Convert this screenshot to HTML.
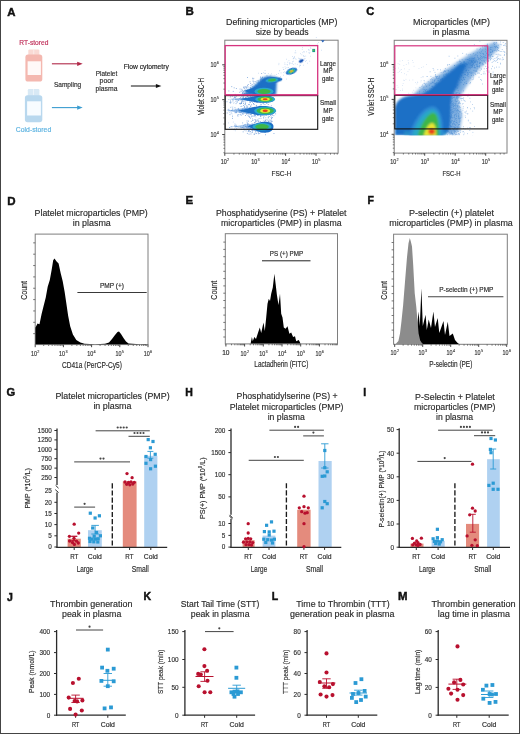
<!DOCTYPE html>
<html><head><meta charset="utf-8"><style>
html,body{margin:0;padding:0;background:#fff;}
body{width:520px;height:734px;overflow:hidden;}
svg{display:block;font-family:"Liberation Sans", sans-serif;will-change:transform;filter:blur(0.3px);}
</style></head><body>
<svg width="520" height="734" viewBox="0 0 520 734">
<rect x="0" y="0" width="520" height="734" fill="#fff"/>
<text x="7.3" y="15.6" font-size="11.4" text-anchor="start" font-weight="bold" fill="#111" stroke="#111" stroke-width="0.45">A</text>
<text x="185.6" y="15.0" font-size="11.5" text-anchor="start" font-weight="bold" fill="#111" stroke="#111" stroke-width="0.45">B</text>
<text x="366.2" y="15.4" font-size="11.2" text-anchor="start" font-weight="bold" fill="#111" stroke="#111" stroke-width="0.45">C</text>
<text x="7.2" y="204.6" font-size="11.5" text-anchor="start" font-weight="bold" fill="#111" stroke="#111" stroke-width="0.45">D</text>
<text x="185.5" y="204.4" font-size="11.5" text-anchor="start" font-weight="bold" fill="#111" stroke="#111" stroke-width="0.45">E</text>
<text x="367.5" y="204.3" font-size="10.5" text-anchor="start" font-weight="bold" fill="#111" stroke="#111" stroke-width="0.45">F</text>
<text x="6.5" y="396.2" font-size="11.2" text-anchor="start" font-weight="bold" fill="#111" stroke="#111" stroke-width="0.45">G</text>
<text x="185.2" y="396.4" font-size="10.5" text-anchor="start" font-weight="bold" fill="#111" stroke="#111" stroke-width="0.45">H</text>
<text x="363.2" y="395.8" font-size="10.5" text-anchor="start" font-weight="bold" fill="#111" stroke="#111" stroke-width="0.45">I</text>
<text x="7.0" y="600.5" font-size="10.5" text-anchor="start" font-weight="bold" fill="#111" stroke="#111" stroke-width="0.45">J</text>
<text x="143.5" y="600.0" font-size="10.5" text-anchor="start" font-weight="bold" fill="#111" stroke="#111" stroke-width="0.45">K</text>
<text x="271.8" y="600.0" font-size="10.5" text-anchor="start" font-weight="bold" fill="#111" stroke="#111" stroke-width="0.45">L</text>
<text x="397.9" y="600.3" font-size="11.4" text-anchor="start" font-weight="bold" fill="#111" stroke="#111" stroke-width="0.45">M</text>
<text x="19.3" y="45.0" font-size="6.7" text-anchor="start" fill="#c0305a" stroke="#c0305a" stroke-width="0.16" textLength="29.1" lengthAdjust="spacingAndGlyphs">RT-stored</text>
<text x="15.8" y="131.9" font-size="7.4" text-anchor="start" fill="#5ab2e0" stroke="#5ab2e0" stroke-width="0.16" textLength="35.4" lengthAdjust="spacingAndGlyphs">Cold-stored</text>
<rect x="28.3" y="49.6" width="11.1" height="6.5" rx="1.2" fill="#f9dad4"/>
<rect x="33.4" y="49.6" width="0.8" height="5.0" fill="#ffffff" opacity="0.6"/>
<rect x="25.4" y="54.6" width="16.9" height="26.9" rx="2.6" fill="#f4b8b0"/>
<rect x="27.60" y="61.30" width="13.30" height="13.70" fill="#fff9f8" stroke="none" stroke-width="1"/>
<rect x="27.8" y="89.0" width="11.6" height="7.8" rx="1.2" fill="#d8e9f5"/>
<rect x="33.2" y="89.0" width="0.8" height="6.3" fill="#ffffff" opacity="0.6"/>
<rect x="24.9" y="95.3" width="17.4" height="26.9" rx="2.6" fill="#b9d8ee"/>
<rect x="27.10" y="101.30" width="13.80" height="14.20" fill="#f8fcff" stroke="none" stroke-width="1"/>
<line x1="51.90" y1="63.80" x2="78.70" y2="63.80" stroke="#b02848" stroke-width="1.1"/>
<path d="M77.2,61.7 L82.7,63.8 L77.2,65.9 Z" fill="#b02848"/>
<line x1="51.90" y1="107.60" x2="78.70" y2="107.60" stroke="#3a9cd0" stroke-width="1.1"/>
<path d="M77.2,105.5 L82.7,107.6 L77.2,109.7 Z" fill="#3a9cd0"/>
<text x="53.9" y="86.5" font-size="7.5" text-anchor="start" fill="#2b2b2b" stroke="#2b2b2b" stroke-width="0.16" textLength="27.3" lengthAdjust="spacingAndGlyphs">Sampling</text>
<text x="106.5" y="75.5" font-size="7.5" text-anchor="middle" fill="#2b2b2b" stroke="#2b2b2b" stroke-width="0.16" textLength="21.5" lengthAdjust="spacingAndGlyphs">Platelet</text>
<text x="106.5" y="83.2" font-size="7.5" text-anchor="middle" fill="#2b2b2b" stroke="#2b2b2b" stroke-width="0.16" textLength="14.0" lengthAdjust="spacingAndGlyphs">poor</text>
<text x="106.5" y="90.8" font-size="7.5" text-anchor="middle" fill="#2b2b2b" stroke="#2b2b2b" stroke-width="0.16" textLength="22.0" lengthAdjust="spacingAndGlyphs">plasma</text>
<text x="123.7" y="68.8" font-size="6.8" text-anchor="start" fill="#222" stroke="#222" stroke-width="0.16" textLength="45.1" lengthAdjust="spacingAndGlyphs">Flow cytometry</text>
<line x1="130.90" y1="86.00" x2="157.40" y2="86.00" stroke="#111" stroke-width="1.0"/>
<path d="M155.9,83.9 L161.4,86.0 L155.9,88.1 Z" fill="#111"/>
<defs>
<filter id="bl" x="-50%" y="-50%" width="200%" height="200%"><feGaussianBlur stdDeviation="0.9"/></filter>
<filter id="bl2" x="-50%" y="-50%" width="200%" height="200%"><feGaussianBlur stdDeviation="1.6"/></filter>
<filter id="bl3" x="-50%" y="-50%" width="200%" height="200%"><feGaussianBlur stdDeviation="0.5"/></filter>
</defs>
<text x="226.0" y="24.7" font-size="9" text-anchor="start" fill="#2b2b2b" stroke="#2b2b2b" stroke-width="0.16" textLength="111.5" lengthAdjust="spacingAndGlyphs">Defining microparticles (MP)</text>
<text x="255.7" y="34.9" font-size="9" text-anchor="start" fill="#2b2b2b" stroke="#2b2b2b" stroke-width="0.16" textLength="53.0" lengthAdjust="spacingAndGlyphs">size by beads</text>
<rect x="224.80" y="40.20" width="113.30" height="113.00" fill="#fff" stroke="#7e7e7e" stroke-width="1.0"/>
<g fill="#5a8fd6" opacity="0.5"><rect x="275.9" y="81.7" width="0.7" height="0.7"/><rect x="252.3" y="86.0" width="0.7" height="0.7"/><rect x="254.4" y="87.5" width="0.7" height="0.7"/><rect x="280.7" y="72.6" width="0.7" height="0.7"/><rect x="279.4" y="70.1" width="0.7" height="0.7"/><rect x="258.2" y="72.8" width="0.7" height="0.7"/><rect x="278.0" y="73.2" width="0.7" height="0.7"/><rect x="257.2" y="85.2" width="0.7" height="0.7"/><rect x="263.8" y="86.5" width="0.7" height="0.7"/><rect x="305.1" y="61.1" width="0.7" height="0.7"/><rect x="287.7" y="67.2" width="0.7" height="0.7"/><rect x="258.7" y="88.5" width="0.7" height="0.7"/><rect x="290.7" y="63.1" width="0.7" height="0.7"/><rect x="284.7" y="66.5" width="0.7" height="0.7"/><rect x="300.2" y="53.4" width="0.7" height="0.7"/><rect x="278.5" y="64.4" width="0.7" height="0.7"/><rect x="294.3" y="71.6" width="0.7" height="0.7"/><rect x="252.7" y="88.8" width="0.7" height="0.7"/><rect x="260.2" y="83.7" width="0.7" height="0.7"/><rect x="294.0" y="56.1" width="0.7" height="0.7"/><rect x="303.6" y="59.6" width="0.7" height="0.7"/><rect x="284.5" y="62.6" width="0.7" height="0.7"/><rect x="308.9" y="53.0" width="0.7" height="0.7"/><rect x="299.7" y="64.7" width="0.7" height="0.7"/><rect x="300.5" y="62.5" width="0.7" height="0.7"/><rect x="264.6" y="82.4" width="0.7" height="0.7"/><rect x="250.7" y="89.7" width="0.7" height="0.7"/><rect x="266.4" y="87.9" width="0.7" height="0.7"/><rect x="260.1" y="89.0" width="0.7" height="0.7"/><rect x="310.3" y="55.8" width="0.7" height="0.7"/><rect x="292.3" y="61.4" width="0.7" height="0.7"/><rect x="304.7" y="58.3" width="0.7" height="0.7"/><rect x="282.7" y="67.4" width="0.7" height="0.7"/><rect x="262.8" y="86.6" width="0.7" height="0.7"/><rect x="260.5" y="80.8" width="0.7" height="0.7"/><rect x="273.0" y="79.1" width="0.7" height="0.7"/><rect x="264.7" y="70.0" width="0.7" height="0.7"/><rect x="288.6" y="60.4" width="0.7" height="0.7"/><rect x="303.0" y="64.8" width="0.7" height="0.7"/><rect x="306.0" y="51.5" width="0.7" height="0.7"/><rect x="274.6" y="74.8" width="0.7" height="0.7"/><rect x="292.9" y="64.0" width="0.7" height="0.7"/><rect x="267.1" y="84.7" width="0.7" height="0.7"/><rect x="257.8" y="87.8" width="0.7" height="0.7"/><rect x="257.6" y="86.5" width="0.7" height="0.7"/><rect x="304.3" y="51.6" width="0.7" height="0.7"/><rect x="265.2" y="82.9" width="0.7" height="0.7"/><rect x="267.9" y="73.3" width="0.7" height="0.7"/><rect x="279.0" y="70.6" width="0.7" height="0.7"/><rect x="256.4" y="88.7" width="0.7" height="0.7"/><rect x="303.9" y="56.0" width="0.7" height="0.7"/><rect x="308.5" y="49.6" width="0.7" height="0.7"/><rect x="291.1" y="68.1" width="0.7" height="0.7"/><rect x="317.2" y="43.6" width="0.7" height="0.7"/><rect x="266.4" y="81.1" width="0.7" height="0.7"/><rect x="292.2" y="56.0" width="0.7" height="0.7"/><rect x="273.8" y="84.3" width="0.7" height="0.7"/><rect x="318.0" y="42.1" width="0.7" height="0.7"/><rect x="302.5" y="52.4" width="0.7" height="0.7"/><rect x="283.4" y="69.1" width="0.7" height="0.7"/><rect x="253.1" y="92.3" width="0.7" height="0.7"/><rect x="299.7" y="59.6" width="0.7" height="0.7"/><rect x="321.3" y="49.8" width="0.7" height="0.7"/><rect x="275.2" y="77.9" width="0.7" height="0.7"/><rect x="266.0" y="87.8" width="0.7" height="0.7"/><rect x="310.6" y="47.9" width="0.7" height="0.7"/><rect x="293.1" y="60.8" width="0.7" height="0.7"/><rect x="299.6" y="58.0" width="0.7" height="0.7"/><rect x="295.7" y="58.9" width="0.7" height="0.7"/><rect x="296.9" y="63.9" width="0.7" height="0.7"/><rect x="308.6" y="52.0" width="0.7" height="0.7"/><rect x="310.3" y="47.5" width="0.7" height="0.7"/><rect x="265.6" y="92.6" width="0.7" height="0.7"/><rect x="307.1" y="62.8" width="0.7" height="0.7"/><rect x="310.5" y="45.3" width="0.7" height="0.7"/><rect x="286.5" y="67.5" width="0.7" height="0.7"/><rect x="309.0" y="44.8" width="0.7" height="0.7"/><rect x="301.5" y="54.5" width="0.7" height="0.7"/><rect x="304.1" y="58.6" width="0.7" height="0.7"/><rect x="270.5" y="83.7" width="0.7" height="0.7"/><rect x="266.0" y="80.3" width="0.7" height="0.7"/><rect x="305.4" y="55.7" width="0.7" height="0.7"/><rect x="292.0" y="62.8" width="0.7" height="0.7"/><rect x="303.4" y="51.4" width="0.7" height="0.7"/><rect x="289.3" y="68.6" width="0.7" height="0.7"/><rect x="271.4" y="82.5" width="0.7" height="0.7"/><rect x="255.6" y="84.0" width="0.7" height="0.7"/><rect x="284.0" y="71.5" width="0.7" height="0.7"/><rect x="286.9" y="64.6" width="0.7" height="0.7"/><rect x="286.8" y="70.1" width="0.7" height="0.7"/><rect x="294.1" y="57.3" width="0.7" height="0.7"/><rect x="303.3" y="55.5" width="0.7" height="0.7"/><rect x="284.6" y="64.1" width="0.7" height="0.7"/><rect x="289.6" y="62.5" width="0.7" height="0.7"/><rect x="288.1" y="67.4" width="0.7" height="0.7"/><rect x="309.6" y="51.9" width="0.7" height="0.7"/><rect x="294.8" y="63.5" width="0.7" height="0.7"/><rect x="264.0" y="87.6" width="0.7" height="0.7"/><rect x="256.6" y="88.7" width="0.7" height="0.7"/><rect x="295.5" y="52.5" width="0.7" height="0.7"/><rect x="260.2" y="77.1" width="0.7" height="0.7"/><rect x="269.6" y="76.1" width="0.7" height="0.7"/><rect x="269.9" y="79.4" width="0.7" height="0.7"/><rect x="290.7" y="69.0" width="0.7" height="0.7"/><rect x="257.1" y="85.5" width="0.7" height="0.7"/><rect x="274.3" y="79.5" width="0.7" height="0.7"/><rect x="302.4" y="60.4" width="0.7" height="0.7"/><rect x="283.3" y="72.0" width="0.7" height="0.7"/><rect x="289.0" y="63.7" width="0.7" height="0.7"/><rect x="315.9" y="37.0" width="0.7" height="0.7"/><rect x="258.4" y="86.9" width="0.7" height="0.7"/><rect x="300.0" y="59.6" width="0.7" height="0.7"/><rect x="285.2" y="67.9" width="0.7" height="0.7"/><rect x="274.0" y="87.3" width="0.7" height="0.7"/><rect x="286.8" y="64.2" width="0.7" height="0.7"/><rect x="253.8" y="83.2" width="0.7" height="0.7"/><rect x="262.4" y="84.5" width="0.7" height="0.7"/><rect x="309.4" y="60.8" width="0.7" height="0.7"/><rect x="259.4" y="83.4" width="0.7" height="0.7"/><rect x="263.3" y="72.4" width="0.7" height="0.7"/><rect x="272.4" y="82.7" width="0.7" height="0.7"/><rect x="268.8" y="81.7" width="0.7" height="0.7"/><rect x="256.3" y="91.6" width="0.7" height="0.7"/><rect x="271.1" y="73.5" width="0.7" height="0.7"/><rect x="284.8" y="72.7" width="0.7" height="0.7"/><rect x="253.1" y="90.0" width="0.7" height="0.7"/><rect x="294.7" y="58.3" width="0.7" height="0.7"/><rect x="283.4" y="69.2" width="0.7" height="0.7"/><rect x="298.0" y="57.8" width="0.7" height="0.7"/><rect x="299.6" y="58.3" width="0.7" height="0.7"/><rect x="298.7" y="60.7" width="0.7" height="0.7"/><rect x="301.9" y="48.9" width="0.7" height="0.7"/><rect x="276.2" y="74.2" width="0.7" height="0.7"/><rect x="266.7" y="87.7" width="0.7" height="0.7"/><rect x="268.8" y="80.9" width="0.7" height="0.7"/><rect x="308.8" y="49.8" width="0.7" height="0.7"/><rect x="269.7" y="81.9" width="0.7" height="0.7"/><rect x="283.2" y="74.8" width="0.7" height="0.7"/><rect x="280.0" y="76.1" width="0.7" height="0.7"/><rect x="286.3" y="78.7" width="0.7" height="0.7"/><rect x="271.1" y="77.2" width="0.7" height="0.7"/><rect x="270.4" y="74.8" width="0.7" height="0.7"/><rect x="264.0" y="81.5" width="0.7" height="0.7"/><rect x="272.2" y="81.3" width="0.7" height="0.7"/><rect x="258.4" y="88.8" width="0.7" height="0.7"/><rect x="261.7" y="77.4" width="0.7" height="0.7"/><rect x="294.6" y="52.5" width="0.7" height="0.7"/><rect x="303.4" y="55.6" width="0.7" height="0.7"/><rect x="317.3" y="54.5" width="0.7" height="0.7"/><rect x="300.1" y="65.3" width="0.7" height="0.7"/><rect x="302.2" y="47.3" width="0.7" height="0.7"/><rect x="305.9" y="60.1" width="0.7" height="0.7"/><rect x="287.4" y="61.8" width="0.7" height="0.7"/><rect x="295.0" y="50.5" width="0.7" height="0.7"/><rect x="293.2" y="58.3" width="0.7" height="0.7"/><rect x="256.8" y="91.9" width="0.7" height="0.7"/><rect x="261.5" y="80.7" width="0.7" height="0.7"/><rect x="286.2" y="58.8" width="0.7" height="0.7"/><rect x="290.4" y="69.6" width="0.7" height="0.7"/><rect x="292.8" y="58.5" width="0.7" height="0.7"/><rect x="299.6" y="65.3" width="0.7" height="0.7"/><rect x="270.8" y="81.0" width="0.7" height="0.7"/><rect x="299.3" y="66.5" width="0.7" height="0.7"/><rect x="308.1" y="49.2" width="0.7" height="0.7"/><rect x="278.6" y="62.9" width="0.7" height="0.7"/><rect x="289.1" y="62.7" width="0.7" height="0.7"/><rect x="261.0" y="91.2" width="0.7" height="0.7"/><rect x="270.2" y="76.9" width="0.7" height="0.7"/><rect x="255.0" y="94.1" width="0.7" height="0.7"/><rect x="293.2" y="57.6" width="0.7" height="0.7"/></g>
<g fill="#3a7fd0" opacity="0.5"><rect x="243.8" y="109.3" width="0.7" height="0.7"/><rect x="238.6" y="110.5" width="0.7" height="0.7"/><rect x="259.8" y="101.4" width="0.7" height="0.7"/><rect x="261.8" y="126.4" width="0.7" height="0.7"/><rect x="235.1" y="127.5" width="0.7" height="0.7"/><rect x="232.8" y="98.7" width="0.7" height="0.7"/><rect x="260.4" y="112.8" width="0.7" height="0.7"/><rect x="258.2" y="113.0" width="0.7" height="0.7"/><rect x="235.9" y="112.1" width="0.7" height="0.7"/><rect x="233.4" y="97.8" width="0.7" height="0.7"/><rect x="251.2" y="123.5" width="0.7" height="0.7"/><rect x="239.7" y="128.0" width="0.7" height="0.7"/><rect x="232.1" y="109.4" width="0.7" height="0.7"/><rect x="256.5" y="111.8" width="0.7" height="0.7"/><rect x="260.0" y="99.3" width="0.7" height="0.7"/><rect x="236.6" y="110.6" width="0.7" height="0.7"/><rect x="241.4" y="101.9" width="0.7" height="0.7"/><rect x="259.5" y="110.3" width="0.7" height="0.7"/><rect x="257.0" y="110.2" width="0.7" height="0.7"/><rect x="249.6" y="110.9" width="0.7" height="0.7"/><rect x="236.5" y="110.1" width="0.7" height="0.7"/><rect x="254.3" y="112.7" width="0.7" height="0.7"/><rect x="258.1" y="127.3" width="0.7" height="0.7"/><rect x="252.5" y="107.7" width="0.7" height="0.7"/><rect x="259.7" y="96.9" width="0.7" height="0.7"/><rect x="249.9" y="111.8" width="0.7" height="0.7"/><rect x="244.5" y="112.5" width="0.7" height="0.7"/><rect x="244.1" y="109.0" width="0.7" height="0.7"/><rect x="237.6" y="110.2" width="0.7" height="0.7"/><rect x="241.8" y="113.6" width="0.7" height="0.7"/><rect x="238.2" y="108.4" width="0.7" height="0.7"/><rect x="249.9" y="109.6" width="0.7" height="0.7"/><rect x="235.1" y="101.1" width="0.7" height="0.7"/><rect x="243.4" y="109.0" width="0.7" height="0.7"/><rect x="261.9" y="109.3" width="0.7" height="0.7"/><rect x="236.3" y="110.6" width="0.7" height="0.7"/><rect x="239.6" y="111.5" width="0.7" height="0.7"/><rect x="255.5" y="111.1" width="0.7" height="0.7"/><rect x="258.2" y="110.3" width="0.7" height="0.7"/><rect x="253.4" y="124.1" width="0.7" height="0.7"/><rect x="240.8" y="109.9" width="0.7" height="0.7"/><rect x="247.5" y="110.9" width="0.7" height="0.7"/><rect x="232.3" y="107.5" width="0.7" height="0.7"/><rect x="231.1" y="110.2" width="0.7" height="0.7"/><rect x="241.1" y="109.0" width="0.7" height="0.7"/><rect x="256.9" y="108.6" width="0.7" height="0.7"/><rect x="232.3" y="96.2" width="0.7" height="0.7"/><rect x="260.9" y="127.7" width="0.7" height="0.7"/><rect x="228.0" y="122.6" width="0.7" height="0.7"/><rect x="261.1" y="129.1" width="0.7" height="0.7"/><rect x="254.6" y="110.5" width="0.7" height="0.7"/><rect x="260.0" y="100.3" width="0.7" height="0.7"/><rect x="230.9" y="126.2" width="0.7" height="0.7"/><rect x="235.9" y="110.2" width="0.7" height="0.7"/><rect x="249.9" y="98.9" width="0.7" height="0.7"/><rect x="246.0" y="111.3" width="0.7" height="0.7"/><rect x="251.8" y="126.8" width="0.7" height="0.7"/><rect x="241.2" y="110.8" width="0.7" height="0.7"/><rect x="254.9" y="112.8" width="0.7" height="0.7"/><rect x="237.5" y="126.2" width="0.7" height="0.7"/><rect x="249.9" y="112.0" width="0.7" height="0.7"/><rect x="246.6" y="108.8" width="0.7" height="0.7"/><rect x="260.7" y="98.7" width="0.7" height="0.7"/><rect x="234.6" y="97.6" width="0.7" height="0.7"/><rect x="230.8" y="126.5" width="0.7" height="0.7"/><rect x="235.7" y="112.4" width="0.7" height="0.7"/><rect x="251.7" y="98.8" width="0.7" height="0.7"/><rect x="234.7" y="124.3" width="0.7" height="0.7"/><rect x="253.1" y="108.9" width="0.7" height="0.7"/><rect x="238.6" y="110.3" width="0.7" height="0.7"/><rect x="235.8" y="110.9" width="0.7" height="0.7"/><rect x="231.7" y="113.6" width="0.7" height="0.7"/><rect x="248.7" y="128.0" width="0.7" height="0.7"/><rect x="260.3" y="97.8" width="0.7" height="0.7"/><rect x="259.3" y="110.7" width="0.7" height="0.7"/><rect x="242.1" y="110.4" width="0.7" height="0.7"/><rect x="234.3" y="96.2" width="0.7" height="0.7"/><rect x="252.9" y="111.3" width="0.7" height="0.7"/><rect x="259.7" y="98.6" width="0.7" height="0.7"/><rect x="229.1" y="127.3" width="0.7" height="0.7"/><rect x="256.5" y="128.4" width="0.7" height="0.7"/><rect x="228.1" y="99.0" width="0.7" height="0.7"/><rect x="230.7" y="106.7" width="0.7" height="0.7"/><rect x="240.9" y="112.3" width="0.7" height="0.7"/><rect x="255.9" y="109.7" width="0.7" height="0.7"/><rect x="234.7" y="126.5" width="0.7" height="0.7"/><rect x="234.6" y="123.4" width="0.7" height="0.7"/><rect x="249.5" y="102.4" width="0.7" height="0.7"/><rect x="255.6" y="110.4" width="0.7" height="0.7"/><rect x="243.8" y="98.6" width="0.7" height="0.7"/><rect x="236.7" y="99.1" width="0.7" height="0.7"/><rect x="240.3" y="106.0" width="0.7" height="0.7"/><rect x="260.6" y="109.1" width="0.7" height="0.7"/><rect x="259.4" y="109.3" width="0.7" height="0.7"/><rect x="228.1" y="110.5" width="0.7" height="0.7"/><rect x="228.8" y="94.7" width="0.7" height="0.7"/><rect x="231.6" y="109.8" width="0.7" height="0.7"/><rect x="254.9" y="124.0" width="0.7" height="0.7"/><rect x="255.7" y="127.8" width="0.7" height="0.7"/><rect x="255.3" y="100.9" width="0.7" height="0.7"/><rect x="256.0" y="110.7" width="0.7" height="0.7"/><rect x="257.3" y="107.6" width="0.7" height="0.7"/><rect x="240.3" y="126.4" width="0.7" height="0.7"/><rect x="241.3" y="109.5" width="0.7" height="0.7"/><rect x="236.4" y="110.8" width="0.7" height="0.7"/><rect x="233.5" y="110.5" width="0.7" height="0.7"/><rect x="258.0" y="127.8" width="0.7" height="0.7"/><rect x="235.1" y="99.1" width="0.7" height="0.7"/><rect x="244.9" y="125.7" width="0.7" height="0.7"/><rect x="232.5" y="108.2" width="0.7" height="0.7"/><rect x="249.1" y="124.7" width="0.7" height="0.7"/><rect x="254.5" y="96.2" width="0.7" height="0.7"/><rect x="238.0" y="108.5" width="0.7" height="0.7"/><rect x="234.8" y="109.5" width="0.7" height="0.7"/><rect x="234.3" y="110.4" width="0.7" height="0.7"/><rect x="239.1" y="111.9" width="0.7" height="0.7"/><rect x="236.6" y="126.3" width="0.7" height="0.7"/><rect x="250.2" y="101.6" width="0.7" height="0.7"/><rect x="231.5" y="95.5" width="0.7" height="0.7"/><rect x="259.1" y="126.8" width="0.7" height="0.7"/><rect x="257.8" y="99.3" width="0.7" height="0.7"/><rect x="259.6" y="110.9" width="0.7" height="0.7"/><rect x="245.4" y="111.5" width="0.7" height="0.7"/><rect x="231.6" y="101.6" width="0.7" height="0.7"/><rect x="235.4" y="109.6" width="0.7" height="0.7"/><rect x="262.0" y="111.1" width="0.7" height="0.7"/><rect x="248.4" y="98.4" width="0.7" height="0.7"/><rect x="255.8" y="98.1" width="0.7" height="0.7"/><rect x="251.1" y="126.9" width="0.7" height="0.7"/><rect x="229.1" y="111.9" width="0.7" height="0.7"/><rect x="246.6" y="127.1" width="0.7" height="0.7"/><rect x="250.6" y="126.6" width="0.7" height="0.7"/><rect x="249.7" y="111.3" width="0.7" height="0.7"/><rect x="241.9" y="110.9" width="0.7" height="0.7"/><rect x="250.7" y="109.7" width="0.7" height="0.7"/><rect x="242.1" y="110.6" width="0.7" height="0.7"/><rect x="257.4" y="101.1" width="0.7" height="0.7"/><rect x="241.3" y="110.3" width="0.7" height="0.7"/><rect x="234.9" y="130.5" width="0.7" height="0.7"/><rect x="231.9" y="126.4" width="0.7" height="0.7"/><rect x="241.8" y="100.8" width="0.7" height="0.7"/><rect x="232.4" y="108.8" width="0.7" height="0.7"/><rect x="246.8" y="96.4" width="0.7" height="0.7"/><rect x="247.5" y="95.8" width="0.7" height="0.7"/><rect x="253.1" y="111.2" width="0.7" height="0.7"/><rect x="245.7" y="111.9" width="0.7" height="0.7"/><rect x="231.7" y="95.6" width="0.7" height="0.7"/><rect x="238.3" y="110.5" width="0.7" height="0.7"/><rect x="261.2" y="98.5" width="0.7" height="0.7"/><rect x="230.9" y="126.3" width="0.7" height="0.7"/><rect x="249.8" y="112.0" width="0.7" height="0.7"/><rect x="256.2" y="108.1" width="0.7" height="0.7"/><rect x="247.2" y="114.9" width="0.7" height="0.7"/><rect x="241.0" y="111.5" width="0.7" height="0.7"/><rect x="233.1" y="102.8" width="0.7" height="0.7"/><rect x="229.4" y="109.6" width="0.7" height="0.7"/><rect x="250.7" y="98.3" width="0.7" height="0.7"/><rect x="246.7" y="128.0" width="0.7" height="0.7"/><rect x="250.1" y="109.8" width="0.7" height="0.7"/><rect x="250.4" y="127.6" width="0.7" height="0.7"/><rect x="245.1" y="126.3" width="0.7" height="0.7"/><rect x="243.8" y="126.4" width="0.7" height="0.7"/><rect x="254.0" y="126.6" width="0.7" height="0.7"/><rect x="255.6" y="108.1" width="0.7" height="0.7"/><rect x="231.6" y="127.7" width="0.7" height="0.7"/><rect x="255.3" y="100.7" width="0.7" height="0.7"/><rect x="229.4" y="102.3" width="0.7" height="0.7"/><rect x="254.4" y="113.6" width="0.7" height="0.7"/><rect x="229.8" y="97.3" width="0.7" height="0.7"/><rect x="228.9" y="110.3" width="0.7" height="0.7"/><rect x="261.9" y="98.8" width="0.7" height="0.7"/><rect x="232.5" y="106.6" width="0.7" height="0.7"/><rect x="237.8" y="127.5" width="0.7" height="0.7"/><rect x="230.2" y="107.0" width="0.7" height="0.7"/><rect x="248.8" y="110.3" width="0.7" height="0.7"/><rect x="258.8" y="112.1" width="0.7" height="0.7"/><rect x="232.9" y="121.7" width="0.7" height="0.7"/><rect x="248.1" y="110.2" width="0.7" height="0.7"/><rect x="238.8" y="111.5" width="0.7" height="0.7"/><rect x="249.6" y="110.6" width="0.7" height="0.7"/><rect x="251.1" y="111.3" width="0.7" height="0.7"/><rect x="231.9" y="109.6" width="0.7" height="0.7"/><rect x="249.6" y="96.6" width="0.7" height="0.7"/><rect x="236.6" y="102.3" width="0.7" height="0.7"/><rect x="253.1" y="124.9" width="0.7" height="0.7"/><rect x="247.6" y="111.7" width="0.7" height="0.7"/><rect x="239.2" y="111.6" width="0.7" height="0.7"/><rect x="238.1" y="99.9" width="0.7" height="0.7"/><rect x="238.5" y="114.3" width="0.7" height="0.7"/><rect x="252.9" y="109.4" width="0.7" height="0.7"/><rect x="235.5" y="98.5" width="0.7" height="0.7"/><rect x="245.4" y="128.9" width="0.7" height="0.7"/><rect x="232.5" y="99.6" width="0.7" height="0.7"/><rect x="229.8" y="102.1" width="0.7" height="0.7"/><rect x="238.3" y="107.9" width="0.7" height="0.7"/><rect x="247.8" y="125.8" width="0.7" height="0.7"/><rect x="234.9" y="108.7" width="0.7" height="0.7"/><rect x="228.5" y="108.7" width="0.7" height="0.7"/><rect x="252.1" y="109.6" width="0.7" height="0.7"/><rect x="257.6" y="110.5" width="0.7" height="0.7"/><rect x="241.7" y="110.3" width="0.7" height="0.7"/><rect x="248.2" y="110.6" width="0.7" height="0.7"/><rect x="248.5" y="123.9" width="0.7" height="0.7"/><rect x="258.7" y="110.0" width="0.7" height="0.7"/><rect x="230.1" y="100.5" width="0.7" height="0.7"/><rect x="230.0" y="110.5" width="0.7" height="0.7"/><rect x="228.4" y="94.7" width="0.7" height="0.7"/><rect x="242.0" y="108.8" width="0.7" height="0.7"/><rect x="255.7" y="127.0" width="0.7" height="0.7"/><rect x="249.3" y="111.8" width="0.7" height="0.7"/><rect x="252.3" y="130.1" width="0.7" height="0.7"/><rect x="230.7" y="126.4" width="0.7" height="0.7"/><rect x="234.0" y="127.8" width="0.7" height="0.7"/><rect x="232.2" y="99.2" width="0.7" height="0.7"/><rect x="252.2" y="110.0" width="0.7" height="0.7"/><rect x="251.3" y="128.7" width="0.7" height="0.7"/><rect x="238.1" y="114.1" width="0.7" height="0.7"/><rect x="257.9" y="97.4" width="0.7" height="0.7"/><rect x="233.8" y="102.4" width="0.7" height="0.7"/><rect x="260.1" y="108.1" width="0.7" height="0.7"/></g>
<g fill="#2f6fc6" opacity="0.6"><rect x="251.2" y="100.9" width="0.9" height="0.9"/><rect x="255.9" y="104.9" width="0.9" height="0.9"/><rect x="241.2" y="95.5" width="0.9" height="0.9"/><rect x="235.1" y="95.3" width="0.9" height="0.9"/><rect x="257.0" y="98.2" width="0.9" height="0.9"/><rect x="248.0" y="104.2" width="0.9" height="0.9"/><rect x="267.5" y="99.7" width="0.9" height="0.9"/><rect x="257.5" y="98.4" width="0.9" height="0.9"/><rect x="261.8" y="99.3" width="0.9" height="0.9"/><rect x="242.6" y="97.8" width="0.9" height="0.9"/><rect x="236.5" y="100.6" width="0.9" height="0.9"/><rect x="236.8" y="101.5" width="0.9" height="0.9"/><rect x="226.5" y="101.3" width="0.9" height="0.9"/><rect x="261.7" y="100.6" width="0.9" height="0.9"/><rect x="262.5" y="99.6" width="0.9" height="0.9"/><rect x="251.4" y="96.0" width="0.9" height="0.9"/><rect x="245.5" y="97.6" width="0.9" height="0.9"/><rect x="261.4" y="99.3" width="0.9" height="0.9"/><rect x="252.0" y="101.7" width="0.9" height="0.9"/><rect x="266.1" y="98.4" width="0.9" height="0.9"/><rect x="265.7" y="100.9" width="0.9" height="0.9"/><rect x="266.9" y="101.3" width="0.9" height="0.9"/><rect x="242.0" y="99.7" width="0.9" height="0.9"/><rect x="242.9" y="96.9" width="0.9" height="0.9"/><rect x="262.8" y="98.8" width="0.9" height="0.9"/><rect x="260.0" y="99.9" width="0.9" height="0.9"/><rect x="250.1" y="99.2" width="0.9" height="0.9"/><rect x="230.4" y="102.2" width="0.9" height="0.9"/><rect x="240.8" y="99.4" width="0.9" height="0.9"/><rect x="252.4" y="96.4" width="0.9" height="0.9"/><rect x="270.9" y="105.4" width="0.9" height="0.9"/><rect x="252.8" y="98.2" width="0.9" height="0.9"/><rect x="241.0" y="101.6" width="0.9" height="0.9"/><rect x="262.5" y="97.7" width="0.9" height="0.9"/><rect x="242.6" y="97.4" width="0.9" height="0.9"/><rect x="249.3" y="100.1" width="0.9" height="0.9"/><rect x="258.0" y="98.8" width="0.9" height="0.9"/><rect x="254.5" y="101.7" width="0.9" height="0.9"/><rect x="239.1" y="102.9" width="0.9" height="0.9"/><rect x="249.5" y="94.9" width="0.9" height="0.9"/><rect x="259.4" y="95.5" width="0.9" height="0.9"/><rect x="249.7" y="102.0" width="0.9" height="0.9"/><rect x="262.8" y="95.6" width="0.9" height="0.9"/><rect x="254.4" y="99.7" width="0.9" height="0.9"/><rect x="243.5" y="101.3" width="0.9" height="0.9"/><rect x="260.0" y="100.0" width="0.9" height="0.9"/><rect x="260.8" y="94.4" width="0.9" height="0.9"/><rect x="258.5" y="99.2" width="0.9" height="0.9"/><rect x="261.2" y="99.0" width="0.9" height="0.9"/><rect x="253.0" y="103.3" width="0.9" height="0.9"/><rect x="235.6" y="103.2" width="0.9" height="0.9"/><rect x="260.5" y="103.8" width="0.9" height="0.9"/><rect x="259.4" y="96.4" width="0.9" height="0.9"/><rect x="249.2" y="100.6" width="0.9" height="0.9"/><rect x="262.6" y="99.6" width="0.9" height="0.9"/><rect x="239.4" y="98.1" width="0.9" height="0.9"/><rect x="245.3" y="97.1" width="0.9" height="0.9"/><rect x="255.3" y="95.7" width="0.9" height="0.9"/><rect x="257.8" y="97.7" width="0.9" height="0.9"/><rect x="242.6" y="97.6" width="0.9" height="0.9"/><rect x="260.1" y="93.9" width="0.9" height="0.9"/><rect x="245.2" y="101.6" width="0.9" height="0.9"/><rect x="245.2" y="97.0" width="0.9" height="0.9"/><rect x="242.6" y="101.4" width="0.9" height="0.9"/><rect x="262.4" y="95.2" width="0.9" height="0.9"/><rect x="251.7" y="96.7" width="0.9" height="0.9"/><rect x="256.7" y="97.4" width="0.9" height="0.9"/><rect x="230.0" y="100.7" width="0.9" height="0.9"/><rect x="269.2" y="96.7" width="0.9" height="0.9"/><rect x="241.0" y="102.4" width="0.9" height="0.9"/><rect x="253.0" y="103.0" width="0.9" height="0.9"/><rect x="264.6" y="101.9" width="0.9" height="0.9"/><rect x="249.0" y="98.1" width="0.9" height="0.9"/><rect x="250.7" y="100.7" width="0.9" height="0.9"/><rect x="229.9" y="102.6" width="0.9" height="0.9"/><rect x="247.0" y="95.8" width="0.9" height="0.9"/><rect x="244.5" y="104.4" width="0.9" height="0.9"/><rect x="257.3" y="98.8" width="0.9" height="0.9"/><rect x="256.5" y="99.4" width="0.9" height="0.9"/><rect x="243.6" y="98.0" width="0.9" height="0.9"/><rect x="263.2" y="103.4" width="0.9" height="0.9"/><rect x="264.6" y="100.1" width="0.9" height="0.9"/><rect x="267.9" y="100.3" width="0.9" height="0.9"/><rect x="255.3" y="100.5" width="0.9" height="0.9"/><rect x="237.6" y="99.8" width="0.9" height="0.9"/><rect x="234.1" y="97.0" width="0.9" height="0.9"/><rect x="260.7" y="94.9" width="0.9" height="0.9"/><rect x="254.3" y="97.9" width="0.9" height="0.9"/><rect x="255.3" y="97.1" width="0.9" height="0.9"/><rect x="257.6" y="97.8" width="0.9" height="0.9"/><rect x="258.9" y="99.9" width="0.9" height="0.9"/><rect x="272.9" y="98.8" width="0.9" height="0.9"/><rect x="262.8" y="102.0" width="0.9" height="0.9"/><rect x="245.6" y="97.9" width="0.9" height="0.9"/><rect x="235.2" y="97.0" width="0.9" height="0.9"/><rect x="266.4" y="103.0" width="0.9" height="0.9"/><rect x="240.8" y="103.0" width="0.9" height="0.9"/><rect x="259.6" y="105.6" width="0.9" height="0.9"/><rect x="258.2" y="97.6" width="0.9" height="0.9"/><rect x="261.2" y="99.7" width="0.9" height="0.9"/><rect x="270.1" y="100.4" width="0.9" height="0.9"/><rect x="260.2" y="101.9" width="0.9" height="0.9"/><rect x="258.6" y="96.3" width="0.9" height="0.9"/><rect x="232.6" y="100.4" width="0.9" height="0.9"/><rect x="243.0" y="103.0" width="0.9" height="0.9"/><rect x="246.9" y="94.2" width="0.9" height="0.9"/><rect x="258.6" y="98.5" width="0.9" height="0.9"/><rect x="255.8" y="98.3" width="0.9" height="0.9"/><rect x="255.5" y="99.5" width="0.9" height="0.9"/><rect x="253.0" y="94.2" width="0.9" height="0.9"/><rect x="235.6" y="99.4" width="0.9" height="0.9"/><rect x="250.1" y="96.7" width="0.9" height="0.9"/><rect x="241.6" y="101.1" width="0.9" height="0.9"/><rect x="263.5" y="96.8" width="0.9" height="0.9"/><rect x="238.3" y="99.8" width="0.9" height="0.9"/><rect x="230.0" y="95.6" width="0.9" height="0.9"/><rect x="265.5" y="99.0" width="0.9" height="0.9"/><rect x="261.6" y="98.5" width="0.9" height="0.9"/><rect x="239.8" y="103.6" width="0.9" height="0.9"/><rect x="246.6" y="94.8" width="0.9" height="0.9"/><rect x="256.9" y="101.9" width="0.9" height="0.9"/><rect x="247.0" y="100.2" width="0.9" height="0.9"/><rect x="251.1" y="96.9" width="0.9" height="0.9"/><rect x="256.2" y="92.1" width="0.9" height="0.9"/><rect x="249.2" y="95.4" width="0.9" height="0.9"/><rect x="249.9" y="98.1" width="0.9" height="0.9"/><rect x="256.9" y="95.8" width="0.9" height="0.9"/><rect x="268.1" y="101.7" width="0.9" height="0.9"/><rect x="246.6" y="99.9" width="0.9" height="0.9"/><rect x="266.2" y="102.3" width="0.9" height="0.9"/><rect x="245.9" y="95.4" width="0.9" height="0.9"/><rect x="261.3" y="96.5" width="0.9" height="0.9"/><rect x="250.1" y="95.9" width="0.9" height="0.9"/><rect x="252.4" y="97.8" width="0.9" height="0.9"/><rect x="254.8" y="98.0" width="0.9" height="0.9"/><rect x="259.8" y="100.1" width="0.9" height="0.9"/><rect x="240.2" y="97.1" width="0.9" height="0.9"/><rect x="248.5" y="97.3" width="0.9" height="0.9"/><rect x="255.9" y="101.8" width="0.9" height="0.9"/><rect x="247.3" y="95.4" width="0.9" height="0.9"/></g>
<g fill="#2f6fc6" opacity="0.6"><rect x="234.7" y="112.3" width="0.9" height="0.9"/><rect x="263.9" y="112.4" width="0.9" height="0.9"/><rect x="242.1" y="109.0" width="0.9" height="0.9"/><rect x="267.8" y="104.1" width="0.9" height="0.9"/><rect x="239.5" y="110.3" width="0.9" height="0.9"/><rect x="256.3" y="109.4" width="0.9" height="0.9"/><rect x="257.0" y="111.3" width="0.9" height="0.9"/><rect x="272.1" y="117.2" width="0.9" height="0.9"/><rect x="254.0" y="114.4" width="0.9" height="0.9"/><rect x="261.3" y="110.3" width="0.9" height="0.9"/><rect x="256.1" y="108.6" width="0.9" height="0.9"/><rect x="267.1" y="109.3" width="0.9" height="0.9"/><rect x="248.0" y="109.4" width="0.9" height="0.9"/><rect x="240.8" y="103.1" width="0.9" height="0.9"/><rect x="265.2" y="119.6" width="0.9" height="0.9"/><rect x="260.0" y="115.7" width="0.9" height="0.9"/><rect x="260.9" y="109.5" width="0.9" height="0.9"/><rect x="239.8" y="114.2" width="0.9" height="0.9"/><rect x="269.8" y="110.9" width="0.9" height="0.9"/><rect x="244.2" y="106.1" width="0.9" height="0.9"/><rect x="252.8" y="115.6" width="0.9" height="0.9"/><rect x="242.3" y="108.4" width="0.9" height="0.9"/><rect x="240.8" y="114.7" width="0.9" height="0.9"/><rect x="266.4" y="108.2" width="0.9" height="0.9"/><rect x="229.5" y="114.2" width="0.9" height="0.9"/><rect x="236.7" y="108.5" width="0.9" height="0.9"/><rect x="247.9" y="109.9" width="0.9" height="0.9"/><rect x="251.0" y="104.4" width="0.9" height="0.9"/><rect x="255.3" y="114.4" width="0.9" height="0.9"/><rect x="234.8" y="111.8" width="0.9" height="0.9"/><rect x="247.3" y="110.8" width="0.9" height="0.9"/><rect x="246.3" y="113.7" width="0.9" height="0.9"/><rect x="226.7" y="112.5" width="0.9" height="0.9"/><rect x="245.0" y="108.4" width="0.9" height="0.9"/><rect x="246.6" y="105.8" width="0.9" height="0.9"/><rect x="231.5" y="110.0" width="0.9" height="0.9"/><rect x="244.2" y="108.8" width="0.9" height="0.9"/><rect x="246.5" y="113.1" width="0.9" height="0.9"/><rect x="245.7" y="107.6" width="0.9" height="0.9"/><rect x="255.6" y="110.6" width="0.9" height="0.9"/><rect x="270.2" y="107.2" width="0.9" height="0.9"/><rect x="261.4" y="111.1" width="0.9" height="0.9"/><rect x="234.5" y="107.3" width="0.9" height="0.9"/><rect x="258.7" y="106.3" width="0.9" height="0.9"/><rect x="260.4" y="112.9" width="0.9" height="0.9"/><rect x="249.7" y="107.9" width="0.9" height="0.9"/><rect x="257.0" y="113.2" width="0.9" height="0.9"/><rect x="260.3" y="114.1" width="0.9" height="0.9"/><rect x="248.5" y="113.8" width="0.9" height="0.9"/><rect x="256.1" y="108.2" width="0.9" height="0.9"/><rect x="255.9" y="110.7" width="0.9" height="0.9"/><rect x="275.2" y="113.4" width="0.9" height="0.9"/><rect x="247.5" y="109.7" width="0.9" height="0.9"/><rect x="250.9" y="116.3" width="0.9" height="0.9"/><rect x="245.1" y="102.9" width="0.9" height="0.9"/><rect x="258.6" y="111.5" width="0.9" height="0.9"/><rect x="262.9" y="111.4" width="0.9" height="0.9"/><rect x="240.2" y="102.8" width="0.9" height="0.9"/><rect x="262.7" y="110.1" width="0.9" height="0.9"/><rect x="249.3" y="117.1" width="0.9" height="0.9"/><rect x="273.4" y="115.2" width="0.9" height="0.9"/><rect x="227.7" y="109.2" width="0.9" height="0.9"/><rect x="249.2" y="111.4" width="0.9" height="0.9"/><rect x="275.2" y="111.0" width="0.9" height="0.9"/><rect x="263.5" y="114.0" width="0.9" height="0.9"/><rect x="259.5" y="111.3" width="0.9" height="0.9"/><rect x="255.9" y="105.6" width="0.9" height="0.9"/><rect x="262.5" y="102.8" width="0.9" height="0.9"/><rect x="250.3" y="106.0" width="0.9" height="0.9"/><rect x="247.2" y="112.7" width="0.9" height="0.9"/><rect x="255.7" y="108.7" width="0.9" height="0.9"/><rect x="262.0" y="112.7" width="0.9" height="0.9"/><rect x="259.8" y="110.3" width="0.9" height="0.9"/><rect x="230.7" y="112.5" width="0.9" height="0.9"/><rect x="237.5" y="115.6" width="0.9" height="0.9"/><rect x="242.8" y="113.6" width="0.9" height="0.9"/><rect x="259.4" y="113.4" width="0.9" height="0.9"/><rect x="243.3" y="111.7" width="0.9" height="0.9"/><rect x="253.3" y="109.5" width="0.9" height="0.9"/><rect x="258.5" y="111.9" width="0.9" height="0.9"/><rect x="245.1" y="115.0" width="0.9" height="0.9"/><rect x="271.9" y="114.3" width="0.9" height="0.9"/><rect x="257.2" y="112.4" width="0.9" height="0.9"/><rect x="249.8" y="114.2" width="0.9" height="0.9"/><rect x="232.1" y="117.9" width="0.9" height="0.9"/><rect x="250.9" y="113.3" width="0.9" height="0.9"/><rect x="252.4" y="108.0" width="0.9" height="0.9"/><rect x="262.4" y="113.1" width="0.9" height="0.9"/><rect x="253.7" y="112.4" width="0.9" height="0.9"/><rect x="261.4" y="110.4" width="0.9" height="0.9"/><rect x="254.1" y="110.7" width="0.9" height="0.9"/><rect x="254.0" y="110.9" width="0.9" height="0.9"/><rect x="255.1" y="107.2" width="0.9" height="0.9"/><rect x="253.1" y="112.8" width="0.9" height="0.9"/><rect x="253.5" y="110.0" width="0.9" height="0.9"/><rect x="248.5" y="110.3" width="0.9" height="0.9"/><rect x="253.0" y="111.5" width="0.9" height="0.9"/><rect x="246.8" y="110.5" width="0.9" height="0.9"/><rect x="252.4" y="107.3" width="0.9" height="0.9"/><rect x="250.8" y="111.2" width="0.9" height="0.9"/><rect x="263.1" y="107.3" width="0.9" height="0.9"/><rect x="257.6" y="111.9" width="0.9" height="0.9"/><rect x="243.0" y="105.1" width="0.9" height="0.9"/><rect x="260.7" y="114.1" width="0.9" height="0.9"/><rect x="251.2" y="108.9" width="0.9" height="0.9"/><rect x="246.3" y="109.4" width="0.9" height="0.9"/><rect x="254.0" y="114.1" width="0.9" height="0.9"/><rect x="270.1" y="106.9" width="0.9" height="0.9"/><rect x="251.0" y="114.5" width="0.9" height="0.9"/><rect x="245.7" y="108.5" width="0.9" height="0.9"/><rect x="257.2" y="114.6" width="0.9" height="0.9"/><rect x="266.0" y="114.6" width="0.9" height="0.9"/><rect x="245.0" y="110.5" width="0.9" height="0.9"/><rect x="260.0" y="113.2" width="0.9" height="0.9"/><rect x="258.7" y="112.2" width="0.9" height="0.9"/><rect x="239.8" y="112.3" width="0.9" height="0.9"/><rect x="260.1" y="108.7" width="0.9" height="0.9"/><rect x="269.6" y="107.1" width="0.9" height="0.9"/><rect x="256.4" y="109.3" width="0.9" height="0.9"/><rect x="255.7" y="112.5" width="0.9" height="0.9"/><rect x="248.9" y="111.0" width="0.9" height="0.9"/><rect x="255.3" y="109.3" width="0.9" height="0.9"/><rect x="244.1" y="107.1" width="0.9" height="0.9"/><rect x="255.0" y="110.8" width="0.9" height="0.9"/><rect x="244.8" y="103.7" width="0.9" height="0.9"/><rect x="248.3" y="113.0" width="0.9" height="0.9"/><rect x="232.1" y="115.7" width="0.9" height="0.9"/><rect x="252.3" y="111.0" width="0.9" height="0.9"/><rect x="237.2" y="114.6" width="0.9" height="0.9"/><rect x="242.2" y="113.4" width="0.9" height="0.9"/><rect x="235.9" y="112.2" width="0.9" height="0.9"/><rect x="270.4" y="110.8" width="0.9" height="0.9"/><rect x="261.7" y="108.4" width="0.9" height="0.9"/><rect x="258.5" y="107.1" width="0.9" height="0.9"/><rect x="258.9" y="111.0" width="0.9" height="0.9"/><rect x="270.0" y="115.2" width="0.9" height="0.9"/><rect x="249.1" y="104.2" width="0.9" height="0.9"/><rect x="261.3" y="109.1" width="0.9" height="0.9"/><rect x="253.6" y="108.4" width="0.9" height="0.9"/><rect x="239.5" y="108.9" width="0.9" height="0.9"/><rect x="245.6" y="110.3" width="0.9" height="0.9"/><rect x="264.5" y="109.1" width="0.9" height="0.9"/><rect x="259.8" y="113.9" width="0.9" height="0.9"/><rect x="266.2" y="110.4" width="0.9" height="0.9"/><rect x="263.1" y="110.4" width="0.9" height="0.9"/><rect x="260.2" y="109.9" width="0.9" height="0.9"/><rect x="266.7" y="113.3" width="0.9" height="0.9"/><rect x="261.6" y="113.3" width="0.9" height="0.9"/><rect x="238.1" y="108.7" width="0.9" height="0.9"/><rect x="247.3" y="106.6" width="0.9" height="0.9"/><rect x="253.9" y="108.3" width="0.9" height="0.9"/><rect x="251.8" y="111.5" width="0.9" height="0.9"/><rect x="258.4" y="113.8" width="0.9" height="0.9"/><rect x="267.7" y="112.4" width="0.9" height="0.9"/><rect x="245.0" y="109.4" width="0.9" height="0.9"/><rect x="271.1" y="111.9" width="0.9" height="0.9"/><rect x="257.9" y="113.9" width="0.9" height="0.9"/><rect x="246.4" y="112.8" width="0.9" height="0.9"/><rect x="260.4" y="116.2" width="0.9" height="0.9"/><rect x="253.0" y="113.3" width="0.9" height="0.9"/><rect x="241.3" y="105.9" width="0.9" height="0.9"/><rect x="246.6" y="107.1" width="0.9" height="0.9"/><rect x="241.4" y="111.0" width="0.9" height="0.9"/><rect x="250.0" y="105.6" width="0.9" height="0.9"/><rect x="261.9" y="111.0" width="0.9" height="0.9"/><rect x="260.0" y="106.3" width="0.9" height="0.9"/><rect x="243.6" y="107.6" width="0.9" height="0.9"/><rect x="253.7" y="104.0" width="0.9" height="0.9"/><rect x="249.3" y="107.2" width="0.9" height="0.9"/><rect x="262.6" y="108.0" width="0.9" height="0.9"/><rect x="245.4" y="108.6" width="0.9" height="0.9"/><rect x="260.7" y="104.4" width="0.9" height="0.9"/><rect x="254.4" y="112.0" width="0.9" height="0.9"/><rect x="257.8" y="114.3" width="0.9" height="0.9"/><rect x="256.9" y="113.4" width="0.9" height="0.9"/><rect x="246.3" y="105.4" width="0.9" height="0.9"/><rect x="264.5" y="104.1" width="0.9" height="0.9"/><rect x="265.1" y="110.9" width="0.9" height="0.9"/><rect x="248.9" y="115.9" width="0.9" height="0.9"/><rect x="252.0" y="109.5" width="0.9" height="0.9"/></g>
<g fill="#2f6fc6" opacity="0.6"><rect x="248.0" y="130.6" width="0.9" height="0.9"/><rect x="234.3" y="125.2" width="0.9" height="0.9"/><rect x="247.3" y="128.9" width="0.9" height="0.9"/><rect x="248.0" y="120.7" width="0.9" height="0.9"/><rect x="245.4" y="126.1" width="0.9" height="0.9"/><rect x="248.3" y="130.1" width="0.9" height="0.9"/><rect x="245.6" y="125.8" width="0.9" height="0.9"/><rect x="258.0" y="133.3" width="0.9" height="0.9"/><rect x="255.9" y="126.9" width="0.9" height="0.9"/><rect x="262.0" y="131.4" width="0.9" height="0.9"/><rect x="235.6" y="124.7" width="0.9" height="0.9"/><rect x="259.0" y="123.0" width="0.9" height="0.9"/><rect x="259.2" y="129.0" width="0.9" height="0.9"/><rect x="246.6" y="120.5" width="0.9" height="0.9"/><rect x="243.2" y="125.2" width="0.9" height="0.9"/><rect x="264.4" y="127.1" width="0.9" height="0.9"/><rect x="257.1" y="125.9" width="0.9" height="0.9"/><rect x="246.5" y="127.1" width="0.9" height="0.9"/><rect x="248.1" y="115.6" width="0.9" height="0.9"/><rect x="249.0" y="125.4" width="0.9" height="0.9"/><rect x="261.3" y="127.1" width="0.9" height="0.9"/><rect x="254.2" y="128.2" width="0.9" height="0.9"/><rect x="246.7" y="122.3" width="0.9" height="0.9"/><rect x="252.4" y="127.2" width="0.9" height="0.9"/><rect x="254.9" y="126.3" width="0.9" height="0.9"/><rect x="252.2" y="129.3" width="0.9" height="0.9"/><rect x="262.9" y="124.3" width="0.9" height="0.9"/><rect x="250.3" y="128.0" width="0.9" height="0.9"/><rect x="269.5" y="119.5" width="0.9" height="0.9"/><rect x="241.6" y="128.8" width="0.9" height="0.9"/><rect x="259.3" y="133.1" width="0.9" height="0.9"/><rect x="248.6" y="133.7" width="0.9" height="0.9"/><rect x="257.4" y="120.1" width="0.9" height="0.9"/><rect x="229.3" y="127.2" width="0.9" height="0.9"/><rect x="253.4" y="126.5" width="0.9" height="0.9"/><rect x="250.5" y="133.5" width="0.9" height="0.9"/><rect x="248.1" y="127.1" width="0.9" height="0.9"/><rect x="262.7" y="128.7" width="0.9" height="0.9"/><rect x="266.4" y="125.4" width="0.9" height="0.9"/><rect x="252.0" y="126.3" width="0.9" height="0.9"/><rect x="258.0" y="131.5" width="0.9" height="0.9"/><rect x="267.1" y="129.1" width="0.9" height="0.9"/><rect x="257.2" y="127.1" width="0.9" height="0.9"/><rect x="259.6" y="124.3" width="0.9" height="0.9"/><rect x="256.4" y="129.3" width="0.9" height="0.9"/><rect x="262.7" y="125.5" width="0.9" height="0.9"/><rect x="243.5" y="127.7" width="0.9" height="0.9"/><rect x="249.4" y="131.3" width="0.9" height="0.9"/><rect x="233.5" y="129.2" width="0.9" height="0.9"/><rect x="272.1" y="126.9" width="0.9" height="0.9"/><rect x="257.1" y="126.3" width="0.9" height="0.9"/><rect x="247.1" y="124.3" width="0.9" height="0.9"/><rect x="253.5" y="125.2" width="0.9" height="0.9"/><rect x="255.8" y="125.7" width="0.9" height="0.9"/><rect x="252.4" y="126.3" width="0.9" height="0.9"/><rect x="264.1" y="130.3" width="0.9" height="0.9"/><rect x="253.3" y="125.9" width="0.9" height="0.9"/><rect x="256.1" y="132.9" width="0.9" height="0.9"/><rect x="245.6" y="130.4" width="0.9" height="0.9"/><rect x="260.9" y="130.1" width="0.9" height="0.9"/><rect x="258.1" y="126.1" width="0.9" height="0.9"/><rect x="256.6" y="130.8" width="0.9" height="0.9"/><rect x="251.6" y="131.9" width="0.9" height="0.9"/><rect x="242.2" y="122.5" width="0.9" height="0.9"/><rect x="260.5" y="132.0" width="0.9" height="0.9"/><rect x="259.6" y="124.3" width="0.9" height="0.9"/><rect x="246.3" y="126.2" width="0.9" height="0.9"/><rect x="252.2" y="124.4" width="0.9" height="0.9"/><rect x="254.8" y="132.6" width="0.9" height="0.9"/><rect x="270.8" y="121.7" width="0.9" height="0.9"/><rect x="263.3" y="128.2" width="0.9" height="0.9"/><rect x="263.1" y="130.1" width="0.9" height="0.9"/><rect x="266.0" y="125.6" width="0.9" height="0.9"/><rect x="252.4" y="123.3" width="0.9" height="0.9"/><rect x="254.1" y="122.3" width="0.9" height="0.9"/><rect x="266.0" y="127.1" width="0.9" height="0.9"/><rect x="254.7" y="126.8" width="0.9" height="0.9"/><rect x="256.5" y="123.3" width="0.9" height="0.9"/><rect x="265.0" y="131.6" width="0.9" height="0.9"/><rect x="265.0" y="134.3" width="0.9" height="0.9"/><rect x="258.2" y="125.8" width="0.9" height="0.9"/><rect x="255.2" y="120.6" width="0.9" height="0.9"/><rect x="257.6" y="130.4" width="0.9" height="0.9"/><rect x="247.1" y="124.8" width="0.9" height="0.9"/><rect x="244.2" y="124.4" width="0.9" height="0.9"/><rect x="243.3" y="128.8" width="0.9" height="0.9"/><rect x="249.8" y="128.6" width="0.9" height="0.9"/><rect x="260.2" y="126.0" width="0.9" height="0.9"/><rect x="242.7" y="126.7" width="0.9" height="0.9"/><rect x="258.2" y="126.1" width="0.9" height="0.9"/><rect x="255.0" y="130.0" width="0.9" height="0.9"/><rect x="259.3" y="128.2" width="0.9" height="0.9"/><rect x="256.1" y="125.6" width="0.9" height="0.9"/><rect x="251.4" y="129.5" width="0.9" height="0.9"/><rect x="253.5" y="129.9" width="0.9" height="0.9"/><rect x="253.7" y="133.7" width="0.9" height="0.9"/><rect x="258.6" y="123.9" width="0.9" height="0.9"/><rect x="258.6" y="125.3" width="0.9" height="0.9"/><rect x="255.4" y="123.9" width="0.9" height="0.9"/><rect x="255.8" y="120.6" width="0.9" height="0.9"/><rect x="261.5" y="125.5" width="0.9" height="0.9"/><rect x="258.9" y="128.0" width="0.9" height="0.9"/><rect x="252.3" y="125.4" width="0.9" height="0.9"/><rect x="258.5" y="130.4" width="0.9" height="0.9"/><rect x="255.1" y="127.5" width="0.9" height="0.9"/><rect x="247.5" y="126.7" width="0.9" height="0.9"/><rect x="264.4" y="131.3" width="0.9" height="0.9"/><rect x="252.8" y="129.5" width="0.9" height="0.9"/><rect x="255.5" y="126.6" width="0.9" height="0.9"/><rect x="250.4" y="124.6" width="0.9" height="0.9"/><rect x="235.5" y="125.5" width="0.9" height="0.9"/><rect x="257.5" y="128.9" width="0.9" height="0.9"/><rect x="271.2" y="128.5" width="0.9" height="0.9"/><rect x="252.0" y="131.5" width="0.9" height="0.9"/><rect x="254.1" y="129.9" width="0.9" height="0.9"/><rect x="265.5" y="122.1" width="0.9" height="0.9"/><rect x="254.8" y="128.4" width="0.9" height="0.9"/><rect x="248.8" y="130.2" width="0.9" height="0.9"/><rect x="240.6" y="127.1" width="0.9" height="0.9"/><rect x="252.5" y="125.0" width="0.9" height="0.9"/><rect x="253.9" y="133.8" width="0.9" height="0.9"/><rect x="242.0" y="127.1" width="0.9" height="0.9"/><rect x="258.9" y="125.8" width="0.9" height="0.9"/><rect x="258.6" y="125.1" width="0.9" height="0.9"/><rect x="236.3" y="127.8" width="0.9" height="0.9"/><rect x="257.6" y="127.8" width="0.9" height="0.9"/><rect x="261.2" y="130.6" width="0.9" height="0.9"/><rect x="248.2" y="123.5" width="0.9" height="0.9"/><rect x="246.9" y="123.5" width="0.9" height="0.9"/><rect x="256.2" y="130.1" width="0.9" height="0.9"/><rect x="240.9" y="128.7" width="0.9" height="0.9"/><rect x="256.9" y="130.5" width="0.9" height="0.9"/><rect x="252.8" y="127.5" width="0.9" height="0.9"/><rect x="260.3" y="130.4" width="0.9" height="0.9"/><rect x="273.5" y="133.1" width="0.9" height="0.9"/><rect x="235.7" y="125.9" width="0.9" height="0.9"/><rect x="260.0" y="124.9" width="0.9" height="0.9"/><rect x="250.0" y="131.2" width="0.9" height="0.9"/><rect x="266.7" y="125.3" width="0.9" height="0.9"/><rect x="246.9" y="132.9" width="0.9" height="0.9"/><rect x="265.4" y="125.4" width="0.9" height="0.9"/><rect x="243.8" y="129.5" width="0.9" height="0.9"/><rect x="247.0" y="123.4" width="0.9" height="0.9"/><rect x="258.0" y="125.6" width="0.9" height="0.9"/><rect x="261.6" y="130.3" width="0.9" height="0.9"/><rect x="242.7" y="131.4" width="0.9" height="0.9"/><rect x="257.9" y="124.5" width="0.9" height="0.9"/><rect x="249.6" y="127.3" width="0.9" height="0.9"/><rect x="251.7" y="130.1" width="0.9" height="0.9"/><rect x="264.3" y="126.3" width="0.9" height="0.9"/><rect x="257.8" y="120.7" width="0.9" height="0.9"/><rect x="253.6" y="125.3" width="0.9" height="0.9"/><rect x="257.7" y="132.4" width="0.9" height="0.9"/><rect x="247.8" y="130.8" width="0.9" height="0.9"/><rect x="255.2" y="131.2" width="0.9" height="0.9"/><rect x="259.0" y="125.2" width="0.9" height="0.9"/><rect x="259.3" y="127.3" width="0.9" height="0.9"/><rect x="256.7" y="127.4" width="0.9" height="0.9"/><rect x="256.0" y="126.1" width="0.9" height="0.9"/><rect x="245.3" y="123.9" width="0.9" height="0.9"/></g>
<g fill="#2f6fc6" opacity="0.6"><rect x="258.7" y="96.2" width="0.9" height="0.9"/><rect x="246.1" y="95.0" width="0.9" height="0.9"/><rect x="243.0" y="87.2" width="0.9" height="0.9"/><rect x="242.0" y="92.4" width="0.9" height="0.9"/><rect x="242.1" y="89.8" width="0.9" height="0.9"/><rect x="253.8" y="89.0" width="0.9" height="0.9"/><rect x="242.7" y="96.0" width="0.9" height="0.9"/><rect x="266.3" y="87.6" width="0.9" height="0.9"/><rect x="254.5" y="92.4" width="0.9" height="0.9"/><rect x="249.2" y="90.5" width="0.9" height="0.9"/><rect x="260.8" y="91.8" width="0.9" height="0.9"/><rect x="263.9" y="95.2" width="0.9" height="0.9"/><rect x="252.9" y="93.1" width="0.9" height="0.9"/><rect x="247.8" y="84.1" width="0.9" height="0.9"/><rect x="258.8" y="88.9" width="0.9" height="0.9"/><rect x="249.2" y="89.9" width="0.9" height="0.9"/><rect x="257.1" y="92.7" width="0.9" height="0.9"/><rect x="267.2" y="86.8" width="0.9" height="0.9"/><rect x="253.4" y="92.0" width="0.9" height="0.9"/><rect x="246.5" y="86.6" width="0.9" height="0.9"/><rect x="261.1" y="91.6" width="0.9" height="0.9"/><rect x="271.0" y="89.4" width="0.9" height="0.9"/><rect x="256.2" y="85.5" width="0.9" height="0.9"/><rect x="255.6" y="92.1" width="0.9" height="0.9"/><rect x="266.9" y="89.6" width="0.9" height="0.9"/><rect x="242.2" y="92.6" width="0.9" height="0.9"/><rect x="260.8" y="88.7" width="0.9" height="0.9"/><rect x="252.1" y="94.1" width="0.9" height="0.9"/><rect x="249.6" y="81.4" width="0.9" height="0.9"/><rect x="253.3" y="90.0" width="0.9" height="0.9"/><rect x="243.0" y="94.2" width="0.9" height="0.9"/><rect x="243.6" y="86.3" width="0.9" height="0.9"/><rect x="250.6" y="92.0" width="0.9" height="0.9"/><rect x="235.9" y="88.0" width="0.9" height="0.9"/><rect x="244.4" y="89.7" width="0.9" height="0.9"/><rect x="246.0" y="87.6" width="0.9" height="0.9"/><rect x="249.3" y="92.9" width="0.9" height="0.9"/><rect x="252.4" y="99.4" width="0.9" height="0.9"/><rect x="250.7" y="90.1" width="0.9" height="0.9"/><rect x="261.2" y="91.5" width="0.9" height="0.9"/><rect x="271.6" y="86.4" width="0.9" height="0.9"/><rect x="255.6" y="88.8" width="0.9" height="0.9"/><rect x="257.3" y="89.0" width="0.9" height="0.9"/><rect x="262.6" y="85.6" width="0.9" height="0.9"/><rect x="261.8" y="94.1" width="0.9" height="0.9"/><rect x="250.3" y="91.1" width="0.9" height="0.9"/><rect x="231.3" y="86.2" width="0.9" height="0.9"/><rect x="256.6" y="93.1" width="0.9" height="0.9"/><rect x="262.5" y="92.3" width="0.9" height="0.9"/><rect x="254.6" y="90.8" width="0.9" height="0.9"/><rect x="256.8" y="89.3" width="0.9" height="0.9"/><rect x="250.0" y="91.4" width="0.9" height="0.9"/><rect x="239.6" y="88.6" width="0.9" height="0.9"/><rect x="252.7" y="81.1" width="0.9" height="0.9"/><rect x="254.3" y="92.6" width="0.9" height="0.9"/><rect x="242.9" y="91.6" width="0.9" height="0.9"/><rect x="254.4" y="93.5" width="0.9" height="0.9"/><rect x="247.3" y="88.9" width="0.9" height="0.9"/><rect x="243.8" y="87.9" width="0.9" height="0.9"/><rect x="249.9" y="87.1" width="0.9" height="0.9"/><rect x="262.6" y="94.7" width="0.9" height="0.9"/><rect x="257.2" y="93.5" width="0.9" height="0.9"/><rect x="250.9" y="89.4" width="0.9" height="0.9"/><rect x="251.4" y="88.0" width="0.9" height="0.9"/><rect x="260.2" y="85.8" width="0.9" height="0.9"/><rect x="249.4" y="91.4" width="0.9" height="0.9"/><rect x="257.4" y="90.2" width="0.9" height="0.9"/><rect x="252.5" y="86.6" width="0.9" height="0.9"/><rect x="247.0" y="85.2" width="0.9" height="0.9"/><rect x="250.2" y="88.1" width="0.9" height="0.9"/><rect x="253.1" y="88.6" width="0.9" height="0.9"/><rect x="245.6" y="87.0" width="0.9" height="0.9"/><rect x="244.4" y="87.3" width="0.9" height="0.9"/><rect x="245.5" y="88.8" width="0.9" height="0.9"/><rect x="258.0" y="85.0" width="0.9" height="0.9"/><rect x="258.7" y="86.7" width="0.9" height="0.9"/><rect x="262.7" y="90.1" width="0.9" height="0.9"/><rect x="251.8" y="90.3" width="0.9" height="0.9"/><rect x="263.1" y="87.9" width="0.9" height="0.9"/><rect x="251.2" y="88.8" width="0.9" height="0.9"/><rect x="257.6" y="89.4" width="0.9" height="0.9"/><rect x="241.5" y="90.7" width="0.9" height="0.9"/><rect x="254.5" y="94.1" width="0.9" height="0.9"/><rect x="253.5" y="87.6" width="0.9" height="0.9"/><rect x="254.1" y="86.6" width="0.9" height="0.9"/><rect x="263.9" y="93.6" width="0.9" height="0.9"/><rect x="263.8" y="84.3" width="0.9" height="0.9"/><rect x="258.9" y="91.7" width="0.9" height="0.9"/><rect x="237.5" y="94.6" width="0.9" height="0.9"/><rect x="253.9" y="92.6" width="0.9" height="0.9"/><rect x="251.0" y="90.3" width="0.9" height="0.9"/><rect x="262.2" y="85.0" width="0.9" height="0.9"/><rect x="232.8" y="90.9" width="0.9" height="0.9"/><rect x="260.3" y="95.8" width="0.9" height="0.9"/><rect x="258.3" y="90.1" width="0.9" height="0.9"/><rect x="243.9" y="93.1" width="0.9" height="0.9"/><rect x="242.2" y="92.8" width="0.9" height="0.9"/><rect x="261.6" y="87.8" width="0.9" height="0.9"/><rect x="239.3" y="91.8" width="0.9" height="0.9"/><rect x="265.4" y="94.7" width="0.9" height="0.9"/><rect x="258.0" y="97.5" width="0.9" height="0.9"/><rect x="240.5" y="90.7" width="0.9" height="0.9"/><rect x="262.0" y="97.7" width="0.9" height="0.9"/><rect x="253.2" y="94.6" width="0.9" height="0.9"/><rect x="259.4" y="89.4" width="0.9" height="0.9"/><rect x="248.1" y="96.6" width="0.9" height="0.9"/><rect x="242.8" y="90.9" width="0.9" height="0.9"/><rect x="256.7" y="96.2" width="0.9" height="0.9"/><rect x="255.7" y="87.5" width="0.9" height="0.9"/><rect x="255.3" y="90.7" width="0.9" height="0.9"/><rect x="266.1" y="92.8" width="0.9" height="0.9"/><rect x="258.1" y="92.3" width="0.9" height="0.9"/><rect x="261.7" y="94.6" width="0.9" height="0.9"/><rect x="254.6" y="87.5" width="0.9" height="0.9"/><rect x="259.7" y="88.4" width="0.9" height="0.9"/><rect x="246.7" y="94.2" width="0.9" height="0.9"/><rect x="249.9" y="92.2" width="0.9" height="0.9"/><rect x="255.5" y="94.0" width="0.9" height="0.9"/><rect x="253.8" y="92.4" width="0.9" height="0.9"/><rect x="256.7" y="88.1" width="0.9" height="0.9"/><rect x="241.3" y="88.8" width="0.9" height="0.9"/><rect x="234.8" y="93.9" width="0.9" height="0.9"/><rect x="245.8" y="91.8" width="0.9" height="0.9"/><rect x="233.7" y="87.4" width="0.9" height="0.9"/><rect x="259.7" y="91.0" width="0.9" height="0.9"/><rect x="258.7" y="83.8" width="0.9" height="0.9"/><rect x="247.7" y="94.8" width="0.9" height="0.9"/><rect x="251.2" y="90.6" width="0.9" height="0.9"/><rect x="255.5" y="84.9" width="0.9" height="0.9"/><rect x="258.8" y="88.9" width="0.9" height="0.9"/><rect x="247.6" y="86.5" width="0.9" height="0.9"/><rect x="235.8" y="95.8" width="0.9" height="0.9"/><rect x="253.7" y="86.7" width="0.9" height="0.9"/><rect x="228.4" y="90.5" width="0.9" height="0.9"/><rect x="267.6" y="86.6" width="0.9" height="0.9"/><rect x="250.5" y="85.2" width="0.9" height="0.9"/><rect x="254.1" y="87.2" width="0.9" height="0.9"/><rect x="246.5" y="90.8" width="0.9" height="0.9"/><rect x="266.3" y="97.6" width="0.9" height="0.9"/><rect x="245.4" y="86.1" width="0.9" height="0.9"/></g>
<g fill="#2f6fc6" opacity="0.6"><rect x="266.5" y="82.6" width="0.9" height="0.9"/><rect x="273.5" y="77.4" width="0.9" height="0.9"/><rect x="265.6" y="79.0" width="0.9" height="0.9"/><rect x="267.5" y="76.8" width="0.9" height="0.9"/><rect x="266.5" y="75.4" width="0.9" height="0.9"/><rect x="268.5" y="76.8" width="0.9" height="0.9"/><rect x="268.5" y="83.2" width="0.9" height="0.9"/><rect x="270.4" y="77.6" width="0.9" height="0.9"/><rect x="264.6" y="72.9" width="0.9" height="0.9"/><rect x="254.6" y="81.1" width="0.9" height="0.9"/><rect x="262.4" y="78.4" width="0.9" height="0.9"/><rect x="262.5" y="79.1" width="0.9" height="0.9"/><rect x="272.1" y="81.4" width="0.9" height="0.9"/><rect x="265.8" y="82.8" width="0.9" height="0.9"/><rect x="268.9" y="78.6" width="0.9" height="0.9"/><rect x="263.0" y="81.7" width="0.9" height="0.9"/><rect x="260.2" y="76.5" width="0.9" height="0.9"/><rect x="266.2" y="82.1" width="0.9" height="0.9"/><rect x="257.8" y="81.6" width="0.9" height="0.9"/><rect x="260.4" y="80.4" width="0.9" height="0.9"/><rect x="257.5" y="83.4" width="0.9" height="0.9"/><rect x="267.0" y="78.0" width="0.9" height="0.9"/><rect x="271.7" y="80.1" width="0.9" height="0.9"/><rect x="274.7" y="82.0" width="0.9" height="0.9"/><rect x="264.4" y="77.5" width="0.9" height="0.9"/><rect x="261.2" y="78.1" width="0.9" height="0.9"/><rect x="267.6" y="78.4" width="0.9" height="0.9"/><rect x="252.1" y="77.8" width="0.9" height="0.9"/><rect x="263.6" y="80.6" width="0.9" height="0.9"/><rect x="256.7" y="80.3" width="0.9" height="0.9"/><rect x="267.0" y="77.6" width="0.9" height="0.9"/><rect x="262.6" y="82.6" width="0.9" height="0.9"/><rect x="264.8" y="83.6" width="0.9" height="0.9"/><rect x="269.4" y="81.1" width="0.9" height="0.9"/><rect x="253.3" y="82.5" width="0.9" height="0.9"/><rect x="261.6" y="85.3" width="0.9" height="0.9"/><rect x="267.0" y="83.0" width="0.9" height="0.9"/><rect x="262.7" y="84.1" width="0.9" height="0.9"/><rect x="272.2" y="83.1" width="0.9" height="0.9"/><rect x="269.7" y="77.9" width="0.9" height="0.9"/><rect x="264.3" y="81.8" width="0.9" height="0.9"/><rect x="271.1" y="82.4" width="0.9" height="0.9"/><rect x="263.4" y="81.9" width="0.9" height="0.9"/><rect x="260.5" y="77.6" width="0.9" height="0.9"/><rect x="266.5" y="79.6" width="0.9" height="0.9"/><rect x="267.0" y="84.3" width="0.9" height="0.9"/><rect x="260.4" y="81.8" width="0.9" height="0.9"/><rect x="260.1" y="78.6" width="0.9" height="0.9"/><rect x="264.5" y="86.3" width="0.9" height="0.9"/><rect x="259.1" y="82.3" width="0.9" height="0.9"/><rect x="250.2" y="83.0" width="0.9" height="0.9"/><rect x="251.7" y="84.0" width="0.9" height="0.9"/><rect x="269.8" y="80.3" width="0.9" height="0.9"/><rect x="268.6" y="79.4" width="0.9" height="0.9"/><rect x="261.0" y="79.2" width="0.9" height="0.9"/><rect x="266.1" y="78.9" width="0.9" height="0.9"/><rect x="257.9" y="83.0" width="0.9" height="0.9"/><rect x="268.2" y="82.8" width="0.9" height="0.9"/><rect x="264.2" y="81.8" width="0.9" height="0.9"/><rect x="262.1" y="77.2" width="0.9" height="0.9"/><rect x="272.8" y="87.5" width="0.9" height="0.9"/><rect x="264.3" y="85.3" width="0.9" height="0.9"/><rect x="264.4" y="82.5" width="0.9" height="0.9"/><rect x="263.8" y="78.7" width="0.9" height="0.9"/><rect x="262.8" y="80.4" width="0.9" height="0.9"/><rect x="271.4" y="81.9" width="0.9" height="0.9"/><rect x="261.2" y="73.0" width="0.9" height="0.9"/><rect x="265.9" y="77.9" width="0.9" height="0.9"/><rect x="274.0" y="84.7" width="0.9" height="0.9"/><rect x="272.0" y="80.6" width="0.9" height="0.9"/><rect x="259.8" y="79.7" width="0.9" height="0.9"/><rect x="267.9" y="89.9" width="0.9" height="0.9"/><rect x="252.6" y="79.6" width="0.9" height="0.9"/><rect x="262.8" y="81.0" width="0.9" height="0.9"/><rect x="258.2" y="80.4" width="0.9" height="0.9"/><rect x="253.3" y="77.9" width="0.9" height="0.9"/><rect x="261.1" y="81.9" width="0.9" height="0.9"/><rect x="257.7" y="82.2" width="0.9" height="0.9"/><rect x="262.9" y="80.6" width="0.9" height="0.9"/><rect x="247.0" y="77.0" width="0.9" height="0.9"/><rect x="260.4" y="81.1" width="0.9" height="0.9"/><rect x="265.8" y="79.7" width="0.9" height="0.9"/><rect x="260.2" y="79.3" width="0.9" height="0.9"/><rect x="259.1" y="84.5" width="0.9" height="0.9"/><rect x="265.0" y="83.5" width="0.9" height="0.9"/><rect x="270.3" y="79.2" width="0.9" height="0.9"/><rect x="272.2" y="79.5" width="0.9" height="0.9"/><rect x="267.7" y="78.2" width="0.9" height="0.9"/><rect x="268.4" y="82.1" width="0.9" height="0.9"/><rect x="260.6" y="81.1" width="0.9" height="0.9"/><rect x="270.8" y="82.9" width="0.9" height="0.9"/><rect x="271.6" y="80.9" width="0.9" height="0.9"/><rect x="266.4" y="81.5" width="0.9" height="0.9"/><rect x="271.0" y="87.1" width="0.9" height="0.9"/><rect x="253.2" y="88.2" width="0.9" height="0.9"/><rect x="262.5" y="81.4" width="0.9" height="0.9"/><rect x="255.7" y="81.6" width="0.9" height="0.9"/><rect x="274.1" y="78.5" width="0.9" height="0.9"/><rect x="266.0" y="80.2" width="0.9" height="0.9"/><rect x="262.1" y="76.7" width="0.9" height="0.9"/></g>
<path d="M228.0,99.2 C238.2,98.5 243.7,97.6 249.7,97.6 C260.0,97.6 262.0,98.4 262.0,99.2 C262.0,100.0 260.0,100.8 249.7,100.8 C243.7,100.8 238.2,99.9 228.0,99.2 Z" fill="#4a8ad6" opacity="0.55" filter="url(#bl3)"/>
<path d="M226.0,110.8 C236.8,109.5 242.8,107.8 248.8,107.8 C260.0,107.8 262.0,109.3 262.0,110.8 C262.0,112.3 260.0,113.8 248.8,113.8 C242.8,113.8 236.8,112.1 226.0,110.8 Z" fill="#4a8ad6" opacity="0.5" filter="url(#bl3)"/>
<path d="M232.0,126.5 C241.0,125.4 245.5,124.0 251.5,124.0 C260.0,124.0 262.0,125.2 262.0,126.5 C262.0,127.8 260.0,129.0 251.5,129.0 C245.5,129.0 241.0,127.6 232.0,126.5 Z" fill="#4a8ad6" opacity="0.45" filter="url(#bl3)"/>
<g fill="#2f6fc6" opacity="0.6"><rect x="265.6" y="113.6" width="0.8" height="0.8"/><rect x="255.4" y="119.0" width="0.8" height="0.8"/><rect x="271.6" y="113.4" width="0.8" height="0.8"/><rect x="263.6" y="119.9" width="0.8" height="0.8"/><rect x="267.9" y="116.4" width="0.8" height="0.8"/><rect x="267.8" y="117.6" width="0.8" height="0.8"/><rect x="270.3" y="113.1" width="0.8" height="0.8"/><rect x="270.7" y="117.1" width="0.8" height="0.8"/><rect x="259.0" y="113.9" width="0.8" height="0.8"/><rect x="255.4" y="120.3" width="0.8" height="0.8"/><rect x="264.9" y="114.5" width="0.8" height="0.8"/><rect x="257.6" y="114.4" width="0.8" height="0.8"/><rect x="254.4" y="115.2" width="0.8" height="0.8"/><rect x="257.3" y="122.8" width="0.8" height="0.8"/><rect x="271.9" y="120.9" width="0.8" height="0.8"/><rect x="260.6" y="118.0" width="0.8" height="0.8"/><rect x="267.1" y="122.1" width="0.8" height="0.8"/><rect x="266.5" y="119.4" width="0.8" height="0.8"/><rect x="254.4" y="119.3" width="0.8" height="0.8"/><rect x="268.6" y="120.9" width="0.8" height="0.8"/><rect x="252.0" y="120.2" width="0.8" height="0.8"/><rect x="257.7" y="114.6" width="0.8" height="0.8"/><rect x="271.2" y="119.7" width="0.8" height="0.8"/><rect x="266.4" y="114.3" width="0.8" height="0.8"/><rect x="268.2" y="122.4" width="0.8" height="0.8"/><rect x="269.9" y="120.4" width="0.8" height="0.8"/><rect x="268.3" y="121.0" width="0.8" height="0.8"/><rect x="263.0" y="117.4" width="0.8" height="0.8"/><rect x="268.2" y="120.8" width="0.8" height="0.8"/><rect x="269.2" y="116.0" width="0.8" height="0.8"/><rect x="271.1" y="118.3" width="0.8" height="0.8"/><rect x="270.8" y="114.2" width="0.8" height="0.8"/><rect x="271.3" y="120.9" width="0.8" height="0.8"/><rect x="255.5" y="121.4" width="0.8" height="0.8"/><rect x="255.1" y="115.0" width="0.8" height="0.8"/><rect x="260.1" y="115.4" width="0.8" height="0.8"/><rect x="260.8" y="122.1" width="0.8" height="0.8"/><rect x="265.1" y="120.1" width="0.8" height="0.8"/><rect x="258.6" y="120.8" width="0.8" height="0.8"/><rect x="267.5" y="119.8" width="0.8" height="0.8"/><rect x="270.7" y="121.3" width="0.8" height="0.8"/><rect x="258.9" y="113.9" width="0.8" height="0.8"/><rect x="264.4" y="121.4" width="0.8" height="0.8"/><rect x="257.5" y="118.9" width="0.8" height="0.8"/><rect x="268.4" y="120.9" width="0.8" height="0.8"/><rect x="250.1" y="117.9" width="0.8" height="0.8"/><rect x="250.4" y="114.1" width="0.8" height="0.8"/><rect x="267.9" y="117.2" width="0.8" height="0.8"/><rect x="263.3" y="117.6" width="0.8" height="0.8"/><rect x="257.4" y="115.1" width="0.8" height="0.8"/><rect x="257.8" y="121.4" width="0.8" height="0.8"/><rect x="263.6" y="115.9" width="0.8" height="0.8"/><rect x="251.9" y="115.7" width="0.8" height="0.8"/><rect x="265.4" y="117.4" width="0.8" height="0.8"/><rect x="264.5" y="121.1" width="0.8" height="0.8"/><rect x="252.7" y="119.8" width="0.8" height="0.8"/><rect x="250.9" y="121.2" width="0.8" height="0.8"/><rect x="254.1" y="115.7" width="0.8" height="0.8"/><rect x="271.1" y="116.6" width="0.8" height="0.8"/><rect x="254.9" y="121.9" width="0.8" height="0.8"/><rect x="263.4" y="121.9" width="0.8" height="0.8"/><rect x="258.7" y="118.0" width="0.8" height="0.8"/><rect x="271.0" y="118.1" width="0.8" height="0.8"/><rect x="271.7" y="114.9" width="0.8" height="0.8"/><rect x="268.3" y="114.6" width="0.8" height="0.8"/><rect x="261.6" y="113.0" width="0.8" height="0.8"/><rect x="253.9" y="122.5" width="0.8" height="0.8"/><rect x="260.0" y="121.1" width="0.8" height="0.8"/><rect x="255.5" y="116.5" width="0.8" height="0.8"/><rect x="252.2" y="118.5" width="0.8" height="0.8"/></g>
<path d="M242,94.5 C250,90 256,84 262,78.5 C266,75.5 272,75.5 277,78 L276,95 L242,95 Z" fill="#1f6fc6" filter="url(#bl)"/>
<path d="M243.0,91.0 C252.4,88.7 257.3,85.8 263.3,85.8 C272.5,85.8 274.5,88.4 274.5,91.0 C274.5,93.1 272.5,95.2 263.3,95.2 C257.3,95.2 252.4,92.9 243.0,91.0 Z" fill="#1f6fc6" opacity="1.0" filter="url(#bl3)"/>
<path d="M240.0,99.2 C250.3,97.6 256.0,95.6 262.0,95.6 C272.5,95.6 274.5,97.4 274.5,99.2 C274.5,101.0 272.5,102.8 262.0,102.8 C256.0,102.8 250.3,100.8 240.0,99.2 Z" fill="#1f6fc6" opacity="1.0" filter="url(#bl3)"/>
<path d="M238.0,110.8 C249.3,108.6 255.7,106.0 261.7,106.0 C273.6,106.0 275.6,108.4 275.6,110.8 C275.6,113.1 273.6,115.4 261.7,115.4 C255.7,115.4 249.3,112.9 238.0,110.8 Z" fill="#1f6fc6" opacity="1.0" filter="url(#bl3)"/>
<path d="M247.0,126.3 C254.9,124.2 258.6,121.7 264.6,121.7 C271.5,121.7 273.5,124.0 273.5,126.3 C273.5,129.6 271.5,132.8 264.6,132.8 C258.6,132.8 254.9,129.2 247.0,126.3 Z" fill="#1f6fc6" opacity="1.0" filter="url(#bl3)"/>
<g transform="translate(264.0,91.4) rotate(0)" filter="url(#bl3)"><ellipse cx="0" cy="0" rx="9.5" ry="3.6" fill="#2aa8c8"/><ellipse cx="0" cy="0" rx="6.5" ry="2.5" fill="#3cb64a"/></g>
<g transform="translate(265.2,99.2) rotate(0)" filter="url(#bl3)"><ellipse cx="0" cy="0" rx="10" ry="3.1" fill="#2aa8c8"/><ellipse cx="0" cy="0" rx="7.6" ry="2.5" fill="#3cb64a"/><ellipse cx="0" cy="0" rx="4.6" ry="1.7" fill="#e8e830"/><ellipse cx="0" cy="0" rx="2.4" ry="1.0" fill="#e8401c"/></g>
<g transform="translate(265.2,110.8) rotate(0)" filter="url(#bl3)"><ellipse cx="0" cy="0" rx="11" ry="4.0" fill="#2aa8c8"/><ellipse cx="0" cy="0" rx="8.6" ry="3.1" fill="#3cb64a"/><ellipse cx="0" cy="0" rx="5.0" ry="2.0" fill="#e8e830"/><ellipse cx="0" cy="0" rx="2.6" ry="1.2" fill="#e8401c"/></g>
<g transform="translate(262.0,126.8) rotate(0)" filter="url(#bl3)"><ellipse cx="0" cy="0" rx="9.5" ry="3.8" fill="#2aa8c8"/><ellipse cx="0" cy="0" rx="6.8" ry="2.7" fill="#3cb64a"/></g>
<g transform="translate(272.0,80.2) rotate(-6)" filter="url(#bl3)"><ellipse cx="0" cy="0" rx="10.5" ry="3.0" fill="#1f6fc6"/><ellipse cx="0" cy="0" rx="6.5" ry="2.1" fill="#2aa8c8"/><ellipse cx="0" cy="0" rx="4.0" ry="1.4" fill="#3cb64a"/></g>
<g transform="translate(291.5,71.2) rotate(-22)" filter="url(#bl3)"><ellipse cx="0" cy="0" rx="6.0" ry="3.0" fill="#1f6fc6"/><ellipse cx="0" cy="0" rx="4.2" ry="2.1" fill="#2aa8c8"/><ellipse cx="0" cy="0" rx="3.0" ry="1.5" fill="#3cb64a"/><ellipse cx="0" cy="0" rx="1.8" ry="1.0" fill="#e8e830"/><ellipse cx="0" cy="0" rx="0.8" ry="0.5" fill="#e8401c"/></g>
<g transform="translate(301.3,61.0) rotate(-30)" filter="url(#bl3)"><ellipse cx="0" cy="0" rx="2.6" ry="1.4" fill="#1f58b8"/></g>
<path d="M321,40.3 L324.6,40.3 L322.8,42.6 Z" fill="#1f5fb8"/>
<rect x="312.30" y="48.90" width="2.80" height="3.20" fill="#1a9a8a" stroke="none" stroke-width="1"/>
<rect x="312.90" y="49.60" width="1.40" height="1.40" fill="#58c050" stroke="none" stroke-width="1"/>
<rect x="225.20" y="45.60" width="92.50" height="49.40" fill="none" stroke="#d6337f" stroke-width="1.3"/>
<rect x="225.20" y="95.60" width="92.50" height="33.70" fill="none" stroke="#111" stroke-width="1.1"/>
<line x1="225.20" y1="95.00" x2="317.70" y2="95.00" stroke="#d6337f" stroke-width="1.4"/>
<line x1="222.20" y1="64.80" x2="224.80" y2="64.80" stroke="#444" stroke-width="1.0"/>
<line x1="223.40" y1="89.16" x2="224.80" y2="89.16" stroke="#444" stroke-width="0.7"/>
<line x1="223.40" y1="83.02" x2="224.80" y2="83.02" stroke="#444" stroke-width="0.7"/>
<line x1="223.40" y1="78.67" x2="224.80" y2="78.67" stroke="#444" stroke-width="0.7"/>
<line x1="223.40" y1="75.29" x2="224.80" y2="75.29" stroke="#444" stroke-width="0.7"/>
<line x1="223.40" y1="72.53" x2="224.80" y2="72.53" stroke="#444" stroke-width="0.7"/>
<line x1="223.40" y1="70.20" x2="224.80" y2="70.20" stroke="#444" stroke-width="0.7"/>
<line x1="223.40" y1="68.18" x2="224.80" y2="68.18" stroke="#444" stroke-width="0.7"/>
<line x1="223.40" y1="66.39" x2="224.80" y2="66.39" stroke="#444" stroke-width="0.7"/>
<line x1="222.20" y1="99.65" x2="224.80" y2="99.65" stroke="#444" stroke-width="1.0"/>
<line x1="223.40" y1="124.01" x2="224.80" y2="124.01" stroke="#444" stroke-width="0.7"/>
<line x1="223.40" y1="117.87" x2="224.80" y2="117.87" stroke="#444" stroke-width="0.7"/>
<line x1="223.40" y1="113.52" x2="224.80" y2="113.52" stroke="#444" stroke-width="0.7"/>
<line x1="223.40" y1="110.14" x2="224.80" y2="110.14" stroke="#444" stroke-width="0.7"/>
<line x1="223.40" y1="107.38" x2="224.80" y2="107.38" stroke="#444" stroke-width="0.7"/>
<line x1="223.40" y1="105.05" x2="224.80" y2="105.05" stroke="#444" stroke-width="0.7"/>
<line x1="223.40" y1="103.03" x2="224.80" y2="103.03" stroke="#444" stroke-width="0.7"/>
<line x1="223.40" y1="101.24" x2="224.80" y2="101.24" stroke="#444" stroke-width="0.7"/>
<line x1="222.20" y1="134.50" x2="224.80" y2="134.50" stroke="#444" stroke-width="1.0"/>
<line x1="223.40" y1="152.72" x2="224.80" y2="152.72" stroke="#444" stroke-width="0.7"/>
<line x1="223.40" y1="148.37" x2="224.80" y2="148.37" stroke="#444" stroke-width="0.7"/>
<line x1="223.40" y1="144.99" x2="224.80" y2="144.99" stroke="#444" stroke-width="0.7"/>
<line x1="223.40" y1="142.23" x2="224.80" y2="142.23" stroke="#444" stroke-width="0.7"/>
<line x1="223.40" y1="139.90" x2="224.80" y2="139.90" stroke="#444" stroke-width="0.7"/>
<line x1="223.40" y1="137.88" x2="224.80" y2="137.88" stroke="#444" stroke-width="0.7"/>
<line x1="223.40" y1="136.09" x2="224.80" y2="136.09" stroke="#444" stroke-width="0.7"/>
<line x1="224.80" y1="153.20" x2="224.80" y2="155.80" stroke="#444" stroke-width="1.0"/>
<line x1="233.95" y1="153.20" x2="233.95" y2="154.60" stroke="#444" stroke-width="0.7"/>
<line x1="239.30" y1="153.20" x2="239.30" y2="154.60" stroke="#444" stroke-width="0.7"/>
<line x1="243.10" y1="153.20" x2="243.10" y2="154.60" stroke="#444" stroke-width="0.7"/>
<line x1="246.05" y1="153.20" x2="246.05" y2="154.60" stroke="#444" stroke-width="0.7"/>
<line x1="248.46" y1="153.20" x2="248.46" y2="154.60" stroke="#444" stroke-width="0.7"/>
<line x1="250.49" y1="153.20" x2="250.49" y2="154.60" stroke="#444" stroke-width="0.7"/>
<line x1="252.25" y1="153.20" x2="252.25" y2="154.60" stroke="#444" stroke-width="0.7"/>
<line x1="253.81" y1="153.20" x2="253.81" y2="154.60" stroke="#444" stroke-width="0.7"/>
<line x1="255.20" y1="153.20" x2="255.20" y2="155.80" stroke="#444" stroke-width="1.0"/>
<line x1="264.35" y1="153.20" x2="264.35" y2="154.60" stroke="#444" stroke-width="0.7"/>
<line x1="269.70" y1="153.20" x2="269.70" y2="154.60" stroke="#444" stroke-width="0.7"/>
<line x1="273.50" y1="153.20" x2="273.50" y2="154.60" stroke="#444" stroke-width="0.7"/>
<line x1="276.45" y1="153.20" x2="276.45" y2="154.60" stroke="#444" stroke-width="0.7"/>
<line x1="278.86" y1="153.20" x2="278.86" y2="154.60" stroke="#444" stroke-width="0.7"/>
<line x1="280.89" y1="153.20" x2="280.89" y2="154.60" stroke="#444" stroke-width="0.7"/>
<line x1="282.65" y1="153.20" x2="282.65" y2="154.60" stroke="#444" stroke-width="0.7"/>
<line x1="284.21" y1="153.20" x2="284.21" y2="154.60" stroke="#444" stroke-width="0.7"/>
<line x1="285.60" y1="153.20" x2="285.60" y2="155.80" stroke="#444" stroke-width="1.0"/>
<line x1="294.75" y1="153.20" x2="294.75" y2="154.60" stroke="#444" stroke-width="0.7"/>
<line x1="300.10" y1="153.20" x2="300.10" y2="154.60" stroke="#444" stroke-width="0.7"/>
<line x1="303.90" y1="153.20" x2="303.90" y2="154.60" stroke="#444" stroke-width="0.7"/>
<line x1="306.85" y1="153.20" x2="306.85" y2="154.60" stroke="#444" stroke-width="0.7"/>
<line x1="309.26" y1="153.20" x2="309.26" y2="154.60" stroke="#444" stroke-width="0.7"/>
<line x1="311.29" y1="153.20" x2="311.29" y2="154.60" stroke="#444" stroke-width="0.7"/>
<line x1="313.05" y1="153.20" x2="313.05" y2="154.60" stroke="#444" stroke-width="0.7"/>
<line x1="314.61" y1="153.20" x2="314.61" y2="154.60" stroke="#444" stroke-width="0.7"/>
<line x1="316.00" y1="153.20" x2="316.00" y2="155.80" stroke="#444" stroke-width="1.0"/>
<line x1="325.15" y1="153.20" x2="325.15" y2="154.60" stroke="#444" stroke-width="0.7"/>
<line x1="330.50" y1="153.20" x2="330.50" y2="154.60" stroke="#444" stroke-width="0.7"/>
<line x1="334.30" y1="153.20" x2="334.30" y2="154.60" stroke="#444" stroke-width="0.7"/>
<line x1="337.25" y1="153.20" x2="337.25" y2="154.60" stroke="#444" stroke-width="0.7"/>
<text x="210.5" y="67.0" font-size="6.6" fill="#333" stroke="#333" stroke-width="0.16" textLength="6.0" lengthAdjust="spacingAndGlyphs">10</text>
<text x="216.8" y="64.1" font-size="3.8" fill="#333" stroke="#333" stroke-width="0.1">6</text>
<text x="210.5" y="101.9" font-size="6.6" fill="#333" stroke="#333" stroke-width="0.16" textLength="6.0" lengthAdjust="spacingAndGlyphs">10</text>
<text x="216.8" y="99.0" font-size="3.8" fill="#333" stroke="#333" stroke-width="0.1">5</text>
<text x="210.5" y="136.6" font-size="6.6" fill="#333" stroke="#333" stroke-width="0.16" textLength="6.0" lengthAdjust="spacingAndGlyphs">10</text>
<text x="216.8" y="133.7" font-size="3.8" fill="#333" stroke="#333" stroke-width="0.1">4</text>
<text x="220.8" y="164.1" font-size="6.6" fill="#333" stroke="#333" stroke-width="0.16" textLength="6.0" lengthAdjust="spacingAndGlyphs">10</text>
<text x="227.1" y="161.2" font-size="3.8" fill="#333" stroke="#333" stroke-width="0.1">2</text>
<text x="251.2" y="164.1" font-size="6.6" fill="#333" stroke="#333" stroke-width="0.16" textLength="6.0" lengthAdjust="spacingAndGlyphs">10</text>
<text x="257.5" y="161.2" font-size="3.8" fill="#333" stroke="#333" stroke-width="0.1">3</text>
<text x="281.6" y="164.1" font-size="6.6" fill="#333" stroke="#333" stroke-width="0.16" textLength="6.0" lengthAdjust="spacingAndGlyphs">10</text>
<text x="287.9" y="161.2" font-size="3.8" fill="#333" stroke="#333" stroke-width="0.1">4</text>
<text x="312.0" y="164.1" font-size="6.6" fill="#333" stroke="#333" stroke-width="0.16" textLength="6.0" lengthAdjust="spacingAndGlyphs">10</text>
<text x="318.3" y="161.2" font-size="3.8" fill="#333" stroke="#333" stroke-width="0.1">5</text>
<text x="328.0" y="65.7" font-size="6.5" text-anchor="middle" fill="#2b2b2b" stroke="#2b2b2b" stroke-width="0.16" textLength="16.0" lengthAdjust="spacingAndGlyphs">Large</text>
<text x="328.0" y="73.3" font-size="6.5" text-anchor="middle" fill="#2b2b2b" stroke="#2b2b2b" stroke-width="0.16" textLength="9.5" lengthAdjust="spacingAndGlyphs">MP</text>
<text x="328.0" y="80.8" font-size="6.5" text-anchor="middle" fill="#2b2b2b" stroke="#2b2b2b" stroke-width="0.16" textLength="12.0" lengthAdjust="spacingAndGlyphs">gate</text>
<text x="328.0" y="105.1" font-size="6.5" text-anchor="middle" fill="#2b2b2b" stroke="#2b2b2b" stroke-width="0.16" textLength="16.0" lengthAdjust="spacingAndGlyphs">Small</text>
<text x="328.0" y="112.9" font-size="6.5" text-anchor="middle" fill="#2b2b2b" stroke="#2b2b2b" stroke-width="0.16" textLength="9.5" lengthAdjust="spacingAndGlyphs">MP</text>
<text x="328.0" y="120.6" font-size="6.5" text-anchor="middle" fill="#2b2b2b" stroke="#2b2b2b" stroke-width="0.16" textLength="12.0" lengthAdjust="spacingAndGlyphs">gate</text>
<text x="281.5" y="176.2" font-size="7.5" text-anchor="middle" fill="#2b2b2b" stroke="#2b2b2b" stroke-width="0.16" textLength="20.0" lengthAdjust="spacingAndGlyphs">FSC-H</text>
<text transform="translate(204.0,96.5) rotate(-90)" x="0" y="0" font-size="8.6" text-anchor="middle" fill="#2b2b2b" stroke="#2b2b2b" stroke-width="0.16" textLength="37.0" lengthAdjust="spacingAndGlyphs">Violet SSC-H</text>
<text x="413.0" y="24.8" font-size="9" text-anchor="start" fill="#2b2b2b" stroke="#2b2b2b" stroke-width="0.16" textLength="77.0" lengthAdjust="spacingAndGlyphs">Microparticles (MP)</text>
<text x="432.7" y="35.0" font-size="9" text-anchor="start" fill="#2b2b2b" stroke="#2b2b2b" stroke-width="0.16" textLength="36.9" lengthAdjust="spacingAndGlyphs">in plasma</text>
<rect x="394.20" y="40.30" width="112.80" height="112.80" fill="#fff" stroke="#7e7e7e" stroke-width="1.0"/>
<clipPath id="cclip"><rect x="394.6" y="40.5" width="112" height="94.8"/></clipPath>
<g clip-path="url(#cclip)">
<g fill="#2f78cc" opacity="0.55"><rect x="485.3" y="46.4" width="0.8" height="0.8"/><rect x="496.8" y="58.4" width="0.8" height="0.8"/><rect x="424.5" y="83.2" width="0.8" height="0.8"/><rect x="494.4" y="42.2" width="0.8" height="0.8"/><rect x="482.1" y="57.5" width="0.8" height="0.8"/><rect x="483.8" y="68.4" width="0.8" height="0.8"/><rect x="448.8" y="78.0" width="0.8" height="0.8"/><rect x="489.8" y="50.8" width="0.8" height="0.8"/><rect x="451.8" y="72.0" width="0.8" height="0.8"/><rect x="467.1" y="59.2" width="0.8" height="0.8"/><rect x="448.5" y="88.6" width="0.8" height="0.8"/><rect x="507.7" y="57.6" width="0.8" height="0.8"/><rect x="477.3" y="72.7" width="0.8" height="0.8"/><rect x="485.3" y="54.8" width="0.8" height="0.8"/><rect x="480.1" y="55.4" width="0.8" height="0.8"/><rect x="466.3" y="83.1" width="0.8" height="0.8"/><rect x="486.4" y="52.7" width="0.8" height="0.8"/><rect x="494.0" y="46.0" width="0.8" height="0.8"/><rect x="436.3" y="84.3" width="0.8" height="0.8"/><rect x="497.2" y="56.6" width="0.8" height="0.8"/><rect x="429.7" y="71.4" width="0.8" height="0.8"/><rect x="436.2" y="84.4" width="0.8" height="0.8"/><rect x="445.1" y="83.5" width="0.8" height="0.8"/><rect x="456.8" y="92.3" width="0.8" height="0.8"/><rect x="435.9" y="77.5" width="0.8" height="0.8"/><rect x="456.0" y="79.9" width="0.8" height="0.8"/><rect x="440.2" y="86.7" width="0.8" height="0.8"/><rect x="462.1" y="80.0" width="0.8" height="0.8"/><rect x="439.7" y="89.3" width="0.8" height="0.8"/><rect x="486.1" y="46.4" width="0.8" height="0.8"/><rect x="440.3" y="84.6" width="0.8" height="0.8"/><rect x="471.3" y="61.1" width="0.8" height="0.8"/><rect x="479.9" y="57.1" width="0.8" height="0.8"/><rect x="503.1" y="45.0" width="0.8" height="0.8"/><rect x="473.1" y="62.9" width="0.8" height="0.8"/><rect x="440.2" y="94.3" width="0.8" height="0.8"/><rect x="444.6" y="81.2" width="0.8" height="0.8"/><rect x="442.0" y="89.0" width="0.8" height="0.8"/><rect x="487.5" y="54.9" width="0.8" height="0.8"/><rect x="481.5" y="60.2" width="0.8" height="0.8"/><rect x="479.2" y="72.7" width="0.8" height="0.8"/><rect x="477.0" y="61.9" width="0.8" height="0.8"/><rect x="491.4" y="49.4" width="0.8" height="0.8"/><rect x="449.2" y="76.6" width="0.8" height="0.8"/><rect x="433.4" y="89.6" width="0.8" height="0.8"/><rect x="459.4" y="61.2" width="0.8" height="0.8"/><rect x="422.2" y="84.6" width="0.8" height="0.8"/><rect x="459.4" y="59.7" width="0.8" height="0.8"/><rect x="476.9" y="55.7" width="0.8" height="0.8"/><rect x="466.4" y="64.2" width="0.8" height="0.8"/><rect x="499.9" y="58.6" width="0.8" height="0.8"/><rect x="474.0" y="62.0" width="0.8" height="0.8"/><rect x="486.8" y="60.9" width="0.8" height="0.8"/><rect x="482.2" y="46.5" width="0.8" height="0.8"/><rect x="423.7" y="83.0" width="0.8" height="0.8"/><rect x="462.3" y="64.0" width="0.8" height="0.8"/><rect x="474.6" y="67.4" width="0.8" height="0.8"/><rect x="436.6" y="82.9" width="0.8" height="0.8"/><rect x="480.8" y="74.0" width="0.8" height="0.8"/><rect x="451.1" y="75.0" width="0.8" height="0.8"/><rect x="487.8" y="54.0" width="0.8" height="0.8"/><rect x="474.6" y="67.3" width="0.8" height="0.8"/><rect x="433.9" y="80.9" width="0.8" height="0.8"/><rect x="491.0" y="68.4" width="0.8" height="0.8"/><rect x="436.9" y="88.6" width="0.8" height="0.8"/><rect x="461.3" y="72.3" width="0.8" height="0.8"/><rect x="449.9" y="83.5" width="0.8" height="0.8"/><rect x="485.9" y="57.4" width="0.8" height="0.8"/><rect x="419.3" y="90.9" width="0.8" height="0.8"/><rect x="462.7" y="67.0" width="0.8" height="0.8"/><rect x="475.3" y="62.2" width="0.8" height="0.8"/><rect x="447.0" y="64.7" width="0.8" height="0.8"/><rect x="441.9" y="97.4" width="0.8" height="0.8"/><rect x="470.7" y="61.9" width="0.8" height="0.8"/><rect x="500.4" y="54.8" width="0.8" height="0.8"/><rect x="438.9" y="75.8" width="0.8" height="0.8"/><rect x="483.3" y="54.0" width="0.8" height="0.8"/><rect x="441.6" y="78.8" width="0.8" height="0.8"/><rect x="443.4" y="82.5" width="0.8" height="0.8"/><rect x="450.8" y="75.8" width="0.8" height="0.8"/><rect x="450.7" y="82.3" width="0.8" height="0.8"/><rect x="488.6" y="71.9" width="0.8" height="0.8"/><rect x="497.0" y="59.1" width="0.8" height="0.8"/><rect x="475.7" y="64.0" width="0.8" height="0.8"/><rect x="427.8" y="98.7" width="0.8" height="0.8"/><rect x="465.7" y="63.1" width="0.8" height="0.8"/><rect x="444.3" y="70.1" width="0.8" height="0.8"/><rect x="432.9" y="82.4" width="0.8" height="0.8"/><rect x="453.9" y="86.2" width="0.8" height="0.8"/><rect x="453.0" y="74.2" width="0.8" height="0.8"/><rect x="439.0" y="86.4" width="0.8" height="0.8"/><rect x="494.5" y="58.0" width="0.8" height="0.8"/><rect x="455.6" y="72.2" width="0.8" height="0.8"/><rect x="430.2" y="79.4" width="0.8" height="0.8"/><rect x="438.1" y="82.6" width="0.8" height="0.8"/><rect x="497.3" y="46.9" width="0.8" height="0.8"/><rect x="485.1" y="37.4" width="0.8" height="0.8"/><rect x="459.4" y="79.8" width="0.8" height="0.8"/><rect x="423.0" y="90.8" width="0.8" height="0.8"/><rect x="471.0" y="65.0" width="0.8" height="0.8"/><rect x="490.4" y="56.4" width="0.8" height="0.8"/><rect x="420.8" y="96.7" width="0.8" height="0.8"/><rect x="425.0" y="84.4" width="0.8" height="0.8"/><rect x="502.8" y="42.2" width="0.8" height="0.8"/><rect x="442.0" y="83.4" width="0.8" height="0.8"/><rect x="470.0" y="82.2" width="0.8" height="0.8"/><rect x="440.5" y="88.7" width="0.8" height="0.8"/><rect x="478.0" y="58.5" width="0.8" height="0.8"/><rect x="451.0" y="82.5" width="0.8" height="0.8"/><rect x="433.8" y="82.6" width="0.8" height="0.8"/><rect x="478.8" y="60.5" width="0.8" height="0.8"/><rect x="470.6" y="60.0" width="0.8" height="0.8"/><rect x="428.7" y="93.6" width="0.8" height="0.8"/><rect x="424.8" y="90.7" width="0.8" height="0.8"/><rect x="463.4" y="72.1" width="0.8" height="0.8"/><rect x="497.0" y="47.3" width="0.8" height="0.8"/><rect x="419.4" y="106.2" width="0.8" height="0.8"/><rect x="498.2" y="58.0" width="0.8" height="0.8"/><rect x="444.3" y="85.6" width="0.8" height="0.8"/><rect x="475.3" y="70.8" width="0.8" height="0.8"/><rect x="492.5" y="50.3" width="0.8" height="0.8"/><rect x="430.4" y="91.3" width="0.8" height="0.8"/><rect x="497.6" y="47.1" width="0.8" height="0.8"/><rect x="483.6" y="60.0" width="0.8" height="0.8"/><rect x="440.4" y="90.6" width="0.8" height="0.8"/><rect x="482.2" y="64.4" width="0.8" height="0.8"/><rect x="468.6" y="70.6" width="0.8" height="0.8"/><rect x="465.9" y="53.7" width="0.8" height="0.8"/><rect x="424.0" y="96.8" width="0.8" height="0.8"/><rect x="450.6" y="78.2" width="0.8" height="0.8"/><rect x="483.6" y="71.5" width="0.8" height="0.8"/><rect x="490.3" y="52.0" width="0.8" height="0.8"/><rect x="476.6" y="64.7" width="0.8" height="0.8"/><rect x="440.8" y="95.7" width="0.8" height="0.8"/><rect x="451.2" y="85.5" width="0.8" height="0.8"/><rect x="497.6" y="55.6" width="0.8" height="0.8"/><rect x="451.0" y="71.6" width="0.8" height="0.8"/><rect x="447.8" y="70.1" width="0.8" height="0.8"/><rect x="472.9" y="60.2" width="0.8" height="0.8"/><rect x="434.0" y="83.5" width="0.8" height="0.8"/><rect x="456.7" y="61.7" width="0.8" height="0.8"/><rect x="474.6" y="55.2" width="0.8" height="0.8"/><rect x="469.6" y="63.5" width="0.8" height="0.8"/><rect x="475.5" y="54.0" width="0.8" height="0.8"/><rect x="476.4" y="65.7" width="0.8" height="0.8"/><rect x="487.5" y="59.6" width="0.8" height="0.8"/><rect x="474.6" y="70.7" width="0.8" height="0.8"/><rect x="443.3" y="74.9" width="0.8" height="0.8"/><rect x="437.4" y="69.3" width="0.8" height="0.8"/><rect x="482.9" y="73.4" width="0.8" height="0.8"/><rect x="485.4" y="66.0" width="0.8" height="0.8"/><rect x="446.0" y="79.7" width="0.8" height="0.8"/><rect x="433.9" y="92.8" width="0.8" height="0.8"/><rect x="511.3" y="44.9" width="0.8" height="0.8"/><rect x="496.0" y="66.7" width="0.8" height="0.8"/><rect x="458.5" y="78.4" width="0.8" height="0.8"/><rect x="457.5" y="73.2" width="0.8" height="0.8"/><rect x="462.1" y="71.9" width="0.8" height="0.8"/><rect x="465.5" y="63.0" width="0.8" height="0.8"/><rect x="491.1" y="36.8" width="0.8" height="0.8"/><rect x="487.3" y="63.9" width="0.8" height="0.8"/><rect x="440.9" y="78.9" width="0.8" height="0.8"/><rect x="440.9" y="90.7" width="0.8" height="0.8"/><rect x="513.3" y="50.8" width="0.8" height="0.8"/><rect x="485.3" y="56.9" width="0.8" height="0.8"/><rect x="473.0" y="58.2" width="0.8" height="0.8"/><rect x="432.6" y="89.0" width="0.8" height="0.8"/><rect x="440.8" y="90.1" width="0.8" height="0.8"/><rect x="468.9" y="60.1" width="0.8" height="0.8"/><rect x="471.4" y="59.9" width="0.8" height="0.8"/><rect x="432.6" y="95.6" width="0.8" height="0.8"/><rect x="436.7" y="91.8" width="0.8" height="0.8"/><rect x="505.9" y="46.2" width="0.8" height="0.8"/><rect x="479.8" y="58.8" width="0.8" height="0.8"/><rect x="451.5" y="69.4" width="0.8" height="0.8"/><rect x="465.5" y="71.6" width="0.8" height="0.8"/><rect x="494.6" y="42.8" width="0.8" height="0.8"/><rect x="438.5" y="93.0" width="0.8" height="0.8"/><rect x="487.3" y="56.9" width="0.8" height="0.8"/><rect x="436.8" y="84.0" width="0.8" height="0.8"/><rect x="495.9" y="56.9" width="0.8" height="0.8"/><rect x="479.4" y="63.2" width="0.8" height="0.8"/><rect x="432.5" y="101.9" width="0.8" height="0.8"/><rect x="466.3" y="69.5" width="0.8" height="0.8"/><rect x="435.0" y="83.1" width="0.8" height="0.8"/><rect x="492.0" y="65.9" width="0.8" height="0.8"/><rect x="466.5" y="75.0" width="0.8" height="0.8"/><rect x="482.7" y="56.5" width="0.8" height="0.8"/><rect x="472.5" y="72.5" width="0.8" height="0.8"/><rect x="490.5" y="54.7" width="0.8" height="0.8"/><rect x="491.3" y="58.3" width="0.8" height="0.8"/><rect x="446.6" y="77.2" width="0.8" height="0.8"/><rect x="479.5" y="49.2" width="0.8" height="0.8"/><rect x="431.4" y="82.8" width="0.8" height="0.8"/><rect x="431.9" y="88.8" width="0.8" height="0.8"/><rect x="435.4" y="76.1" width="0.8" height="0.8"/><rect x="435.1" y="93.7" width="0.8" height="0.8"/><rect x="444.0" y="85.1" width="0.8" height="0.8"/><rect x="441.7" y="92.7" width="0.8" height="0.8"/><rect x="464.3" y="79.1" width="0.8" height="0.8"/><rect x="427.1" y="90.8" width="0.8" height="0.8"/><rect x="480.3" y="79.0" width="0.8" height="0.8"/><rect x="478.9" y="66.3" width="0.8" height="0.8"/><rect x="476.6" y="68.7" width="0.8" height="0.8"/><rect x="496.7" y="53.8" width="0.8" height="0.8"/><rect x="448.5" y="87.0" width="0.8" height="0.8"/><rect x="478.5" y="66.0" width="0.8" height="0.8"/><rect x="453.3" y="80.6" width="0.8" height="0.8"/><rect x="463.1" y="90.5" width="0.8" height="0.8"/><rect x="476.3" y="70.8" width="0.8" height="0.8"/><rect x="476.9" y="61.1" width="0.8" height="0.8"/><rect x="461.5" y="70.3" width="0.8" height="0.8"/><rect x="434.6" y="71.9" width="0.8" height="0.8"/><rect x="475.8" y="70.4" width="0.8" height="0.8"/><rect x="508.7" y="48.6" width="0.8" height="0.8"/><rect x="439.9" y="79.1" width="0.8" height="0.8"/><rect x="440.2" y="69.5" width="0.8" height="0.8"/><rect x="422.7" y="88.7" width="0.8" height="0.8"/><rect x="461.1" y="75.1" width="0.8" height="0.8"/><rect x="486.9" y="43.9" width="0.8" height="0.8"/><rect x="448.1" y="73.4" width="0.8" height="0.8"/><rect x="498.0" y="50.2" width="0.8" height="0.8"/><rect x="472.8" y="76.7" width="0.8" height="0.8"/><rect x="499.8" y="43.8" width="0.8" height="0.8"/><rect x="486.7" y="62.7" width="0.8" height="0.8"/><rect x="487.0" y="74.1" width="0.8" height="0.8"/><rect x="467.7" y="72.2" width="0.8" height="0.8"/><rect x="480.7" y="68.6" width="0.8" height="0.8"/><rect x="438.6" y="84.8" width="0.8" height="0.8"/><rect x="472.3" y="64.3" width="0.8" height="0.8"/><rect x="476.5" y="65.8" width="0.8" height="0.8"/><rect x="440.1" y="94.1" width="0.8" height="0.8"/><rect x="448.8" y="90.8" width="0.8" height="0.8"/><rect x="476.8" y="67.6" width="0.8" height="0.8"/><rect x="441.7" y="86.1" width="0.8" height="0.8"/><rect x="468.4" y="59.3" width="0.8" height="0.8"/><rect x="484.6" y="73.4" width="0.8" height="0.8"/><rect x="432.5" y="86.6" width="0.8" height="0.8"/><rect x="426.5" y="92.5" width="0.8" height="0.8"/><rect x="424.7" y="89.8" width="0.8" height="0.8"/><rect x="506.0" y="53.5" width="0.8" height="0.8"/><rect x="461.0" y="75.6" width="0.8" height="0.8"/><rect x="465.6" y="59.1" width="0.8" height="0.8"/><rect x="443.7" y="76.0" width="0.8" height="0.8"/><rect x="479.7" y="70.4" width="0.8" height="0.8"/><rect x="429.4" y="96.6" width="0.8" height="0.8"/><rect x="476.4" y="70.8" width="0.8" height="0.8"/><rect x="454.7" y="81.1" width="0.8" height="0.8"/><rect x="472.5" y="67.2" width="0.8" height="0.8"/><rect x="480.4" y="53.0" width="0.8" height="0.8"/><rect x="471.9" y="62.1" width="0.8" height="0.8"/><rect x="461.2" y="65.8" width="0.8" height="0.8"/><rect x="465.6" y="70.4" width="0.8" height="0.8"/><rect x="502.3" y="57.4" width="0.8" height="0.8"/><rect x="507.1" y="50.8" width="0.8" height="0.8"/><rect x="506.9" y="52.8" width="0.8" height="0.8"/><rect x="479.4" y="52.3" width="0.8" height="0.8"/><rect x="492.8" y="60.9" width="0.8" height="0.8"/><rect x="445.3" y="82.1" width="0.8" height="0.8"/><rect x="437.5" y="79.8" width="0.8" height="0.8"/><rect x="435.1" y="74.0" width="0.8" height="0.8"/><rect x="461.7" y="59.3" width="0.8" height="0.8"/><rect x="467.7" y="75.9" width="0.8" height="0.8"/><rect x="433.5" y="89.3" width="0.8" height="0.8"/><rect x="450.1" y="87.0" width="0.8" height="0.8"/><rect x="487.4" y="48.2" width="0.8" height="0.8"/><rect x="472.2" y="64.8" width="0.8" height="0.8"/><rect x="483.8" y="55.8" width="0.8" height="0.8"/><rect x="494.2" y="44.1" width="0.8" height="0.8"/><rect x="485.2" y="48.7" width="0.8" height="0.8"/><rect x="423.7" y="80.3" width="0.8" height="0.8"/><rect x="443.8" y="80.4" width="0.8" height="0.8"/><rect x="438.8" y="84.0" width="0.8" height="0.8"/><rect x="442.4" y="80.6" width="0.8" height="0.8"/><rect x="513.0" y="51.0" width="0.8" height="0.8"/><rect x="498.3" y="53.8" width="0.8" height="0.8"/><rect x="450.4" y="70.8" width="0.8" height="0.8"/><rect x="456.7" y="67.9" width="0.8" height="0.8"/><rect x="430.0" y="93.1" width="0.8" height="0.8"/><rect x="434.2" y="80.2" width="0.8" height="0.8"/><rect x="437.9" y="83.1" width="0.8" height="0.8"/><rect x="440.7" y="72.1" width="0.8" height="0.8"/><rect x="497.7" y="48.1" width="0.8" height="0.8"/><rect x="436.2" y="82.6" width="0.8" height="0.8"/><rect x="474.5" y="61.3" width="0.8" height="0.8"/><rect x="500.0" y="63.6" width="0.8" height="0.8"/><rect x="445.1" y="80.1" width="0.8" height="0.8"/><rect x="474.5" y="56.8" width="0.8" height="0.8"/><rect x="479.8" y="58.6" width="0.8" height="0.8"/><rect x="438.5" y="80.4" width="0.8" height="0.8"/><rect x="472.8" y="63.8" width="0.8" height="0.8"/><rect x="463.4" y="61.9" width="0.8" height="0.8"/><rect x="425.1" y="89.8" width="0.8" height="0.8"/><rect x="442.8" y="72.1" width="0.8" height="0.8"/><rect x="464.7" y="68.2" width="0.8" height="0.8"/><rect x="446.5" y="75.2" width="0.8" height="0.8"/><rect x="432.6" y="86.7" width="0.8" height="0.8"/><rect x="501.4" y="51.1" width="0.8" height="0.8"/><rect x="469.7" y="54.0" width="0.8" height="0.8"/><rect x="486.9" y="68.6" width="0.8" height="0.8"/><rect x="435.2" y="96.0" width="0.8" height="0.8"/><rect x="439.3" y="98.2" width="0.8" height="0.8"/><rect x="455.0" y="72.4" width="0.8" height="0.8"/><rect x="467.9" y="62.6" width="0.8" height="0.8"/><rect x="480.0" y="47.9" width="0.8" height="0.8"/><rect x="431.1" y="93.5" width="0.8" height="0.8"/><rect x="465.7" y="70.1" width="0.8" height="0.8"/><rect x="452.7" y="78.7" width="0.8" height="0.8"/><rect x="487.8" y="60.8" width="0.8" height="0.8"/><rect x="453.2" y="86.5" width="0.8" height="0.8"/><rect x="466.1" y="70.3" width="0.8" height="0.8"/><rect x="479.4" y="63.0" width="0.8" height="0.8"/><rect x="503.4" y="50.9" width="0.8" height="0.8"/><rect x="459.4" y="66.7" width="0.8" height="0.8"/><rect x="426.3" y="89.0" width="0.8" height="0.8"/><rect x="447.1" y="78.3" width="0.8" height="0.8"/><rect x="435.9" y="90.0" width="0.8" height="0.8"/><rect x="447.0" y="79.5" width="0.8" height="0.8"/><rect x="429.6" y="91.0" width="0.8" height="0.8"/><rect x="468.3" y="70.2" width="0.8" height="0.8"/><rect x="434.9" y="84.9" width="0.8" height="0.8"/><rect x="444.0" y="80.5" width="0.8" height="0.8"/><rect x="504.4" y="52.3" width="0.8" height="0.8"/><rect x="486.4" y="70.5" width="0.8" height="0.8"/><rect x="452.3" y="79.9" width="0.8" height="0.8"/><rect x="444.9" y="68.2" width="0.8" height="0.8"/><rect x="484.7" y="62.1" width="0.8" height="0.8"/><rect x="503.1" y="58.9" width="0.8" height="0.8"/><rect x="459.4" y="76.8" width="0.8" height="0.8"/><rect x="467.0" y="74.8" width="0.8" height="0.8"/><rect x="491.4" y="51.7" width="0.8" height="0.8"/><rect x="487.0" y="56.0" width="0.8" height="0.8"/><rect x="461.4" y="79.2" width="0.8" height="0.8"/><rect x="457.3" y="78.0" width="0.8" height="0.8"/><rect x="473.1" y="78.6" width="0.8" height="0.8"/><rect x="440.3" y="84.8" width="0.8" height="0.8"/><rect x="435.2" y="75.5" width="0.8" height="0.8"/><rect x="457.6" y="73.7" width="0.8" height="0.8"/><rect x="445.1" y="87.8" width="0.8" height="0.8"/><rect x="470.7" y="72.3" width="0.8" height="0.8"/><rect x="436.4" y="92.1" width="0.8" height="0.8"/><rect x="496.2" y="45.8" width="0.8" height="0.8"/><rect x="476.8" y="55.2" width="0.8" height="0.8"/><rect x="464.9" y="76.9" width="0.8" height="0.8"/><rect x="463.9" y="61.0" width="0.8" height="0.8"/><rect x="463.0" y="84.0" width="0.8" height="0.8"/><rect x="482.3" y="63.1" width="0.8" height="0.8"/><rect x="495.7" y="54.0" width="0.8" height="0.8"/><rect x="419.6" y="95.9" width="0.8" height="0.8"/><rect x="454.1" y="65.0" width="0.8" height="0.8"/><rect x="496.4" y="60.1" width="0.8" height="0.8"/><rect x="448.0" y="76.7" width="0.8" height="0.8"/><rect x="453.7" y="89.6" width="0.8" height="0.8"/><rect x="444.7" y="84.1" width="0.8" height="0.8"/><rect x="483.9" y="61.1" width="0.8" height="0.8"/><rect x="463.7" y="79.5" width="0.8" height="0.8"/><rect x="432.7" y="68.0" width="0.8" height="0.8"/><rect x="450.7" y="80.0" width="0.8" height="0.8"/><rect x="442.6" y="84.4" width="0.8" height="0.8"/><rect x="426.8" y="76.0" width="0.8" height="0.8"/><rect x="458.6" y="61.4" width="0.8" height="0.8"/><rect x="494.4" y="50.0" width="0.8" height="0.8"/><rect x="449.1" y="64.2" width="0.8" height="0.8"/><rect x="492.7" y="71.7" width="0.8" height="0.8"/><rect x="438.7" y="84.2" width="0.8" height="0.8"/><rect x="476.9" y="56.9" width="0.8" height="0.8"/><rect x="467.2" y="73.7" width="0.8" height="0.8"/><rect x="441.7" y="78.0" width="0.8" height="0.8"/><rect x="498.9" y="58.7" width="0.8" height="0.8"/><rect x="516.6" y="41.1" width="0.8" height="0.8"/><rect x="483.2" y="64.3" width="0.8" height="0.8"/><rect x="446.5" y="73.0" width="0.8" height="0.8"/><rect x="449.6" y="75.7" width="0.8" height="0.8"/><rect x="474.7" y="72.8" width="0.8" height="0.8"/><rect x="516.7" y="35.4" width="0.8" height="0.8"/><rect x="434.6" y="91.2" width="0.8" height="0.8"/><rect x="479.5" y="62.3" width="0.8" height="0.8"/><rect x="492.2" y="50.8" width="0.8" height="0.8"/><rect x="465.7" y="81.5" width="0.8" height="0.8"/><rect x="490.5" y="32.8" width="0.8" height="0.8"/><rect x="467.6" y="72.9" width="0.8" height="0.8"/><rect x="495.4" y="47.4" width="0.8" height="0.8"/><rect x="449.6" y="79.1" width="0.8" height="0.8"/><rect x="472.2" y="65.9" width="0.8" height="0.8"/><rect x="426.1" y="85.8" width="0.8" height="0.8"/><rect x="492.8" y="58.8" width="0.8" height="0.8"/><rect x="470.7" y="73.0" width="0.8" height="0.8"/><rect x="504.0" y="54.1" width="0.8" height="0.8"/><rect x="490.1" y="59.5" width="0.8" height="0.8"/><rect x="469.4" y="58.1" width="0.8" height="0.8"/><rect x="510.4" y="66.3" width="0.8" height="0.8"/><rect x="465.0" y="74.4" width="0.8" height="0.8"/><rect x="488.5" y="54.4" width="0.8" height="0.8"/><rect x="457.4" y="55.6" width="0.8" height="0.8"/><rect x="432.6" y="77.4" width="0.8" height="0.8"/><rect x="435.3" y="86.9" width="0.8" height="0.8"/><rect x="479.3" y="62.8" width="0.8" height="0.8"/><rect x="446.0" y="86.1" width="0.8" height="0.8"/><rect x="452.0" y="73.3" width="0.8" height="0.8"/><rect x="462.3" y="52.9" width="0.8" height="0.8"/><rect x="469.9" y="77.6" width="0.8" height="0.8"/><rect x="437.8" y="79.8" width="0.8" height="0.8"/><rect x="436.1" y="94.1" width="0.8" height="0.8"/><rect x="505.3" y="43.1" width="0.8" height="0.8"/><rect x="461.9" y="66.5" width="0.8" height="0.8"/><rect x="464.2" y="82.4" width="0.8" height="0.8"/><rect x="481.1" y="79.8" width="0.8" height="0.8"/><rect x="482.4" y="53.2" width="0.8" height="0.8"/><rect x="504.6" y="44.5" width="0.8" height="0.8"/><rect x="452.6" y="68.9" width="0.8" height="0.8"/><rect x="478.9" y="62.6" width="0.8" height="0.8"/><rect x="452.3" y="82.9" width="0.8" height="0.8"/><rect x="461.1" y="62.6" width="0.8" height="0.8"/><rect x="493.0" y="42.7" width="0.8" height="0.8"/><rect x="437.1" y="95.0" width="0.8" height="0.8"/><rect x="497.3" y="62.1" width="0.8" height="0.8"/><rect x="463.4" y="63.8" width="0.8" height="0.8"/><rect x="495.0" y="46.7" width="0.8" height="0.8"/><rect x="504.5" y="45.1" width="0.8" height="0.8"/><rect x="444.8" y="69.8" width="0.8" height="0.8"/><rect x="492.6" y="56.2" width="0.8" height="0.8"/><rect x="462.0" y="64.5" width="0.8" height="0.8"/><rect x="478.8" y="66.7" width="0.8" height="0.8"/><rect x="495.3" y="60.8" width="0.8" height="0.8"/><rect x="435.8" y="91.9" width="0.8" height="0.8"/><rect x="490.1" y="58.8" width="0.8" height="0.8"/><rect x="433.5" y="88.4" width="0.8" height="0.8"/><rect x="492.5" y="73.9" width="0.8" height="0.8"/><rect x="458.9" y="69.9" width="0.8" height="0.8"/><rect x="495.7" y="46.2" width="0.8" height="0.8"/><rect x="485.2" y="62.7" width="0.8" height="0.8"/><rect x="426.9" y="96.0" width="0.8" height="0.8"/><rect x="463.2" y="67.1" width="0.8" height="0.8"/><rect x="429.1" y="90.5" width="0.8" height="0.8"/><rect x="481.3" y="57.8" width="0.8" height="0.8"/><rect x="435.1" y="88.7" width="0.8" height="0.8"/><rect x="486.2" y="68.2" width="0.8" height="0.8"/><rect x="500.1" y="41.6" width="0.8" height="0.8"/><rect x="447.5" y="82.7" width="0.8" height="0.8"/><rect x="521.5" y="46.0" width="0.8" height="0.8"/><rect x="434.9" y="87.7" width="0.8" height="0.8"/><rect x="487.8" y="66.8" width="0.8" height="0.8"/><rect x="481.2" y="68.7" width="0.8" height="0.8"/><rect x="488.3" y="49.6" width="0.8" height="0.8"/><rect x="490.2" y="47.2" width="0.8" height="0.8"/><rect x="452.1" y="87.2" width="0.8" height="0.8"/><rect x="491.5" y="47.2" width="0.8" height="0.8"/><rect x="437.2" y="76.2" width="0.8" height="0.8"/><rect x="432.5" y="95.7" width="0.8" height="0.8"/><rect x="453.5" y="81.3" width="0.8" height="0.8"/><rect x="457.7" y="69.0" width="0.8" height="0.8"/><rect x="473.9" y="44.3" width="0.8" height="0.8"/><rect x="509.2" y="57.7" width="0.8" height="0.8"/><rect x="445.5" y="73.8" width="0.8" height="0.8"/><rect x="499.4" y="54.6" width="0.8" height="0.8"/><rect x="477.2" y="65.7" width="0.8" height="0.8"/><rect x="449.2" y="77.9" width="0.8" height="0.8"/><rect x="467.2" y="72.0" width="0.8" height="0.8"/><rect x="474.7" y="67.5" width="0.8" height="0.8"/><rect x="447.1" y="98.9" width="0.8" height="0.8"/><rect x="431.6" y="85.9" width="0.8" height="0.8"/><rect x="486.6" y="44.9" width="0.8" height="0.8"/><rect x="494.0" y="60.3" width="0.8" height="0.8"/><rect x="439.3" y="86.8" width="0.8" height="0.8"/><rect x="496.3" y="42.3" width="0.8" height="0.8"/><rect x="449.0" y="79.2" width="0.8" height="0.8"/><rect x="422.6" y="76.4" width="0.8" height="0.8"/><rect x="442.2" y="79.2" width="0.8" height="0.8"/><rect x="449.2" y="90.0" width="0.8" height="0.8"/><rect x="494.8" y="38.9" width="0.8" height="0.8"/><rect x="492.1" y="56.0" width="0.8" height="0.8"/><rect x="484.6" y="39.2" width="0.8" height="0.8"/><rect x="471.8" y="79.3" width="0.8" height="0.8"/><rect x="444.2" y="84.5" width="0.8" height="0.8"/><rect x="500.0" y="36.4" width="0.8" height="0.8"/><rect x="432.3" y="81.7" width="0.8" height="0.8"/><rect x="439.3" y="81.5" width="0.8" height="0.8"/><rect x="460.6" y="82.2" width="0.8" height="0.8"/><rect x="501.8" y="59.4" width="0.8" height="0.8"/><rect x="463.3" y="68.7" width="0.8" height="0.8"/><rect x="440.7" y="80.6" width="0.8" height="0.8"/><rect x="433.8" y="87.3" width="0.8" height="0.8"/><rect x="436.3" y="77.3" width="0.8" height="0.8"/><rect x="437.8" y="91.8" width="0.8" height="0.8"/><rect x="482.9" y="56.6" width="0.8" height="0.8"/><rect x="457.7" y="90.1" width="0.8" height="0.8"/><rect x="495.4" y="49.6" width="0.8" height="0.8"/><rect x="456.8" y="72.7" width="0.8" height="0.8"/><rect x="426.7" y="98.4" width="0.8" height="0.8"/><rect x="471.7" y="61.1" width="0.8" height="0.8"/><rect x="456.1" y="79.1" width="0.8" height="0.8"/><rect x="481.0" y="56.1" width="0.8" height="0.8"/><rect x="477.2" y="63.6" width="0.8" height="0.8"/><rect x="438.1" y="77.8" width="0.8" height="0.8"/><rect x="447.4" y="74.0" width="0.8" height="0.8"/><rect x="491.0" y="54.2" width="0.8" height="0.8"/><rect x="491.9" y="40.2" width="0.8" height="0.8"/><rect x="514.7" y="53.7" width="0.8" height="0.8"/><rect x="507.6" y="41.9" width="0.8" height="0.8"/><rect x="455.3" y="82.5" width="0.8" height="0.8"/><rect x="435.5" y="84.3" width="0.8" height="0.8"/><rect x="478.6" y="76.8" width="0.8" height="0.8"/><rect x="449.9" y="85.1" width="0.8" height="0.8"/><rect x="464.3" y="74.3" width="0.8" height="0.8"/><rect x="445.2" y="71.1" width="0.8" height="0.8"/><rect x="497.0" y="49.1" width="0.8" height="0.8"/><rect x="448.8" y="98.0" width="0.8" height="0.8"/><rect x="441.6" y="79.2" width="0.8" height="0.8"/><rect x="490.1" y="49.2" width="0.8" height="0.8"/><rect x="488.0" y="60.8" width="0.8" height="0.8"/><rect x="480.1" y="62.1" width="0.8" height="0.8"/><rect x="458.3" y="78.8" width="0.8" height="0.8"/><rect x="468.2" y="73.7" width="0.8" height="0.8"/><rect x="495.8" y="40.3" width="0.8" height="0.8"/><rect x="419.1" y="92.7" width="0.8" height="0.8"/><rect x="494.1" y="67.6" width="0.8" height="0.8"/><rect x="455.5" y="86.1" width="0.8" height="0.8"/><rect x="444.5" y="84.4" width="0.8" height="0.8"/><rect x="477.9" y="72.6" width="0.8" height="0.8"/><rect x="506.9" y="56.8" width="0.8" height="0.8"/><rect x="453.5" y="83.8" width="0.8" height="0.8"/><rect x="482.0" y="83.6" width="0.8" height="0.8"/><rect x="496.1" y="40.0" width="0.8" height="0.8"/><rect x="430.4" y="83.4" width="0.8" height="0.8"/><rect x="444.2" y="80.2" width="0.8" height="0.8"/><rect x="432.9" y="87.8" width="0.8" height="0.8"/><rect x="474.2" y="66.8" width="0.8" height="0.8"/><rect x="460.3" y="61.4" width="0.8" height="0.8"/><rect x="453.1" y="72.3" width="0.8" height="0.8"/><rect x="429.2" y="84.8" width="0.8" height="0.8"/><rect x="486.4" y="58.6" width="0.8" height="0.8"/><rect x="456.9" y="87.8" width="0.8" height="0.8"/><rect x="459.6" y="68.5" width="0.8" height="0.8"/><rect x="452.6" y="75.6" width="0.8" height="0.8"/><rect x="448.7" y="55.8" width="0.8" height="0.8"/><rect x="471.8" y="65.9" width="0.8" height="0.8"/><rect x="433.8" y="86.8" width="0.8" height="0.8"/><rect x="478.2" y="57.5" width="0.8" height="0.8"/><rect x="467.7" y="73.8" width="0.8" height="0.8"/><rect x="435.0" y="82.9" width="0.8" height="0.8"/><rect x="501.8" y="49.0" width="0.8" height="0.8"/><rect x="430.8" y="88.0" width="0.8" height="0.8"/><rect x="492.1" y="51.4" width="0.8" height="0.8"/><rect x="470.5" y="71.6" width="0.8" height="0.8"/><rect x="454.1" y="86.1" width="0.8" height="0.8"/><rect x="487.8" y="55.5" width="0.8" height="0.8"/><rect x="476.9" y="52.5" width="0.8" height="0.8"/><rect x="436.3" y="88.4" width="0.8" height="0.8"/><rect x="442.0" y="78.2" width="0.8" height="0.8"/><rect x="434.6" y="79.5" width="0.8" height="0.8"/><rect x="430.5" y="75.9" width="0.8" height="0.8"/><rect x="452.7" y="73.3" width="0.8" height="0.8"/><rect x="464.8" y="74.1" width="0.8" height="0.8"/><rect x="469.6" y="83.3" width="0.8" height="0.8"/><rect x="431.9" y="79.4" width="0.8" height="0.8"/><rect x="440.0" y="79.3" width="0.8" height="0.8"/><rect x="480.9" y="51.4" width="0.8" height="0.8"/><rect x="504.3" y="51.5" width="0.8" height="0.8"/><rect x="463.4" y="77.7" width="0.8" height="0.8"/><rect x="487.0" y="43.7" width="0.8" height="0.8"/><rect x="419.5" y="87.2" width="0.8" height="0.8"/><rect x="421.5" y="85.9" width="0.8" height="0.8"/><rect x="472.6" y="64.7" width="0.8" height="0.8"/><rect x="472.9" y="53.3" width="0.8" height="0.8"/><rect x="454.8" y="87.0" width="0.8" height="0.8"/><rect x="424.3" y="101.3" width="0.8" height="0.8"/><rect x="498.6" y="50.4" width="0.8" height="0.8"/><rect x="489.9" y="52.0" width="0.8" height="0.8"/><rect x="451.3" y="74.6" width="0.8" height="0.8"/><rect x="427.8" y="81.4" width="0.8" height="0.8"/><rect x="514.1" y="40.8" width="0.8" height="0.8"/><rect x="500.2" y="62.8" width="0.8" height="0.8"/><rect x="493.6" y="37.9" width="0.8" height="0.8"/><rect x="455.8" y="69.3" width="0.8" height="0.8"/><rect x="470.7" y="66.7" width="0.8" height="0.8"/><rect x="470.6" y="64.8" width="0.8" height="0.8"/><rect x="444.0" y="71.2" width="0.8" height="0.8"/><rect x="457.5" y="70.9" width="0.8" height="0.8"/><rect x="462.6" y="66.1" width="0.8" height="0.8"/><rect x="491.7" y="62.0" width="0.8" height="0.8"/><rect x="436.1" y="88.3" width="0.8" height="0.8"/><rect x="450.5" y="73.3" width="0.8" height="0.8"/><rect x="487.1" y="63.5" width="0.8" height="0.8"/><rect x="474.7" y="60.9" width="0.8" height="0.8"/><rect x="460.4" y="73.6" width="0.8" height="0.8"/><rect x="490.1" y="57.5" width="0.8" height="0.8"/><rect x="438.5" y="83.7" width="0.8" height="0.8"/><rect x="467.8" y="54.5" width="0.8" height="0.8"/><rect x="438.2" y="85.9" width="0.8" height="0.8"/><rect x="430.0" y="98.8" width="0.8" height="0.8"/><rect x="475.3" y="74.2" width="0.8" height="0.8"/><rect x="440.2" y="79.9" width="0.8" height="0.8"/><rect x="489.9" y="55.5" width="0.8" height="0.8"/><rect x="445.7" y="74.4" width="0.8" height="0.8"/><rect x="488.6" y="70.7" width="0.8" height="0.8"/><rect x="484.4" y="46.2" width="0.8" height="0.8"/><rect x="452.2" y="82.3" width="0.8" height="0.8"/><rect x="436.6" y="81.8" width="0.8" height="0.8"/><rect x="507.0" y="46.9" width="0.8" height="0.8"/><rect x="506.4" y="47.8" width="0.8" height="0.8"/><rect x="487.3" y="54.7" width="0.8" height="0.8"/><rect x="497.9" y="44.8" width="0.8" height="0.8"/><rect x="474.0" y="65.2" width="0.8" height="0.8"/><rect x="456.8" y="73.7" width="0.8" height="0.8"/><rect x="454.7" y="75.7" width="0.8" height="0.8"/><rect x="471.7" y="58.2" width="0.8" height="0.8"/><rect x="423.4" y="86.7" width="0.8" height="0.8"/><rect x="439.4" y="83.0" width="0.8" height="0.8"/><rect x="509.0" y="52.1" width="0.8" height="0.8"/><rect x="479.1" y="65.3" width="0.8" height="0.8"/><rect x="452.1" y="71.5" width="0.8" height="0.8"/><rect x="457.3" y="72.5" width="0.8" height="0.8"/><rect x="452.6" y="72.2" width="0.8" height="0.8"/><rect x="498.7" y="66.7" width="0.8" height="0.8"/><rect x="457.4" y="84.4" width="0.8" height="0.8"/><rect x="466.7" y="64.2" width="0.8" height="0.8"/><rect x="488.5" y="58.2" width="0.8" height="0.8"/><rect x="480.4" y="36.6" width="0.8" height="0.8"/><rect x="431.9" y="85.9" width="0.8" height="0.8"/><rect x="477.2" y="66.2" width="0.8" height="0.8"/><rect x="454.5" y="57.8" width="0.8" height="0.8"/><rect x="441.3" y="86.6" width="0.8" height="0.8"/><rect x="471.0" y="75.2" width="0.8" height="0.8"/><rect x="460.9" y="71.3" width="0.8" height="0.8"/><rect x="432.7" y="93.4" width="0.8" height="0.8"/><rect x="462.4" y="66.8" width="0.8" height="0.8"/><rect x="479.5" y="40.7" width="0.8" height="0.8"/><rect x="436.2" y="76.2" width="0.8" height="0.8"/><rect x="453.5" y="78.4" width="0.8" height="0.8"/><rect x="489.8" y="48.5" width="0.8" height="0.8"/><rect x="477.9" y="59.1" width="0.8" height="0.8"/><rect x="429.4" y="94.7" width="0.8" height="0.8"/><rect x="432.1" y="82.1" width="0.8" height="0.8"/><rect x="443.4" y="70.9" width="0.8" height="0.8"/><rect x="463.3" y="61.5" width="0.8" height="0.8"/><rect x="461.9" y="72.4" width="0.8" height="0.8"/><rect x="479.1" y="58.3" width="0.8" height="0.8"/><rect x="450.1" y="75.1" width="0.8" height="0.8"/><rect x="473.0" y="74.8" width="0.8" height="0.8"/><rect x="476.3" y="63.8" width="0.8" height="0.8"/><rect x="500.8" y="44.4" width="0.8" height="0.8"/><rect x="454.2" y="65.1" width="0.8" height="0.8"/><rect x="439.3" y="77.6" width="0.8" height="0.8"/><rect x="436.7" y="78.0" width="0.8" height="0.8"/><rect x="469.8" y="68.4" width="0.8" height="0.8"/><rect x="456.9" y="74.3" width="0.8" height="0.8"/><rect x="461.5" y="67.4" width="0.8" height="0.8"/><rect x="446.6" y="74.3" width="0.8" height="0.8"/><rect x="465.2" y="66.0" width="0.8" height="0.8"/><rect x="433.4" y="69.7" width="0.8" height="0.8"/><rect x="473.9" y="66.6" width="0.8" height="0.8"/><rect x="453.3" y="84.6" width="0.8" height="0.8"/><rect x="473.5" y="70.2" width="0.8" height="0.8"/><rect x="433.6" y="107.6" width="0.8" height="0.8"/><rect x="474.2" y="57.7" width="0.8" height="0.8"/><rect x="452.3" y="88.0" width="0.8" height="0.8"/><rect x="418.7" y="97.1" width="0.8" height="0.8"/><rect x="485.0" y="51.4" width="0.8" height="0.8"/><rect x="484.3" y="57.5" width="0.8" height="0.8"/><rect x="465.8" y="83.0" width="0.8" height="0.8"/><rect x="431.2" y="97.8" width="0.8" height="0.8"/><rect x="438.7" y="89.7" width="0.8" height="0.8"/><rect x="451.7" y="92.8" width="0.8" height="0.8"/><rect x="485.6" y="60.4" width="0.8" height="0.8"/><rect x="486.6" y="53.1" width="0.8" height="0.8"/><rect x="503.9" y="55.0" width="0.8" height="0.8"/><rect x="427.1" y="95.8" width="0.8" height="0.8"/><rect x="468.7" y="67.0" width="0.8" height="0.8"/><rect x="476.6" y="48.6" width="0.8" height="0.8"/><rect x="463.3" y="77.2" width="0.8" height="0.8"/><rect x="463.5" y="78.9" width="0.8" height="0.8"/><rect x="431.1" y="78.5" width="0.8" height="0.8"/><rect x="435.9" y="85.5" width="0.8" height="0.8"/><rect x="470.7" y="67.2" width="0.8" height="0.8"/><rect x="426.6" y="91.1" width="0.8" height="0.8"/><rect x="481.8" y="49.6" width="0.8" height="0.8"/><rect x="455.9" y="75.2" width="0.8" height="0.8"/><rect x="446.5" y="69.7" width="0.8" height="0.8"/><rect x="496.0" y="42.5" width="0.8" height="0.8"/><rect x="487.8" y="60.2" width="0.8" height="0.8"/><rect x="463.2" y="77.3" width="0.8" height="0.8"/><rect x="443.6" y="74.3" width="0.8" height="0.8"/><rect x="448.4" y="70.7" width="0.8" height="0.8"/><rect x="456.8" y="84.9" width="0.8" height="0.8"/><rect x="445.0" y="84.9" width="0.8" height="0.8"/><rect x="464.2" y="62.4" width="0.8" height="0.8"/><rect x="483.0" y="53.4" width="0.8" height="0.8"/><rect x="499.8" y="51.0" width="0.8" height="0.8"/><rect x="447.5" y="64.3" width="0.8" height="0.8"/><rect x="424.4" y="89.3" width="0.8" height="0.8"/><rect x="469.0" y="72.0" width="0.8" height="0.8"/><rect x="496.6" y="50.0" width="0.8" height="0.8"/><rect x="441.8" y="79.8" width="0.8" height="0.8"/><rect x="459.9" y="63.3" width="0.8" height="0.8"/><rect x="462.5" y="70.0" width="0.8" height="0.8"/><rect x="496.4" y="50.8" width="0.8" height="0.8"/><rect x="486.7" y="49.6" width="0.8" height="0.8"/><rect x="438.3" y="83.4" width="0.8" height="0.8"/><rect x="475.8" y="60.5" width="0.8" height="0.8"/><rect x="484.6" y="57.3" width="0.8" height="0.8"/></g>
<g fill="#3c82d0" opacity="0.5"><rect x="448.8" y="120.3" width="0.8" height="0.8"/><rect x="451.3" y="116.2" width="0.8" height="0.8"/><rect x="449.8" y="128.9" width="0.8" height="0.8"/><rect x="448.4" y="102.9" width="0.8" height="0.8"/><rect x="454.1" y="95.8" width="0.8" height="0.8"/><rect x="454.0" y="105.2" width="0.8" height="0.8"/><rect x="457.4" y="126.7" width="0.8" height="0.8"/><rect x="451.3" y="101.8" width="0.8" height="0.8"/><rect x="450.0" y="122.7" width="0.8" height="0.8"/><rect x="456.8" y="101.2" width="0.8" height="0.8"/><rect x="451.1" y="133.0" width="0.8" height="0.8"/><rect x="449.0" y="133.7" width="0.8" height="0.8"/><rect x="459.3" y="111.2" width="0.8" height="0.8"/><rect x="452.3" y="112.9" width="0.8" height="0.8"/><rect x="454.3" y="109.9" width="0.8" height="0.8"/><rect x="454.2" y="117.3" width="0.8" height="0.8"/><rect x="458.4" y="95.5" width="0.8" height="0.8"/><rect x="455.2" y="92.6" width="0.8" height="0.8"/><rect x="450.9" y="112.7" width="0.8" height="0.8"/><rect x="455.4" y="124.0" width="0.8" height="0.8"/><rect x="452.7" y="120.9" width="0.8" height="0.8"/><rect x="456.1" y="118.3" width="0.8" height="0.8"/><rect x="450.6" y="121.5" width="0.8" height="0.8"/><rect x="457.5" y="105.5" width="0.8" height="0.8"/><rect x="459.2" y="124.2" width="0.8" height="0.8"/><rect x="447.7" y="123.9" width="0.8" height="0.8"/><rect x="452.0" y="109.4" width="0.8" height="0.8"/><rect x="458.6" y="97.4" width="0.8" height="0.8"/><rect x="455.4" y="134.6" width="0.8" height="0.8"/><rect x="459.2" y="102.0" width="0.8" height="0.8"/><rect x="456.0" y="120.4" width="0.8" height="0.8"/><rect x="448.4" y="125.2" width="0.8" height="0.8"/><rect x="448.2" y="111.8" width="0.8" height="0.8"/><rect x="452.7" y="111.4" width="0.8" height="0.8"/><rect x="454.7" y="98.7" width="0.8" height="0.8"/><rect x="458.9" y="133.3" width="0.8" height="0.8"/><rect x="453.7" y="116.7" width="0.8" height="0.8"/><rect x="447.9" y="111.6" width="0.8" height="0.8"/><rect x="455.5" y="117.8" width="0.8" height="0.8"/><rect x="448.8" y="132.7" width="0.8" height="0.8"/><rect x="451.9" y="123.5" width="0.8" height="0.8"/><rect x="449.0" y="112.8" width="0.8" height="0.8"/><rect x="449.5" y="95.6" width="0.8" height="0.8"/><rect x="461.5" y="98.0" width="0.8" height="0.8"/><rect x="457.9" y="103.1" width="0.8" height="0.8"/><rect x="448.3" y="124.7" width="0.8" height="0.8"/><rect x="458.2" y="110.0" width="0.8" height="0.8"/><rect x="449.8" y="94.8" width="0.8" height="0.8"/><rect x="453.5" y="123.7" width="0.8" height="0.8"/><rect x="452.2" y="111.2" width="0.8" height="0.8"/><rect x="455.4" y="105.2" width="0.8" height="0.8"/><rect x="449.4" y="127.3" width="0.8" height="0.8"/><rect x="453.4" y="97.1" width="0.8" height="0.8"/><rect x="452.4" y="123.7" width="0.8" height="0.8"/><rect x="472.0" y="104.0" width="0.8" height="0.8"/><rect x="472.0" y="135.6" width="0.8" height="0.8"/><rect x="454.2" y="127.8" width="0.8" height="0.8"/><rect x="452.7" y="135.9" width="0.8" height="0.8"/><rect x="458.2" y="116.6" width="0.8" height="0.8"/><rect x="451.9" y="103.4" width="0.8" height="0.8"/><rect x="452.4" y="112.4" width="0.8" height="0.8"/><rect x="449.7" y="121.1" width="0.8" height="0.8"/><rect x="460.3" y="120.6" width="0.8" height="0.8"/><rect x="448.2" y="100.4" width="0.8" height="0.8"/><rect x="456.1" y="110.7" width="0.8" height="0.8"/><rect x="454.4" y="120.6" width="0.8" height="0.8"/><rect x="461.4" y="100.3" width="0.8" height="0.8"/><rect x="474.0" y="126.2" width="0.8" height="0.8"/><rect x="456.7" y="128.9" width="0.8" height="0.8"/><rect x="467.0" y="133.3" width="0.8" height="0.8"/><rect x="453.2" y="103.8" width="0.8" height="0.8"/><rect x="455.7" y="108.2" width="0.8" height="0.8"/><rect x="449.2" y="129.2" width="0.8" height="0.8"/><rect x="451.4" y="117.0" width="0.8" height="0.8"/><rect x="456.3" y="96.5" width="0.8" height="0.8"/><rect x="453.3" y="129.3" width="0.8" height="0.8"/><rect x="452.1" y="105.3" width="0.8" height="0.8"/><rect x="447.3" y="111.2" width="0.8" height="0.8"/><rect x="447.4" y="129.9" width="0.8" height="0.8"/><rect x="447.0" y="134.3" width="0.8" height="0.8"/><rect x="456.2" y="93.1" width="0.8" height="0.8"/><rect x="450.7" y="114.2" width="0.8" height="0.8"/><rect x="474.2" y="108.4" width="0.8" height="0.8"/><rect x="447.3" y="97.5" width="0.8" height="0.8"/><rect x="454.1" y="127.6" width="0.8" height="0.8"/><rect x="450.5" y="98.8" width="0.8" height="0.8"/><rect x="458.2" y="100.4" width="0.8" height="0.8"/><rect x="463.0" y="126.3" width="0.8" height="0.8"/><rect x="463.8" y="132.6" width="0.8" height="0.8"/><rect x="462.9" y="106.3" width="0.8" height="0.8"/><rect x="456.2" y="96.5" width="0.8" height="0.8"/><rect x="459.2" y="120.4" width="0.8" height="0.8"/><rect x="456.9" y="111.6" width="0.8" height="0.8"/><rect x="455.9" y="96.8" width="0.8" height="0.8"/><rect x="458.6" y="102.9" width="0.8" height="0.8"/><rect x="450.6" y="98.0" width="0.8" height="0.8"/><rect x="456.4" y="133.8" width="0.8" height="0.8"/><rect x="459.5" y="126.9" width="0.8" height="0.8"/><rect x="451.9" y="134.8" width="0.8" height="0.8"/><rect x="453.2" y="111.9" width="0.8" height="0.8"/><rect x="458.5" y="134.0" width="0.8" height="0.8"/><rect x="450.1" y="126.3" width="0.8" height="0.8"/><rect x="455.5" y="113.6" width="0.8" height="0.8"/><rect x="454.9" y="114.2" width="0.8" height="0.8"/><rect x="447.2" y="100.9" width="0.8" height="0.8"/><rect x="449.6" y="94.4" width="0.8" height="0.8"/><rect x="470.4" y="122.7" width="0.8" height="0.8"/><rect x="447.2" y="117.8" width="0.8" height="0.8"/><rect x="457.7" y="103.5" width="0.8" height="0.8"/><rect x="448.8" y="115.9" width="0.8" height="0.8"/><rect x="456.5" y="109.8" width="0.8" height="0.8"/><rect x="454.8" y="118.3" width="0.8" height="0.8"/><rect x="447.6" y="135.4" width="0.8" height="0.8"/><rect x="459.0" y="121.3" width="0.8" height="0.8"/><rect x="454.5" y="131.4" width="0.8" height="0.8"/><rect x="457.6" y="105.0" width="0.8" height="0.8"/><rect x="459.1" y="106.6" width="0.8" height="0.8"/><rect x="459.9" y="132.2" width="0.8" height="0.8"/><rect x="447.8" y="112.2" width="0.8" height="0.8"/><rect x="453.2" y="134.6" width="0.8" height="0.8"/><rect x="464.8" y="115.5" width="0.8" height="0.8"/><rect x="458.4" y="92.6" width="0.8" height="0.8"/><rect x="455.4" y="126.8" width="0.8" height="0.8"/><rect x="449.9" y="102.5" width="0.8" height="0.8"/><rect x="451.2" y="115.3" width="0.8" height="0.8"/><rect x="463.4" y="134.0" width="0.8" height="0.8"/><rect x="452.0" y="102.9" width="0.8" height="0.8"/><rect x="454.3" y="127.3" width="0.8" height="0.8"/><rect x="450.5" y="133.2" width="0.8" height="0.8"/><rect x="457.9" y="133.2" width="0.8" height="0.8"/><rect x="458.1" y="116.1" width="0.8" height="0.8"/><rect x="448.8" y="106.5" width="0.8" height="0.8"/><rect x="450.7" y="105.4" width="0.8" height="0.8"/><rect x="463.3" y="97.4" width="0.8" height="0.8"/><rect x="461.2" y="98.3" width="0.8" height="0.8"/><rect x="470.0" y="101.5" width="0.8" height="0.8"/><rect x="458.3" y="102.1" width="0.8" height="0.8"/><rect x="457.1" y="96.3" width="0.8" height="0.8"/><rect x="464.7" y="128.6" width="0.8" height="0.8"/><rect x="456.2" y="128.7" width="0.8" height="0.8"/><rect x="455.8" y="122.1" width="0.8" height="0.8"/><rect x="450.3" y="116.9" width="0.8" height="0.8"/><rect x="462.2" y="98.0" width="0.8" height="0.8"/><rect x="455.8" y="102.7" width="0.8" height="0.8"/><rect x="450.4" y="126.2" width="0.8" height="0.8"/><rect x="457.0" y="96.3" width="0.8" height="0.8"/><rect x="448.4" y="127.9" width="0.8" height="0.8"/><rect x="448.0" y="130.7" width="0.8" height="0.8"/><rect x="448.1" y="96.0" width="0.8" height="0.8"/><rect x="453.9" y="121.2" width="0.8" height="0.8"/><rect x="451.4" y="111.8" width="0.8" height="0.8"/><rect x="453.8" y="126.7" width="0.8" height="0.8"/><rect x="448.7" y="115.4" width="0.8" height="0.8"/><rect x="456.6" y="104.9" width="0.8" height="0.8"/><rect x="453.0" y="106.3" width="0.8" height="0.8"/><rect x="451.9" y="120.1" width="0.8" height="0.8"/><rect x="454.4" y="133.3" width="0.8" height="0.8"/><rect x="448.3" y="103.3" width="0.8" height="0.8"/><rect x="452.6" y="125.8" width="0.8" height="0.8"/><rect x="457.9" y="113.2" width="0.8" height="0.8"/><rect x="455.3" y="108.5" width="0.8" height="0.8"/><rect x="451.0" y="132.6" width="0.8" height="0.8"/><rect x="453.1" y="104.7" width="0.8" height="0.8"/><rect x="472.5" y="131.9" width="0.8" height="0.8"/><rect x="459.0" y="134.4" width="0.8" height="0.8"/><rect x="459.9" y="130.4" width="0.8" height="0.8"/><rect x="447.7" y="129.3" width="0.8" height="0.8"/><rect x="456.8" y="128.5" width="0.8" height="0.8"/><rect x="457.4" y="110.1" width="0.8" height="0.8"/><rect x="467.5" y="95.9" width="0.8" height="0.8"/><rect x="453.2" y="108.5" width="0.8" height="0.8"/><rect x="463.1" y="131.2" width="0.8" height="0.8"/><rect x="447.9" y="108.1" width="0.8" height="0.8"/><rect x="459.8" y="117.7" width="0.8" height="0.8"/><rect x="458.6" y="107.4" width="0.8" height="0.8"/><rect x="451.8" y="133.3" width="0.8" height="0.8"/><rect x="451.1" y="110.7" width="0.8" height="0.8"/><rect x="460.8" y="111.6" width="0.8" height="0.8"/><rect x="449.1" y="101.1" width="0.8" height="0.8"/><rect x="456.7" y="126.4" width="0.8" height="0.8"/><rect x="453.6" y="126.3" width="0.8" height="0.8"/><rect x="447.9" y="115.4" width="0.8" height="0.8"/><rect x="458.9" y="122.3" width="0.8" height="0.8"/><rect x="454.2" y="105.3" width="0.8" height="0.8"/><rect x="453.3" y="101.9" width="0.8" height="0.8"/><rect x="448.0" y="124.4" width="0.8" height="0.8"/><rect x="449.4" y="111.6" width="0.8" height="0.8"/><rect x="452.1" y="127.9" width="0.8" height="0.8"/><rect x="467.0" y="107.3" width="0.8" height="0.8"/><rect x="454.3" y="120.8" width="0.8" height="0.8"/><rect x="452.3" y="134.8" width="0.8" height="0.8"/><rect x="451.3" y="120.1" width="0.8" height="0.8"/><rect x="452.8" y="129.1" width="0.8" height="0.8"/><rect x="450.9" y="126.4" width="0.8" height="0.8"/><rect x="453.5" y="123.0" width="0.8" height="0.8"/><rect x="467.2" y="107.4" width="0.8" height="0.8"/><rect x="463.0" y="127.9" width="0.8" height="0.8"/><rect x="458.4" y="135.4" width="0.8" height="0.8"/><rect x="447.8" y="116.0" width="0.8" height="0.8"/><rect x="457.2" y="105.9" width="0.8" height="0.8"/><rect x="447.5" y="125.2" width="0.8" height="0.8"/><rect x="447.0" y="101.6" width="0.8" height="0.8"/><rect x="454.3" y="121.3" width="0.8" height="0.8"/><rect x="464.8" y="111.5" width="0.8" height="0.8"/><rect x="454.8" y="101.1" width="0.8" height="0.8"/><rect x="451.5" y="100.7" width="0.8" height="0.8"/><rect x="449.7" y="107.3" width="0.8" height="0.8"/><rect x="463.2" y="99.6" width="0.8" height="0.8"/><rect x="450.3" y="125.1" width="0.8" height="0.8"/><rect x="449.7" y="103.1" width="0.8" height="0.8"/><rect x="454.6" y="130.9" width="0.8" height="0.8"/><rect x="454.9" y="125.0" width="0.8" height="0.8"/><rect x="462.7" y="103.2" width="0.8" height="0.8"/><rect x="451.2" y="92.6" width="0.8" height="0.8"/><rect x="452.6" y="110.9" width="0.8" height="0.8"/><rect x="447.7" y="128.8" width="0.8" height="0.8"/><rect x="447.4" y="131.6" width="0.8" height="0.8"/><rect x="452.9" y="97.1" width="0.8" height="0.8"/><rect x="450.3" y="99.9" width="0.8" height="0.8"/><rect x="453.8" y="111.6" width="0.8" height="0.8"/><rect x="458.9" y="123.9" width="0.8" height="0.8"/><rect x="451.3" y="116.7" width="0.8" height="0.8"/><rect x="450.8" y="131.0" width="0.8" height="0.8"/><rect x="449.8" y="132.7" width="0.8" height="0.8"/><rect x="447.9" y="122.8" width="0.8" height="0.8"/><rect x="453.5" y="128.7" width="0.8" height="0.8"/><rect x="452.5" y="100.5" width="0.8" height="0.8"/><rect x="447.5" y="100.3" width="0.8" height="0.8"/><rect x="453.9" y="97.2" width="0.8" height="0.8"/><rect x="455.1" y="127.0" width="0.8" height="0.8"/><rect x="456.9" y="97.6" width="0.8" height="0.8"/><rect x="452.2" y="133.0" width="0.8" height="0.8"/><rect x="473.8" y="107.1" width="0.8" height="0.8"/><rect x="459.2" y="100.8" width="0.8" height="0.8"/><rect x="450.3" y="129.3" width="0.8" height="0.8"/><rect x="459.5" y="118.4" width="0.8" height="0.8"/><rect x="449.9" y="126.5" width="0.8" height="0.8"/><rect x="455.9" y="122.1" width="0.8" height="0.8"/><rect x="468.0" y="93.9" width="0.8" height="0.8"/><rect x="457.8" y="127.3" width="0.8" height="0.8"/><rect x="447.3" y="105.3" width="0.8" height="0.8"/><rect x="460.7" y="95.5" width="0.8" height="0.8"/><rect x="466.0" y="110.7" width="0.8" height="0.8"/><rect x="456.2" y="134.1" width="0.8" height="0.8"/><rect x="459.0" y="118.7" width="0.8" height="0.8"/><rect x="459.3" y="118.2" width="0.8" height="0.8"/><rect x="454.7" y="93.3" width="0.8" height="0.8"/><rect x="459.9" y="93.8" width="0.8" height="0.8"/><rect x="458.7" y="101.2" width="0.8" height="0.8"/><rect x="452.4" y="117.7" width="0.8" height="0.8"/><rect x="447.7" y="92.1" width="0.8" height="0.8"/><rect x="457.9" y="96.6" width="0.8" height="0.8"/><rect x="453.4" y="93.9" width="0.8" height="0.8"/><rect x="460.8" y="98.4" width="0.8" height="0.8"/><rect x="469.5" y="97.8" width="0.8" height="0.8"/><rect x="453.0" y="103.7" width="0.8" height="0.8"/><rect x="465.1" y="117.1" width="0.8" height="0.8"/><rect x="461.3" y="114.6" width="0.8" height="0.8"/><rect x="453.0" y="92.7" width="0.8" height="0.8"/><rect x="455.8" y="97.5" width="0.8" height="0.8"/><rect x="448.0" y="132.5" width="0.8" height="0.8"/><rect x="456.9" y="122.7" width="0.8" height="0.8"/><rect x="454.2" y="124.1" width="0.8" height="0.8"/><rect x="451.5" y="126.1" width="0.8" height="0.8"/><rect x="470.1" y="127.4" width="0.8" height="0.8"/><rect x="456.4" y="101.2" width="0.8" height="0.8"/><rect x="467.9" y="120.5" width="0.8" height="0.8"/><rect x="461.4" y="116.7" width="0.8" height="0.8"/><rect x="453.4" y="120.9" width="0.8" height="0.8"/><rect x="452.5" y="117.2" width="0.8" height="0.8"/><rect x="458.8" y="111.0" width="0.8" height="0.8"/><rect x="457.1" y="109.2" width="0.8" height="0.8"/><rect x="447.2" y="134.8" width="0.8" height="0.8"/><rect x="454.7" y="109.4" width="0.8" height="0.8"/><rect x="458.4" y="102.5" width="0.8" height="0.8"/><rect x="451.2" y="104.6" width="0.8" height="0.8"/><rect x="448.6" y="131.3" width="0.8" height="0.8"/><rect x="453.7" y="103.2" width="0.8" height="0.8"/><rect x="450.0" y="112.7" width="0.8" height="0.8"/><rect x="469.4" y="130.0" width="0.8" height="0.8"/><rect x="450.2" y="118.1" width="0.8" height="0.8"/><rect x="447.8" y="112.2" width="0.8" height="0.8"/><rect x="467.5" y="95.0" width="0.8" height="0.8"/><rect x="465.6" y="112.8" width="0.8" height="0.8"/><rect x="454.7" y="119.1" width="0.8" height="0.8"/><rect x="458.8" y="103.0" width="0.8" height="0.8"/><rect x="451.5" y="97.4" width="0.8" height="0.8"/><rect x="457.6" y="106.3" width="0.8" height="0.8"/><rect x="452.1" y="123.7" width="0.8" height="0.8"/><rect x="454.9" y="133.9" width="0.8" height="0.8"/><rect x="450.1" y="110.1" width="0.8" height="0.8"/><rect x="448.6" y="107.1" width="0.8" height="0.8"/><rect x="455.0" y="99.5" width="0.8" height="0.8"/><rect x="454.6" y="114.7" width="0.8" height="0.8"/><rect x="450.4" y="126.4" width="0.8" height="0.8"/><rect x="449.5" y="132.0" width="0.8" height="0.8"/><rect x="450.7" y="101.4" width="0.8" height="0.8"/><rect x="458.1" y="125.4" width="0.8" height="0.8"/><rect x="460.3" y="109.4" width="0.8" height="0.8"/><rect x="472.3" y="110.7" width="0.8" height="0.8"/><rect x="454.0" y="135.0" width="0.8" height="0.8"/><rect x="448.8" y="108.8" width="0.8" height="0.8"/><rect x="453.0" y="107.8" width="0.8" height="0.8"/><rect x="451.4" y="101.1" width="0.8" height="0.8"/><rect x="456.2" y="115.9" width="0.8" height="0.8"/><rect x="449.8" y="95.0" width="0.8" height="0.8"/><rect x="450.2" y="116.2" width="0.8" height="0.8"/><rect x="455.2" y="104.3" width="0.8" height="0.8"/><rect x="458.5" y="126.7" width="0.8" height="0.8"/><rect x="449.1" y="97.0" width="0.8" height="0.8"/><rect x="454.2" y="115.2" width="0.8" height="0.8"/><rect x="459.8" y="110.9" width="0.8" height="0.8"/><rect x="459.8" y="107.0" width="0.8" height="0.8"/><rect x="455.5" y="129.3" width="0.8" height="0.8"/><rect x="448.3" y="131.1" width="0.8" height="0.8"/><rect x="452.6" y="127.5" width="0.8" height="0.8"/><rect x="450.5" y="122.0" width="0.8" height="0.8"/><rect x="455.0" y="135.3" width="0.8" height="0.8"/><rect x="456.8" y="100.2" width="0.8" height="0.8"/><rect x="455.2" y="102.9" width="0.8" height="0.8"/><rect x="458.4" y="114.5" width="0.8" height="0.8"/><rect x="450.1" y="99.7" width="0.8" height="0.8"/><rect x="461.4" y="113.0" width="0.8" height="0.8"/><rect x="447.5" y="131.3" width="0.8" height="0.8"/><rect x="448.9" y="92.8" width="0.8" height="0.8"/><rect x="450.8" y="126.4" width="0.8" height="0.8"/><rect x="455.9" y="122.3" width="0.8" height="0.8"/><rect x="455.6" y="110.0" width="0.8" height="0.8"/><rect x="452.2" y="97.9" width="0.8" height="0.8"/><rect x="450.6" y="108.9" width="0.8" height="0.8"/><rect x="462.5" y="109.8" width="0.8" height="0.8"/><rect x="449.5" y="106.5" width="0.8" height="0.8"/><rect x="454.0" y="132.5" width="0.8" height="0.8"/><rect x="450.3" y="117.2" width="0.8" height="0.8"/><rect x="449.7" y="130.5" width="0.8" height="0.8"/><rect x="456.2" y="115.7" width="0.8" height="0.8"/><rect x="469.3" y="127.0" width="0.8" height="0.8"/><rect x="455.9" y="98.4" width="0.8" height="0.8"/><rect x="449.0" y="108.3" width="0.8" height="0.8"/><rect x="451.4" y="112.3" width="0.8" height="0.8"/><rect x="456.0" y="114.6" width="0.8" height="0.8"/><rect x="452.2" y="107.5" width="0.8" height="0.8"/><rect x="451.7" y="125.4" width="0.8" height="0.8"/><rect x="454.7" y="130.9" width="0.8" height="0.8"/><rect x="459.5" y="95.7" width="0.8" height="0.8"/><rect x="448.1" y="127.6" width="0.8" height="0.8"/><rect x="454.2" y="115.7" width="0.8" height="0.8"/><rect x="449.5" y="132.5" width="0.8" height="0.8"/><rect x="450.9" y="121.6" width="0.8" height="0.8"/><rect x="469.6" y="122.5" width="0.8" height="0.8"/><rect x="448.4" y="92.5" width="0.8" height="0.8"/><rect x="457.0" y="98.7" width="0.8" height="0.8"/><rect x="451.4" y="115.2" width="0.8" height="0.8"/><rect x="450.6" y="109.5" width="0.8" height="0.8"/><rect x="451.0" y="126.4" width="0.8" height="0.8"/><rect x="467.5" y="113.4" width="0.8" height="0.8"/><rect x="457.2" y="130.8" width="0.8" height="0.8"/><rect x="459.6" y="116.8" width="0.8" height="0.8"/><rect x="458.7" y="134.3" width="0.8" height="0.8"/><rect x="467.0" y="113.5" width="0.8" height="0.8"/><rect x="451.2" y="106.9" width="0.8" height="0.8"/><rect x="470.1" y="108.4" width="0.8" height="0.8"/><rect x="448.0" y="94.0" width="0.8" height="0.8"/><rect x="452.8" y="106.2" width="0.8" height="0.8"/><rect x="449.2" y="132.0" width="0.8" height="0.8"/><rect x="454.8" y="111.6" width="0.8" height="0.8"/><rect x="456.7" y="134.9" width="0.8" height="0.8"/><rect x="448.6" y="128.3" width="0.8" height="0.8"/><rect x="456.7" y="97.6" width="0.8" height="0.8"/><rect x="449.9" y="128.7" width="0.8" height="0.8"/><rect x="453.2" y="93.0" width="0.8" height="0.8"/><rect x="448.6" y="115.2" width="0.8" height="0.8"/><rect x="450.9" y="116.7" width="0.8" height="0.8"/><rect x="453.1" y="122.3" width="0.8" height="0.8"/><rect x="453.1" y="104.6" width="0.8" height="0.8"/><rect x="464.3" y="100.2" width="0.8" height="0.8"/><rect x="453.3" y="129.6" width="0.8" height="0.8"/><rect x="451.9" y="103.9" width="0.8" height="0.8"/><rect x="451.6" y="96.9" width="0.8" height="0.8"/><rect x="458.0" y="118.3" width="0.8" height="0.8"/><rect x="451.0" y="132.0" width="0.8" height="0.8"/><rect x="451.9" y="134.5" width="0.8" height="0.8"/><rect x="456.5" y="94.8" width="0.8" height="0.8"/><rect x="451.9" y="133.2" width="0.8" height="0.8"/><rect x="450.3" y="115.5" width="0.8" height="0.8"/><rect x="447.7" y="133.6" width="0.8" height="0.8"/><rect x="462.7" y="107.9" width="0.8" height="0.8"/><rect x="450.3" y="133.7" width="0.8" height="0.8"/><rect x="459.3" y="92.8" width="0.8" height="0.8"/><rect x="454.1" y="108.2" width="0.8" height="0.8"/><rect x="453.6" y="123.2" width="0.8" height="0.8"/><rect x="456.1" y="132.5" width="0.8" height="0.8"/><rect x="460.0" y="98.3" width="0.8" height="0.8"/><rect x="459.6" y="112.2" width="0.8" height="0.8"/><rect x="453.7" y="115.4" width="0.8" height="0.8"/><rect x="458.0" y="124.1" width="0.8" height="0.8"/><rect x="458.4" y="116.6" width="0.8" height="0.8"/><rect x="454.0" y="129.8" width="0.8" height="0.8"/><rect x="463.1" y="98.4" width="0.8" height="0.8"/><rect x="454.7" y="100.1" width="0.8" height="0.8"/><rect x="456.3" y="92.1" width="0.8" height="0.8"/><rect x="450.7" y="103.2" width="0.8" height="0.8"/><rect x="447.1" y="130.8" width="0.8" height="0.8"/><rect x="447.2" y="118.4" width="0.8" height="0.8"/><rect x="459.1" y="102.4" width="0.8" height="0.8"/><rect x="456.0" y="101.2" width="0.8" height="0.8"/><rect x="450.0" y="101.8" width="0.8" height="0.8"/><rect x="453.2" y="106.3" width="0.8" height="0.8"/><rect x="451.5" y="109.7" width="0.8" height="0.8"/><rect x="448.3" y="127.0" width="0.8" height="0.8"/><rect x="464.6" y="111.9" width="0.8" height="0.8"/><rect x="449.9" y="124.8" width="0.8" height="0.8"/><rect x="457.4" y="97.6" width="0.8" height="0.8"/><rect x="455.9" y="112.8" width="0.8" height="0.8"/><rect x="453.0" y="110.6" width="0.8" height="0.8"/><rect x="462.4" y="131.4" width="0.8" height="0.8"/><rect x="455.2" y="106.5" width="0.8" height="0.8"/><rect x="460.0" y="102.9" width="0.8" height="0.8"/><rect x="458.0" y="133.3" width="0.8" height="0.8"/><rect x="451.5" y="130.1" width="0.8" height="0.8"/><rect x="453.2" y="94.9" width="0.8" height="0.8"/><rect x="467.9" y="119.7" width="0.8" height="0.8"/><rect x="447.5" y="92.1" width="0.8" height="0.8"/><rect x="459.1" y="93.2" width="0.8" height="0.8"/><rect x="464.7" y="100.9" width="0.8" height="0.8"/><rect x="455.1" y="134.2" width="0.8" height="0.8"/><rect x="462.2" y="103.6" width="0.8" height="0.8"/><rect x="447.1" y="103.0" width="0.8" height="0.8"/><rect x="450.9" y="114.0" width="0.8" height="0.8"/><rect x="457.1" y="127.6" width="0.8" height="0.8"/><rect x="457.9" y="115.1" width="0.8" height="0.8"/><rect x="459.3" y="135.6" width="0.8" height="0.8"/><rect x="448.8" y="124.4" width="0.8" height="0.8"/><rect x="448.0" y="128.6" width="0.8" height="0.8"/><rect x="459.0" y="105.8" width="0.8" height="0.8"/><rect x="451.5" y="92.9" width="0.8" height="0.8"/><rect x="448.9" y="135.0" width="0.8" height="0.8"/><rect x="448.5" y="92.2" width="0.8" height="0.8"/><rect x="467.3" y="127.6" width="0.8" height="0.8"/><rect x="448.2" y="97.3" width="0.8" height="0.8"/><rect x="450.0" y="128.5" width="0.8" height="0.8"/><rect x="447.0" y="97.3" width="0.8" height="0.8"/><rect x="457.4" y="110.3" width="0.8" height="0.8"/><rect x="463.3" y="135.4" width="0.8" height="0.8"/><rect x="456.8" y="134.4" width="0.8" height="0.8"/><rect x="453.3" y="106.3" width="0.8" height="0.8"/><rect x="448.7" y="94.7" width="0.8" height="0.8"/><rect x="453.8" y="113.8" width="0.8" height="0.8"/><rect x="456.7" y="106.8" width="0.8" height="0.8"/><rect x="458.0" y="131.1" width="0.8" height="0.8"/></g>
<g fill="#6a9ad8" opacity="0.4"><rect x="420.8" y="80.1" width="0.7" height="0.7"/><rect x="409.3" y="79.8" width="0.7" height="0.7"/><rect x="397.7" y="63.4" width="0.7" height="0.7"/><rect x="405.9" y="64.3" width="0.7" height="0.7"/><rect x="396.7" y="85.1" width="0.7" height="0.7"/><rect x="420.6" y="81.6" width="0.7" height="0.7"/><rect x="402.2" y="85.3" width="0.7" height="0.7"/><rect x="423.9" y="81.7" width="0.7" height="0.7"/><rect x="403.0" y="79.8" width="0.7" height="0.7"/><rect x="408.8" y="69.4" width="0.7" height="0.7"/><rect x="400.2" y="90.3" width="0.7" height="0.7"/><rect x="417.1" y="92.6" width="0.7" height="0.7"/><rect x="401.0" y="69.2" width="0.7" height="0.7"/><rect x="412.8" y="62.1" width="0.7" height="0.7"/><rect x="405.6" y="78.9" width="0.7" height="0.7"/><rect x="411.9" y="91.8" width="0.7" height="0.7"/><rect x="415.2" y="82.3" width="0.7" height="0.7"/><rect x="415.5" y="87.5" width="0.7" height="0.7"/><rect x="407.8" y="60.0" width="0.7" height="0.7"/><rect x="429.3" y="87.7" width="0.7" height="0.7"/><rect x="399.4" y="63.9" width="0.7" height="0.7"/><rect x="402.8" y="83.0" width="0.7" height="0.7"/><rect x="399.6" y="60.7" width="0.7" height="0.7"/><rect x="412.3" y="60.2" width="0.7" height="0.7"/><rect x="404.1" y="73.4" width="0.7" height="0.7"/><rect x="402.2" y="60.1" width="0.7" height="0.7"/><rect x="404.1" y="68.5" width="0.7" height="0.7"/><rect x="406.3" y="74.5" width="0.7" height="0.7"/><rect x="407.6" y="71.3" width="0.7" height="0.7"/><rect x="395.7" y="89.3" width="0.7" height="0.7"/><rect x="420.8" y="77.3" width="0.7" height="0.7"/><rect x="395.1" y="68.2" width="0.7" height="0.7"/><rect x="426.5" y="76.0" width="0.7" height="0.7"/><rect x="402.2" y="88.7" width="0.7" height="0.7"/><rect x="426.2" y="64.3" width="0.7" height="0.7"/><rect x="412.5" y="79.6" width="0.7" height="0.7"/><rect x="399.1" y="71.2" width="0.7" height="0.7"/><rect x="416.6" y="83.6" width="0.7" height="0.7"/><rect x="417.0" y="81.7" width="0.7" height="0.7"/><rect x="408.2" y="62.4" width="0.7" height="0.7"/><rect x="395.6" y="89.3" width="0.7" height="0.7"/><rect x="425.3" y="91.7" width="0.7" height="0.7"/><rect x="397.7" y="86.9" width="0.7" height="0.7"/><rect x="401.0" y="72.1" width="0.7" height="0.7"/><rect x="402.0" y="90.1" width="0.7" height="0.7"/><rect x="423.7" y="89.1" width="0.7" height="0.7"/><rect x="408.4" y="92.8" width="0.7" height="0.7"/><rect x="404.1" y="80.1" width="0.7" height="0.7"/><rect x="418.6" y="68.2" width="0.7" height="0.7"/><rect x="408.4" y="63.5" width="0.7" height="0.7"/><rect x="422.9" y="66.5" width="0.7" height="0.7"/><rect x="399.8" y="69.7" width="0.7" height="0.7"/><rect x="417.4" y="82.3" width="0.7" height="0.7"/><rect x="413.4" y="89.9" width="0.7" height="0.7"/><rect x="421.3" y="67.3" width="0.7" height="0.7"/><rect x="413.7" y="65.9" width="0.7" height="0.7"/><rect x="403.5" y="65.1" width="0.7" height="0.7"/><rect x="397.7" y="72.3" width="0.7" height="0.7"/><rect x="426.0" y="83.0" width="0.7" height="0.7"/><rect x="398.1" y="67.7" width="0.7" height="0.7"/></g>
<path d="M413,95 C420,88 430,80 440,74 C450,67 460,60 470,54 C478,49 486,45 495,42 L500,46 C496,52 490,58 484,64 C478,70 472,77 468,84 C464,90 461,95 458,100 L462,115 L460,130 L452,136 Z" fill="#1f6fc6" opacity="0.55" filter="url(#bl2)"/>
<path d="M440,80 C450,72 460,64 472,57 L478,60 C472,66 466,72 462,80 L458,90 Z" fill="#1f6fc6" opacity="0.5" filter="url(#bl2)"/>
<path d="M395,108 C396,101 401,97 410,95.5 L421,94.5 C427,92 432,88 436,84 C441,80 445,76 448,74 C453,70 456,67 460,64 L467,63.5 C465,68 462,73 459,80 C457,86 455,91 452,96 C450,102 451,112 450.5,120 C450,127 449,132 446,134.5 C430,135.8 410,135.8 395,135.5 Z" fill="#1f6fc6" filter="url(#bl)"/>
</g>
<clipPath id="hclip"><rect x="395" y="60" width="80" height="75.4"/></clipPath>
<g clip-path="url(#hclip)" filter="url(#bl)"><rect x="404" y="131" width="42" height="5" fill="#2aa8c8" opacity="0.45"/><path d="M409,136 C412,125 419,110 430.5,106.5 C438,105 441,113 442.5,122 L443.5,136 Z" fill="#2f8ad4"/><path d="M412,136 C415,126 421,112.5 431,109.5 C437,108.5 439.5,115 440.3,122 L441,136 Z" fill="#2aa8c8"/><path d="M417.5,136 C420,127 425.5,115.5 432,112.8 C436.5,112 438,118 438.5,124 L439,136 Z" fill="#3cb64a"/><path d="M423.5,136 C425.5,129 428.5,123.8 431.8,123 C434.5,122.8 435.6,127 436,131 L436.3,136 Z" fill="#e8e830"/><ellipse cx="431.7" cy="131.6" rx="3.4" ry="3.0" fill="#e8401c"/></g>
<rect x="394.80" y="45.80" width="92.90" height="49.00" fill="none" stroke="#d6337f" stroke-width="1.2"/>
<rect x="394.80" y="95.40" width="92.90" height="33.50" fill="none" stroke="#111" stroke-width="1.1"/>
<line x1="394.80" y1="94.80" x2="487.70" y2="94.80" stroke="#d6337f" stroke-width="1.2"/>
<line x1="391.60" y1="64.50" x2="394.20" y2="64.50" stroke="#444" stroke-width="1.0"/>
<line x1="392.80" y1="88.89" x2="394.20" y2="88.89" stroke="#444" stroke-width="0.7"/>
<line x1="392.80" y1="82.75" x2="394.20" y2="82.75" stroke="#444" stroke-width="0.7"/>
<line x1="392.80" y1="78.39" x2="394.20" y2="78.39" stroke="#444" stroke-width="0.7"/>
<line x1="392.80" y1="75.01" x2="394.20" y2="75.01" stroke="#444" stroke-width="0.7"/>
<line x1="392.80" y1="72.24" x2="394.20" y2="72.24" stroke="#444" stroke-width="0.7"/>
<line x1="392.80" y1="69.91" x2="394.20" y2="69.91" stroke="#444" stroke-width="0.7"/>
<line x1="392.80" y1="67.88" x2="394.20" y2="67.88" stroke="#444" stroke-width="0.7"/>
<line x1="392.80" y1="66.10" x2="394.20" y2="66.10" stroke="#444" stroke-width="0.7"/>
<line x1="391.60" y1="99.40" x2="394.20" y2="99.40" stroke="#444" stroke-width="1.0"/>
<line x1="392.80" y1="123.79" x2="394.20" y2="123.79" stroke="#444" stroke-width="0.7"/>
<line x1="392.80" y1="117.65" x2="394.20" y2="117.65" stroke="#444" stroke-width="0.7"/>
<line x1="392.80" y1="113.29" x2="394.20" y2="113.29" stroke="#444" stroke-width="0.7"/>
<line x1="392.80" y1="109.91" x2="394.20" y2="109.91" stroke="#444" stroke-width="0.7"/>
<line x1="392.80" y1="107.14" x2="394.20" y2="107.14" stroke="#444" stroke-width="0.7"/>
<line x1="392.80" y1="104.81" x2="394.20" y2="104.81" stroke="#444" stroke-width="0.7"/>
<line x1="392.80" y1="102.78" x2="394.20" y2="102.78" stroke="#444" stroke-width="0.7"/>
<line x1="392.80" y1="101.00" x2="394.20" y2="101.00" stroke="#444" stroke-width="0.7"/>
<line x1="391.60" y1="134.30" x2="394.20" y2="134.30" stroke="#444" stroke-width="1.0"/>
<line x1="392.80" y1="152.55" x2="394.20" y2="152.55" stroke="#444" stroke-width="0.7"/>
<line x1="392.80" y1="148.19" x2="394.20" y2="148.19" stroke="#444" stroke-width="0.7"/>
<line x1="392.80" y1="144.81" x2="394.20" y2="144.81" stroke="#444" stroke-width="0.7"/>
<line x1="392.80" y1="142.04" x2="394.20" y2="142.04" stroke="#444" stroke-width="0.7"/>
<line x1="392.80" y1="139.71" x2="394.20" y2="139.71" stroke="#444" stroke-width="0.7"/>
<line x1="392.80" y1="137.68" x2="394.20" y2="137.68" stroke="#444" stroke-width="0.7"/>
<line x1="392.80" y1="135.90" x2="394.20" y2="135.90" stroke="#444" stroke-width="0.7"/>
<line x1="394.20" y1="153.10" x2="394.20" y2="155.70" stroke="#444" stroke-width="1.0"/>
<line x1="403.38" y1="153.10" x2="403.38" y2="154.50" stroke="#444" stroke-width="0.7"/>
<line x1="408.75" y1="153.10" x2="408.75" y2="154.50" stroke="#444" stroke-width="0.7"/>
<line x1="412.56" y1="153.10" x2="412.56" y2="154.50" stroke="#444" stroke-width="0.7"/>
<line x1="415.52" y1="153.10" x2="415.52" y2="154.50" stroke="#444" stroke-width="0.7"/>
<line x1="417.93" y1="153.10" x2="417.93" y2="154.50" stroke="#444" stroke-width="0.7"/>
<line x1="419.98" y1="153.10" x2="419.98" y2="154.50" stroke="#444" stroke-width="0.7"/>
<line x1="421.74" y1="153.10" x2="421.74" y2="154.50" stroke="#444" stroke-width="0.7"/>
<line x1="423.30" y1="153.10" x2="423.30" y2="154.50" stroke="#444" stroke-width="0.7"/>
<line x1="424.70" y1="153.10" x2="424.70" y2="155.70" stroke="#444" stroke-width="1.0"/>
<line x1="433.88" y1="153.10" x2="433.88" y2="154.50" stroke="#444" stroke-width="0.7"/>
<line x1="439.25" y1="153.10" x2="439.25" y2="154.50" stroke="#444" stroke-width="0.7"/>
<line x1="443.06" y1="153.10" x2="443.06" y2="154.50" stroke="#444" stroke-width="0.7"/>
<line x1="446.02" y1="153.10" x2="446.02" y2="154.50" stroke="#444" stroke-width="0.7"/>
<line x1="448.43" y1="153.10" x2="448.43" y2="154.50" stroke="#444" stroke-width="0.7"/>
<line x1="450.48" y1="153.10" x2="450.48" y2="154.50" stroke="#444" stroke-width="0.7"/>
<line x1="452.24" y1="153.10" x2="452.24" y2="154.50" stroke="#444" stroke-width="0.7"/>
<line x1="453.80" y1="153.10" x2="453.80" y2="154.50" stroke="#444" stroke-width="0.7"/>
<line x1="455.20" y1="153.10" x2="455.20" y2="155.70" stroke="#444" stroke-width="1.0"/>
<line x1="464.38" y1="153.10" x2="464.38" y2="154.50" stroke="#444" stroke-width="0.7"/>
<line x1="469.75" y1="153.10" x2="469.75" y2="154.50" stroke="#444" stroke-width="0.7"/>
<line x1="473.56" y1="153.10" x2="473.56" y2="154.50" stroke="#444" stroke-width="0.7"/>
<line x1="476.52" y1="153.10" x2="476.52" y2="154.50" stroke="#444" stroke-width="0.7"/>
<line x1="478.93" y1="153.10" x2="478.93" y2="154.50" stroke="#444" stroke-width="0.7"/>
<line x1="480.98" y1="153.10" x2="480.98" y2="154.50" stroke="#444" stroke-width="0.7"/>
<line x1="482.74" y1="153.10" x2="482.74" y2="154.50" stroke="#444" stroke-width="0.7"/>
<line x1="484.30" y1="153.10" x2="484.30" y2="154.50" stroke="#444" stroke-width="0.7"/>
<line x1="485.70" y1="153.10" x2="485.70" y2="155.70" stroke="#444" stroke-width="1.0"/>
<line x1="494.88" y1="153.10" x2="494.88" y2="154.50" stroke="#444" stroke-width="0.7"/>
<line x1="500.25" y1="153.10" x2="500.25" y2="154.50" stroke="#444" stroke-width="0.7"/>
<line x1="504.06" y1="153.10" x2="504.06" y2="154.50" stroke="#444" stroke-width="0.7"/>
<text x="380.0" y="66.7" font-size="6.6" fill="#333" stroke="#333" stroke-width="0.16" textLength="6.0" lengthAdjust="spacingAndGlyphs">10</text>
<text x="386.3" y="63.8" font-size="3.8" fill="#333" stroke="#333" stroke-width="0.1">6</text>
<text x="380.0" y="101.3" font-size="6.6" fill="#333" stroke="#333" stroke-width="0.16" textLength="6.0" lengthAdjust="spacingAndGlyphs">10</text>
<text x="386.3" y="98.4" font-size="3.8" fill="#333" stroke="#333" stroke-width="0.1">5</text>
<text x="380.0" y="136.5" font-size="6.6" fill="#333" stroke="#333" stroke-width="0.16" textLength="6.0" lengthAdjust="spacingAndGlyphs">10</text>
<text x="386.3" y="133.6" font-size="3.8" fill="#333" stroke="#333" stroke-width="0.1">4</text>
<text x="390.2" y="164.2" font-size="6.6" fill="#333" stroke="#333" stroke-width="0.16" textLength="6.0" lengthAdjust="spacingAndGlyphs">10</text>
<text x="396.5" y="161.3" font-size="3.8" fill="#333" stroke="#333" stroke-width="0.1">2</text>
<text x="420.7" y="164.2" font-size="6.6" fill="#333" stroke="#333" stroke-width="0.16" textLength="6.0" lengthAdjust="spacingAndGlyphs">10</text>
<text x="427.0" y="161.3" font-size="3.8" fill="#333" stroke="#333" stroke-width="0.1">3</text>
<text x="451.2" y="164.2" font-size="6.6" fill="#333" stroke="#333" stroke-width="0.16" textLength="6.0" lengthAdjust="spacingAndGlyphs">10</text>
<text x="457.5" y="161.3" font-size="3.8" fill="#333" stroke="#333" stroke-width="0.1">4</text>
<text x="481.7" y="164.2" font-size="6.6" fill="#333" stroke="#333" stroke-width="0.16" textLength="6.0" lengthAdjust="spacingAndGlyphs">10</text>
<text x="488.0" y="161.3" font-size="3.8" fill="#333" stroke="#333" stroke-width="0.1">5</text>
<text x="497.9" y="77.5" font-size="6.5" text-anchor="middle" fill="#2b2b2b" stroke="#2b2b2b" stroke-width="0.16" textLength="16.0" lengthAdjust="spacingAndGlyphs">Large</text>
<text x="497.9" y="85.0" font-size="6.5" text-anchor="middle" fill="#2b2b2b" stroke="#2b2b2b" stroke-width="0.16" textLength="9.5" lengthAdjust="spacingAndGlyphs">MP</text>
<text x="497.9" y="92.3" font-size="6.5" text-anchor="middle" fill="#2b2b2b" stroke="#2b2b2b" stroke-width="0.16" textLength="12.0" lengthAdjust="spacingAndGlyphs">gate</text>
<text x="497.9" y="107.1" font-size="6.5" text-anchor="middle" fill="#2b2b2b" stroke="#2b2b2b" stroke-width="0.16" textLength="16.0" lengthAdjust="spacingAndGlyphs">Small</text>
<text x="497.9" y="114.4" font-size="6.5" text-anchor="middle" fill="#2b2b2b" stroke="#2b2b2b" stroke-width="0.16" textLength="9.5" lengthAdjust="spacingAndGlyphs">MP</text>
<text x="497.9" y="122.3" font-size="6.5" text-anchor="middle" fill="#2b2b2b" stroke="#2b2b2b" stroke-width="0.16" textLength="12.0" lengthAdjust="spacingAndGlyphs">gate</text>
<text x="451.4" y="176.2" font-size="7.5" text-anchor="middle" fill="#2b2b2b" stroke="#2b2b2b" stroke-width="0.16" textLength="18.0" lengthAdjust="spacingAndGlyphs">FSC-H</text>
<text transform="translate(373.6,96.8) rotate(-90)" x="0" y="0" font-size="8.6" text-anchor="middle" fill="#2b2b2b" stroke="#2b2b2b" stroke-width="0.16" textLength="38.0" lengthAdjust="spacingAndGlyphs">Violet SSC-H</text>
<text x="34.6" y="215.6" font-size="9" text-anchor="start" fill="#2b2b2b" stroke="#2b2b2b" stroke-width="0.16" textLength="113.2" lengthAdjust="spacingAndGlyphs">Platelet microparticles (PMP)</text>
<text x="72.7" y="226.2" font-size="9" text-anchor="start" fill="#2b2b2b" stroke="#2b2b2b" stroke-width="0.16" textLength="38.1" lengthAdjust="spacingAndGlyphs">in plasma</text>
<rect x="35.20" y="234.10" width="112.80" height="110.50" fill="#fff" stroke="#7e7e7e" stroke-width="1.0"/>
<path d="M35.4,344.3 L35.4,327.7 L37.5,323.6 L39.5,324.3 L41.6,314.0 L43.6,305.9 L45.7,297.7 L47.7,286.8 L49.8,280.0 L51.8,269.0 L53.2,260.2 L54.5,258.4 L56.6,261.6 L58.6,263.6 L60.7,273.2 L62.7,281.3 L64.7,292.2 L66.1,301.8 L68.1,315.4 L70.2,326.3 L72.9,334.5 L76.3,340.0 L80.4,342.6 L84.5,343.7 L95.0,344.2 L105.0,343.8 L109.0,342.5 L112.0,339.0 L115.0,335.0 L117.5,332.0 L119.0,331.5 L121.0,334.0 L123.5,338.0 L126.0,341.5 L128.5,343.6 L140.0,344.3 L146.0,344.5 L146.0,344.3 Z" fill="#000"/>
<line x1="33.20" y1="333.65" x2="35.20" y2="333.65" stroke="#555" stroke-width="0.8"/>
<line x1="33.20" y1="322.30" x2="35.20" y2="322.30" stroke="#555" stroke-width="0.8"/>
<line x1="33.20" y1="310.95" x2="35.20" y2="310.95" stroke="#555" stroke-width="0.8"/>
<line x1="33.20" y1="299.60" x2="35.20" y2="299.60" stroke="#555" stroke-width="0.8"/>
<line x1="33.20" y1="288.25" x2="35.20" y2="288.25" stroke="#555" stroke-width="0.8"/>
<line x1="33.20" y1="276.90" x2="35.20" y2="276.90" stroke="#555" stroke-width="0.8"/>
<line x1="33.20" y1="265.55" x2="35.20" y2="265.55" stroke="#555" stroke-width="0.8"/>
<line x1="33.20" y1="254.20" x2="35.20" y2="254.20" stroke="#555" stroke-width="0.8"/>
<line x1="33.20" y1="242.85" x2="35.20" y2="242.85" stroke="#555" stroke-width="0.8"/>
<line x1="35.20" y1="344.60" x2="35.20" y2="347.20" stroke="#444" stroke-width="1.0"/>
<line x1="43.69" y1="344.60" x2="43.69" y2="346.00" stroke="#444" stroke-width="0.7"/>
<line x1="48.65" y1="344.60" x2="48.65" y2="346.00" stroke="#444" stroke-width="0.7"/>
<line x1="52.18" y1="344.60" x2="52.18" y2="346.00" stroke="#444" stroke-width="0.7"/>
<line x1="54.91" y1="344.60" x2="54.91" y2="346.00" stroke="#444" stroke-width="0.7"/>
<line x1="57.14" y1="344.60" x2="57.14" y2="346.00" stroke="#444" stroke-width="0.7"/>
<line x1="59.03" y1="344.60" x2="59.03" y2="346.00" stroke="#444" stroke-width="0.7"/>
<line x1="60.67" y1="344.60" x2="60.67" y2="346.00" stroke="#444" stroke-width="0.7"/>
<line x1="62.11" y1="344.60" x2="62.11" y2="346.00" stroke="#444" stroke-width="0.7"/>
<line x1="63.40" y1="344.60" x2="63.40" y2="347.20" stroke="#444" stroke-width="1.0"/>
<line x1="71.89" y1="344.60" x2="71.89" y2="346.00" stroke="#444" stroke-width="0.7"/>
<line x1="76.85" y1="344.60" x2="76.85" y2="346.00" stroke="#444" stroke-width="0.7"/>
<line x1="80.38" y1="344.60" x2="80.38" y2="346.00" stroke="#444" stroke-width="0.7"/>
<line x1="83.11" y1="344.60" x2="83.11" y2="346.00" stroke="#444" stroke-width="0.7"/>
<line x1="85.34" y1="344.60" x2="85.34" y2="346.00" stroke="#444" stroke-width="0.7"/>
<line x1="87.23" y1="344.60" x2="87.23" y2="346.00" stroke="#444" stroke-width="0.7"/>
<line x1="88.87" y1="344.60" x2="88.87" y2="346.00" stroke="#444" stroke-width="0.7"/>
<line x1="90.31" y1="344.60" x2="90.31" y2="346.00" stroke="#444" stroke-width="0.7"/>
<line x1="91.60" y1="344.60" x2="91.60" y2="347.20" stroke="#444" stroke-width="1.0"/>
<line x1="100.09" y1="344.60" x2="100.09" y2="346.00" stroke="#444" stroke-width="0.7"/>
<line x1="105.05" y1="344.60" x2="105.05" y2="346.00" stroke="#444" stroke-width="0.7"/>
<line x1="108.58" y1="344.60" x2="108.58" y2="346.00" stroke="#444" stroke-width="0.7"/>
<line x1="111.31" y1="344.60" x2="111.31" y2="346.00" stroke="#444" stroke-width="0.7"/>
<line x1="113.54" y1="344.60" x2="113.54" y2="346.00" stroke="#444" stroke-width="0.7"/>
<line x1="115.43" y1="344.60" x2="115.43" y2="346.00" stroke="#444" stroke-width="0.7"/>
<line x1="117.07" y1="344.60" x2="117.07" y2="346.00" stroke="#444" stroke-width="0.7"/>
<line x1="118.51" y1="344.60" x2="118.51" y2="346.00" stroke="#444" stroke-width="0.7"/>
<line x1="119.80" y1="344.60" x2="119.80" y2="347.20" stroke="#444" stroke-width="1.0"/>
<line x1="128.29" y1="344.60" x2="128.29" y2="346.00" stroke="#444" stroke-width="0.7"/>
<line x1="133.25" y1="344.60" x2="133.25" y2="346.00" stroke="#444" stroke-width="0.7"/>
<line x1="136.78" y1="344.60" x2="136.78" y2="346.00" stroke="#444" stroke-width="0.7"/>
<line x1="139.51" y1="344.60" x2="139.51" y2="346.00" stroke="#444" stroke-width="0.7"/>
<line x1="141.74" y1="344.60" x2="141.74" y2="346.00" stroke="#444" stroke-width="0.7"/>
<line x1="143.63" y1="344.60" x2="143.63" y2="346.00" stroke="#444" stroke-width="0.7"/>
<line x1="145.27" y1="344.60" x2="145.27" y2="346.00" stroke="#444" stroke-width="0.7"/>
<line x1="146.71" y1="344.60" x2="146.71" y2="346.00" stroke="#444" stroke-width="0.7"/>
<line x1="148.00" y1="344.60" x2="148.00" y2="347.20" stroke="#444" stroke-width="1.0"/>
<text x="30.9" y="355.5" font-size="6.6" fill="#333" stroke="#333" stroke-width="0.16" textLength="6.0" lengthAdjust="spacingAndGlyphs">10</text>
<text x="37.2" y="352.6" font-size="3.8" fill="#333" stroke="#333" stroke-width="0.1">2</text>
<text x="59.1" y="355.5" font-size="6.6" fill="#333" stroke="#333" stroke-width="0.16" textLength="6.0" lengthAdjust="spacingAndGlyphs">10</text>
<text x="65.4" y="352.6" font-size="3.8" fill="#333" stroke="#333" stroke-width="0.1">3</text>
<text x="87.3" y="355.5" font-size="6.6" fill="#333" stroke="#333" stroke-width="0.16" textLength="6.0" lengthAdjust="spacingAndGlyphs">10</text>
<text x="93.6" y="352.6" font-size="3.8" fill="#333" stroke="#333" stroke-width="0.1">4</text>
<text x="115.5" y="355.5" font-size="6.6" fill="#333" stroke="#333" stroke-width="0.16" textLength="6.0" lengthAdjust="spacingAndGlyphs">10</text>
<text x="121.8" y="352.6" font-size="3.8" fill="#333" stroke="#333" stroke-width="0.1">5</text>
<text x="143.7" y="355.5" font-size="6.6" fill="#333" stroke="#333" stroke-width="0.16" textLength="6.0" lengthAdjust="spacingAndGlyphs">10</text>
<text x="150.0" y="352.6" font-size="3.8" fill="#333" stroke="#333" stroke-width="0.1">6</text>
<line x1="77.40" y1="292.50" x2="146.70" y2="292.50" stroke="#222" stroke-width="0.9"/>
<text x="111.9" y="287.7" font-size="6.3" text-anchor="middle" fill="#2b2b2b" stroke="#2b2b2b" stroke-width="0.16" textLength="24.0" lengthAdjust="spacingAndGlyphs">PMP (+)</text>
<text x="91.9" y="367.9" font-size="8.2" text-anchor="middle" fill="#2b2b2b" stroke="#2b2b2b" stroke-width="0.16" textLength="60.0" lengthAdjust="spacingAndGlyphs">CD41a (PerCP-Cy5)</text>
<text transform="translate(27.2,290.4) rotate(-90)" x="0" y="0" font-size="8.8" text-anchor="middle" fill="#2b2b2b" stroke="#2b2b2b" stroke-width="0.16" textLength="18.6" lengthAdjust="spacingAndGlyphs">Count</text>
<text x="216.0" y="215.6" font-size="9" text-anchor="start" fill="#2b2b2b" stroke="#2b2b2b" stroke-width="0.16" textLength="130.5" lengthAdjust="spacingAndGlyphs">Phosphatidyserine (PS) + Platelet</text>
<text x="221.0" y="226.4" font-size="9" text-anchor="start" fill="#2b2b2b" stroke="#2b2b2b" stroke-width="0.16" textLength="120.5" lengthAdjust="spacingAndGlyphs">microparticles (PMP) in plasma</text>
<rect x="225.30" y="233.70" width="112.20" height="110.20" fill="#fff" stroke="#7e7e7e" stroke-width="1.0"/>
<path d="M250.6,343.6 L250.6,343.8 L251.9,336.9 L252.8,341.0 L254.4,336.9 L256.0,339.0 L258.1,332.5 L259.8,327.5 L261.2,333.0 L263.5,322.5 L264.8,331.0 L266.2,317.5 L267.5,303.8 L268.8,298.8 L270.0,301.0 L271.2,293.8 L272.8,287.5 L274.4,273.8 L275.6,283.8 L276.9,295.0 L278.5,305.0 L280.0,293.8 L281.2,313.8 L282.5,317.5 L283.8,327.5 L285.6,328.7 L287.5,326.2 L289.4,333.8 L291.2,332.5 L293.1,336.9 L295.0,336.3 L296.2,341.2 L298.8,340.0 L300.6,343.8 L300.6,343.6 Z" fill="#000"/>
<line x1="223.30" y1="337.00" x2="225.30" y2="337.00" stroke="#555" stroke-width="0.8"/>
<line x1="223.30" y1="329.70" x2="225.30" y2="329.70" stroke="#555" stroke-width="0.8"/>
<line x1="223.30" y1="322.40" x2="225.30" y2="322.40" stroke="#555" stroke-width="0.8"/>
<line x1="223.30" y1="315.10" x2="225.30" y2="315.10" stroke="#555" stroke-width="0.8"/>
<line x1="223.30" y1="307.80" x2="225.30" y2="307.80" stroke="#555" stroke-width="0.8"/>
<line x1="223.30" y1="300.50" x2="225.30" y2="300.50" stroke="#555" stroke-width="0.8"/>
<line x1="223.30" y1="293.20" x2="225.30" y2="293.20" stroke="#555" stroke-width="0.8"/>
<line x1="223.30" y1="285.90" x2="225.30" y2="285.90" stroke="#555" stroke-width="0.8"/>
<line x1="223.30" y1="278.60" x2="225.30" y2="278.60" stroke="#555" stroke-width="0.8"/>
<line x1="223.30" y1="271.30" x2="225.30" y2="271.30" stroke="#555" stroke-width="0.8"/>
<line x1="223.30" y1="264.00" x2="225.30" y2="264.00" stroke="#555" stroke-width="0.8"/>
<line x1="223.30" y1="256.70" x2="225.30" y2="256.70" stroke="#555" stroke-width="0.8"/>
<line x1="223.30" y1="249.40" x2="225.30" y2="249.40" stroke="#555" stroke-width="0.8"/>
<line x1="223.30" y1="242.10" x2="225.30" y2="242.10" stroke="#555" stroke-width="0.8"/>
<line x1="225.90" y1="343.90" x2="225.90" y2="346.50" stroke="#444" stroke-width="1.0"/>
<line x1="231.53" y1="343.90" x2="231.53" y2="345.30" stroke="#444" stroke-width="0.7"/>
<line x1="234.82" y1="343.90" x2="234.82" y2="345.30" stroke="#444" stroke-width="0.7"/>
<line x1="237.16" y1="343.90" x2="237.16" y2="345.30" stroke="#444" stroke-width="0.7"/>
<line x1="238.97" y1="343.90" x2="238.97" y2="345.30" stroke="#444" stroke-width="0.7"/>
<line x1="240.45" y1="343.90" x2="240.45" y2="345.30" stroke="#444" stroke-width="0.7"/>
<line x1="241.70" y1="343.90" x2="241.70" y2="345.30" stroke="#444" stroke-width="0.7"/>
<line x1="242.79" y1="343.90" x2="242.79" y2="345.30" stroke="#444" stroke-width="0.7"/>
<line x1="243.74" y1="343.90" x2="243.74" y2="345.30" stroke="#444" stroke-width="0.7"/>
<line x1="244.60" y1="343.90" x2="244.60" y2="346.50" stroke="#444" stroke-width="1.0"/>
<line x1="250.23" y1="343.90" x2="250.23" y2="345.30" stroke="#444" stroke-width="0.7"/>
<line x1="253.52" y1="343.90" x2="253.52" y2="345.30" stroke="#444" stroke-width="0.7"/>
<line x1="255.86" y1="343.90" x2="255.86" y2="345.30" stroke="#444" stroke-width="0.7"/>
<line x1="257.67" y1="343.90" x2="257.67" y2="345.30" stroke="#444" stroke-width="0.7"/>
<line x1="259.15" y1="343.90" x2="259.15" y2="345.30" stroke="#444" stroke-width="0.7"/>
<line x1="260.40" y1="343.90" x2="260.40" y2="345.30" stroke="#444" stroke-width="0.7"/>
<line x1="261.49" y1="343.90" x2="261.49" y2="345.30" stroke="#444" stroke-width="0.7"/>
<line x1="262.44" y1="343.90" x2="262.44" y2="345.30" stroke="#444" stroke-width="0.7"/>
<line x1="263.30" y1="343.90" x2="263.30" y2="346.50" stroke="#444" stroke-width="1.0"/>
<line x1="268.93" y1="343.90" x2="268.93" y2="345.30" stroke="#444" stroke-width="0.7"/>
<line x1="272.22" y1="343.90" x2="272.22" y2="345.30" stroke="#444" stroke-width="0.7"/>
<line x1="274.56" y1="343.90" x2="274.56" y2="345.30" stroke="#444" stroke-width="0.7"/>
<line x1="276.37" y1="343.90" x2="276.37" y2="345.30" stroke="#444" stroke-width="0.7"/>
<line x1="277.85" y1="343.90" x2="277.85" y2="345.30" stroke="#444" stroke-width="0.7"/>
<line x1="279.10" y1="343.90" x2="279.10" y2="345.30" stroke="#444" stroke-width="0.7"/>
<line x1="280.19" y1="343.90" x2="280.19" y2="345.30" stroke="#444" stroke-width="0.7"/>
<line x1="281.14" y1="343.90" x2="281.14" y2="345.30" stroke="#444" stroke-width="0.7"/>
<line x1="282.00" y1="343.90" x2="282.00" y2="346.50" stroke="#444" stroke-width="1.0"/>
<line x1="287.63" y1="343.90" x2="287.63" y2="345.30" stroke="#444" stroke-width="0.7"/>
<line x1="290.92" y1="343.90" x2="290.92" y2="345.30" stroke="#444" stroke-width="0.7"/>
<line x1="293.26" y1="343.90" x2="293.26" y2="345.30" stroke="#444" stroke-width="0.7"/>
<line x1="295.07" y1="343.90" x2="295.07" y2="345.30" stroke="#444" stroke-width="0.7"/>
<line x1="296.55" y1="343.90" x2="296.55" y2="345.30" stroke="#444" stroke-width="0.7"/>
<line x1="297.80" y1="343.90" x2="297.80" y2="345.30" stroke="#444" stroke-width="0.7"/>
<line x1="298.89" y1="343.90" x2="298.89" y2="345.30" stroke="#444" stroke-width="0.7"/>
<line x1="299.84" y1="343.90" x2="299.84" y2="345.30" stroke="#444" stroke-width="0.7"/>
<line x1="300.70" y1="343.90" x2="300.70" y2="346.50" stroke="#444" stroke-width="1.0"/>
<line x1="306.33" y1="343.90" x2="306.33" y2="345.30" stroke="#444" stroke-width="0.7"/>
<line x1="309.62" y1="343.90" x2="309.62" y2="345.30" stroke="#444" stroke-width="0.7"/>
<line x1="311.96" y1="343.90" x2="311.96" y2="345.30" stroke="#444" stroke-width="0.7"/>
<line x1="313.77" y1="343.90" x2="313.77" y2="345.30" stroke="#444" stroke-width="0.7"/>
<line x1="315.25" y1="343.90" x2="315.25" y2="345.30" stroke="#444" stroke-width="0.7"/>
<line x1="316.50" y1="343.90" x2="316.50" y2="345.30" stroke="#444" stroke-width="0.7"/>
<line x1="317.59" y1="343.90" x2="317.59" y2="345.30" stroke="#444" stroke-width="0.7"/>
<line x1="318.54" y1="343.90" x2="318.54" y2="345.30" stroke="#444" stroke-width="0.7"/>
<line x1="319.40" y1="343.90" x2="319.40" y2="346.50" stroke="#444" stroke-width="1.0"/>
<line x1="325.03" y1="343.90" x2="325.03" y2="345.30" stroke="#444" stroke-width="0.7"/>
<line x1="328.32" y1="343.90" x2="328.32" y2="345.30" stroke="#444" stroke-width="0.7"/>
<line x1="330.66" y1="343.90" x2="330.66" y2="345.30" stroke="#444" stroke-width="0.7"/>
<line x1="332.47" y1="343.90" x2="332.47" y2="345.30" stroke="#444" stroke-width="0.7"/>
<line x1="333.95" y1="343.90" x2="333.95" y2="345.30" stroke="#444" stroke-width="0.7"/>
<line x1="335.20" y1="343.90" x2="335.20" y2="345.30" stroke="#444" stroke-width="0.7"/>
<line x1="336.29" y1="343.90" x2="336.29" y2="345.30" stroke="#444" stroke-width="0.7"/>
<line x1="337.24" y1="343.90" x2="337.24" y2="345.30" stroke="#444" stroke-width="0.7"/>
<text x="225.8" y="354.6" font-size="6.6" text-anchor="middle" fill="#2b2b2b" stroke="#2b2b2b" stroke-width="0.16">10</text>
<text x="240.6" y="355.8" font-size="6.6" fill="#333" stroke="#333" stroke-width="0.16" textLength="6.0" lengthAdjust="spacingAndGlyphs">10</text>
<text x="246.9" y="352.9" font-size="3.8" fill="#333" stroke="#333" stroke-width="0.1">2</text>
<text x="259.3" y="355.8" font-size="6.6" fill="#333" stroke="#333" stroke-width="0.16" textLength="6.0" lengthAdjust="spacingAndGlyphs">10</text>
<text x="265.6" y="352.9" font-size="3.8" fill="#333" stroke="#333" stroke-width="0.1">3</text>
<text x="278.0" y="355.8" font-size="6.6" fill="#333" stroke="#333" stroke-width="0.16" textLength="6.0" lengthAdjust="spacingAndGlyphs">10</text>
<text x="284.3" y="352.9" font-size="3.8" fill="#333" stroke="#333" stroke-width="0.1">4</text>
<text x="296.7" y="355.8" font-size="6.6" fill="#333" stroke="#333" stroke-width="0.16" textLength="6.0" lengthAdjust="spacingAndGlyphs">10</text>
<text x="303.0" y="352.9" font-size="3.8" fill="#333" stroke="#333" stroke-width="0.1">5</text>
<text x="315.4" y="355.8" font-size="6.6" fill="#333" stroke="#333" stroke-width="0.16" textLength="6.0" lengthAdjust="spacingAndGlyphs">10</text>
<text x="321.7" y="352.9" font-size="3.8" fill="#333" stroke="#333" stroke-width="0.1">6</text>
<line x1="262.00" y1="260.80" x2="310.50" y2="260.80" stroke="#222" stroke-width="1.0"/>
<text x="286.5" y="256.0" font-size="6.3" text-anchor="middle" fill="#2b2b2b" stroke="#2b2b2b" stroke-width="0.16" textLength="33.3" lengthAdjust="spacingAndGlyphs">PS (+) PMP</text>
<text x="281.3" y="367.3" font-size="8.2" text-anchor="middle" fill="#2b2b2b" stroke="#2b2b2b" stroke-width="0.16" textLength="54.0" lengthAdjust="spacingAndGlyphs">Lactadherin (FITC)</text>
<text transform="translate(216.8,290.3) rotate(-90)" x="0" y="0" font-size="8.8" text-anchor="middle" fill="#2b2b2b" stroke="#2b2b2b" stroke-width="0.16" textLength="18.8" lengthAdjust="spacingAndGlyphs">Count</text>
<text x="409.0" y="215.8" font-size="9" text-anchor="start" fill="#2b2b2b" stroke="#2b2b2b" stroke-width="0.16" textLength="85.0" lengthAdjust="spacingAndGlyphs">P-selectin (+) platelet</text>
<text x="389.3" y="226.2" font-size="9" text-anchor="start" fill="#2b2b2b" stroke="#2b2b2b" stroke-width="0.16" textLength="123.5" lengthAdjust="spacingAndGlyphs">microparticles (PMP) in plasma</text>
<rect x="393.60" y="234.20" width="113.70" height="110.10" fill="#fff" stroke="#7e7e7e" stroke-width="1.0"/>
<path d="M416.5,344.0 L416.5,344.0 L417.5,322.5 L418.6,311.6 L419.8,326.0 L421.4,288.3 L422.8,326.0 L425.6,314.7 L426.8,330.0 L428.7,319.4 L431.0,328.0 L433.4,311.6 L435.0,327.0 L437.7,317.9 L439.3,333.0 L443.5,321.0 L445.0,335.0 L447.8,321.7 L449.5,336.0 L452.8,333.4 L455.0,340.0 L457.4,342.7 L459.0,344.0 L459.0,344.0 Z" fill="#000"/>
<path d="M396.1,344.0 L396.1,343.5 L398.4,341.0 L400.0,333.4 L401.5,321.0 L403.1,305.4 L405.1,280.6 L407.0,257.3 L408.5,243.3 L409.8,237.9 L410.9,241.8 L412.0,246.4 L413.2,265.0 L414.7,293.0 L416.3,307.0 L417.5,321.0 L418.6,333.4 L420.2,340.4 L421.7,342.7 L423.0,344.0 L423.0,344.0 Z" fill="#8c8c8c"/>
<line x1="391.60" y1="337.40" x2="393.60" y2="337.40" stroke="#555" stroke-width="0.8"/>
<line x1="391.60" y1="330.10" x2="393.60" y2="330.10" stroke="#555" stroke-width="0.8"/>
<line x1="391.60" y1="322.80" x2="393.60" y2="322.80" stroke="#555" stroke-width="0.8"/>
<line x1="391.60" y1="315.50" x2="393.60" y2="315.50" stroke="#555" stroke-width="0.8"/>
<line x1="391.60" y1="308.20" x2="393.60" y2="308.20" stroke="#555" stroke-width="0.8"/>
<line x1="391.60" y1="300.90" x2="393.60" y2="300.90" stroke="#555" stroke-width="0.8"/>
<line x1="391.60" y1="293.60" x2="393.60" y2="293.60" stroke="#555" stroke-width="0.8"/>
<line x1="391.60" y1="286.30" x2="393.60" y2="286.30" stroke="#555" stroke-width="0.8"/>
<line x1="391.60" y1="279.00" x2="393.60" y2="279.00" stroke="#555" stroke-width="0.8"/>
<line x1="391.60" y1="271.70" x2="393.60" y2="271.70" stroke="#555" stroke-width="0.8"/>
<line x1="391.60" y1="264.40" x2="393.60" y2="264.40" stroke="#555" stroke-width="0.8"/>
<line x1="391.60" y1="257.10" x2="393.60" y2="257.10" stroke="#555" stroke-width="0.8"/>
<line x1="391.60" y1="249.80" x2="393.60" y2="249.80" stroke="#555" stroke-width="0.8"/>
<line x1="391.60" y1="242.50" x2="393.60" y2="242.50" stroke="#555" stroke-width="0.8"/>
<line x1="394.70" y1="344.30" x2="394.70" y2="346.90" stroke="#444" stroke-width="1.0"/>
<line x1="403.13" y1="344.30" x2="403.13" y2="345.70" stroke="#444" stroke-width="0.7"/>
<line x1="408.06" y1="344.30" x2="408.06" y2="345.70" stroke="#444" stroke-width="0.7"/>
<line x1="411.56" y1="344.30" x2="411.56" y2="345.70" stroke="#444" stroke-width="0.7"/>
<line x1="414.27" y1="344.30" x2="414.27" y2="345.70" stroke="#444" stroke-width="0.7"/>
<line x1="416.49" y1="344.30" x2="416.49" y2="345.70" stroke="#444" stroke-width="0.7"/>
<line x1="418.36" y1="344.30" x2="418.36" y2="345.70" stroke="#444" stroke-width="0.7"/>
<line x1="419.99" y1="344.30" x2="419.99" y2="345.70" stroke="#444" stroke-width="0.7"/>
<line x1="421.42" y1="344.30" x2="421.42" y2="345.70" stroke="#444" stroke-width="0.7"/>
<line x1="422.70" y1="344.30" x2="422.70" y2="346.90" stroke="#444" stroke-width="1.0"/>
<line x1="431.13" y1="344.30" x2="431.13" y2="345.70" stroke="#444" stroke-width="0.7"/>
<line x1="436.06" y1="344.30" x2="436.06" y2="345.70" stroke="#444" stroke-width="0.7"/>
<line x1="439.56" y1="344.30" x2="439.56" y2="345.70" stroke="#444" stroke-width="0.7"/>
<line x1="442.27" y1="344.30" x2="442.27" y2="345.70" stroke="#444" stroke-width="0.7"/>
<line x1="444.49" y1="344.30" x2="444.49" y2="345.70" stroke="#444" stroke-width="0.7"/>
<line x1="446.36" y1="344.30" x2="446.36" y2="345.70" stroke="#444" stroke-width="0.7"/>
<line x1="447.99" y1="344.30" x2="447.99" y2="345.70" stroke="#444" stroke-width="0.7"/>
<line x1="449.42" y1="344.30" x2="449.42" y2="345.70" stroke="#444" stroke-width="0.7"/>
<line x1="450.70" y1="344.30" x2="450.70" y2="346.90" stroke="#444" stroke-width="1.0"/>
<line x1="459.13" y1="344.30" x2="459.13" y2="345.70" stroke="#444" stroke-width="0.7"/>
<line x1="464.06" y1="344.30" x2="464.06" y2="345.70" stroke="#444" stroke-width="0.7"/>
<line x1="467.56" y1="344.30" x2="467.56" y2="345.70" stroke="#444" stroke-width="0.7"/>
<line x1="470.27" y1="344.30" x2="470.27" y2="345.70" stroke="#444" stroke-width="0.7"/>
<line x1="472.49" y1="344.30" x2="472.49" y2="345.70" stroke="#444" stroke-width="0.7"/>
<line x1="474.36" y1="344.30" x2="474.36" y2="345.70" stroke="#444" stroke-width="0.7"/>
<line x1="475.99" y1="344.30" x2="475.99" y2="345.70" stroke="#444" stroke-width="0.7"/>
<line x1="477.42" y1="344.30" x2="477.42" y2="345.70" stroke="#444" stroke-width="0.7"/>
<line x1="478.70" y1="344.30" x2="478.70" y2="346.90" stroke="#444" stroke-width="1.0"/>
<line x1="487.13" y1="344.30" x2="487.13" y2="345.70" stroke="#444" stroke-width="0.7"/>
<line x1="492.06" y1="344.30" x2="492.06" y2="345.70" stroke="#444" stroke-width="0.7"/>
<line x1="495.56" y1="344.30" x2="495.56" y2="345.70" stroke="#444" stroke-width="0.7"/>
<line x1="498.27" y1="344.30" x2="498.27" y2="345.70" stroke="#444" stroke-width="0.7"/>
<line x1="500.49" y1="344.30" x2="500.49" y2="345.70" stroke="#444" stroke-width="0.7"/>
<line x1="502.36" y1="344.30" x2="502.36" y2="345.70" stroke="#444" stroke-width="0.7"/>
<line x1="503.99" y1="344.30" x2="503.99" y2="345.70" stroke="#444" stroke-width="0.7"/>
<line x1="505.42" y1="344.30" x2="505.42" y2="345.70" stroke="#444" stroke-width="0.7"/>
<line x1="506.70" y1="344.30" x2="506.70" y2="346.90" stroke="#444" stroke-width="1.0"/>
<text x="390.6" y="355.0" font-size="6.6" fill="#333" stroke="#333" stroke-width="0.16" textLength="6.0" lengthAdjust="spacingAndGlyphs">10</text>
<text x="396.9" y="352.1" font-size="3.8" fill="#333" stroke="#333" stroke-width="0.1">2</text>
<text x="418.6" y="355.0" font-size="6.6" fill="#333" stroke="#333" stroke-width="0.16" textLength="6.0" lengthAdjust="spacingAndGlyphs">10</text>
<text x="424.9" y="352.1" font-size="3.8" fill="#333" stroke="#333" stroke-width="0.1">3</text>
<text x="446.6" y="355.0" font-size="6.6" fill="#333" stroke="#333" stroke-width="0.16" textLength="6.0" lengthAdjust="spacingAndGlyphs">10</text>
<text x="452.9" y="352.1" font-size="3.8" fill="#333" stroke="#333" stroke-width="0.1">4</text>
<text x="474.6" y="355.0" font-size="6.6" fill="#333" stroke="#333" stroke-width="0.16" textLength="6.0" lengthAdjust="spacingAndGlyphs">10</text>
<text x="480.9" y="352.1" font-size="3.8" fill="#333" stroke="#333" stroke-width="0.1">5</text>
<text x="502.6" y="355.0" font-size="6.6" fill="#333" stroke="#333" stroke-width="0.16" textLength="6.0" lengthAdjust="spacingAndGlyphs">10</text>
<text x="508.9" y="352.1" font-size="3.8" fill="#333" stroke="#333" stroke-width="0.1">6</text>
<line x1="428.00" y1="296.80" x2="503.40" y2="296.80" stroke="#444" stroke-width="1.1"/>
<text x="466.3" y="292.2" font-size="6.3" text-anchor="middle" fill="#2b2b2b" stroke="#2b2b2b" stroke-width="0.16" textLength="54.2" lengthAdjust="spacingAndGlyphs">P-selectin (+) PMP</text>
<text x="450.8" y="366.6" font-size="8.2" text-anchor="middle" fill="#2b2b2b" stroke="#2b2b2b" stroke-width="0.16" textLength="43.0" lengthAdjust="spacingAndGlyphs">P-selectin (PE)</text>
<text transform="translate(386.9,290.4) rotate(-90)" x="0" y="0" font-size="8.8" text-anchor="middle" fill="#2b2b2b" stroke="#2b2b2b" stroke-width="0.16" textLength="18.5" lengthAdjust="spacingAndGlyphs">Count</text>
<text x="55.4" y="398.8" font-size="9" text-anchor="start" fill="#2b2b2b" stroke="#2b2b2b" stroke-width="0.16" textLength="114.2" lengthAdjust="spacingAndGlyphs">Platelet microparticles (PMP)</text>
<text x="93.4" y="409.4" font-size="9" text-anchor="start" fill="#2b2b2b" stroke="#2b2b2b" stroke-width="0.16" textLength="38.1" lengthAdjust="spacingAndGlyphs">in plasma</text>
<rect x="67.60" y="538.70" width="13.20" height="8.70" fill="#e48b7d" stroke="none" stroke-width="1"/>
<rect x="88.00" y="530.20" width="13.80" height="17.20" fill="#afd1f1" stroke="none" stroke-width="1"/>
<rect x="122.80" y="481.40" width="13.80" height="66.00" fill="#e48b7d" stroke="none" stroke-width="1"/>
<rect x="144.20" y="455.80" width="13.20" height="91.60" fill="#afd1f1" stroke="none" stroke-width="1"/>
<line x1="112.3" y1="483.3" x2="112.3" y2="547.4" stroke="#1a1a1a" stroke-width="1.35" stroke-dasharray="5.1,2.05"/>
<line x1="57.00" y1="428.50" x2="57.00" y2="485.00" stroke="#2a2a2a" stroke-width="1.3"/>
<line x1="57.00" y1="492.50" x2="57.00" y2="548.00" stroke="#2a2a2a" stroke-width="1.3"/>
<path d="M55.6,485.3 L58.5,488.2 M55.3,489.7 L58.5,492.5" stroke="#2a2a2a" stroke-width="1.0" fill="none"/>
<line x1="56.40" y1="547.40" x2="167.20" y2="547.40" stroke="#2a2a2a" stroke-width="1.3"/>
<line x1="54.40" y1="430.50" x2="57.00" y2="430.50" stroke="#2a2a2a" stroke-width="1.0"/>
<text x="51.8" y="432.8" font-size="6.4" text-anchor="end" fill="#333" stroke="#333" stroke-width="0.16">1500</text>
<line x1="54.40" y1="439.90" x2="57.00" y2="439.90" stroke="#2a2a2a" stroke-width="1.0"/>
<text x="51.8" y="442.2" font-size="6.4" text-anchor="end" fill="#333" stroke="#333" stroke-width="0.16">1250</text>
<line x1="54.40" y1="449.30" x2="57.00" y2="449.30" stroke="#2a2a2a" stroke-width="1.0"/>
<text x="51.8" y="451.6" font-size="6.4" text-anchor="end" fill="#333" stroke="#333" stroke-width="0.16">1000</text>
<line x1="54.40" y1="458.70" x2="57.00" y2="458.70" stroke="#2a2a2a" stroke-width="1.0"/>
<text x="51.8" y="461.0" font-size="6.4" text-anchor="end" fill="#333" stroke="#333" stroke-width="0.16">750</text>
<line x1="54.40" y1="468.10" x2="57.00" y2="468.10" stroke="#2a2a2a" stroke-width="1.0"/>
<text x="51.8" y="470.4" font-size="6.4" text-anchor="end" fill="#333" stroke="#333" stroke-width="0.16">500</text>
<line x1="54.40" y1="477.50" x2="57.00" y2="477.50" stroke="#2a2a2a" stroke-width="1.0"/>
<text x="51.8" y="479.8" font-size="6.4" text-anchor="end" fill="#333" stroke="#333" stroke-width="0.16">250</text>
<line x1="54.40" y1="502.30" x2="57.00" y2="502.30" stroke="#2a2a2a" stroke-width="1.0"/>
<text x="51.8" y="504.6" font-size="6.4" text-anchor="end" fill="#333" stroke="#333" stroke-width="0.16">20</text>
<line x1="54.40" y1="513.50" x2="57.00" y2="513.50" stroke="#2a2a2a" stroke-width="1.0"/>
<text x="51.8" y="515.8" font-size="6.4" text-anchor="end" fill="#333" stroke="#333" stroke-width="0.16">15</text>
<line x1="54.40" y1="524.60" x2="57.00" y2="524.60" stroke="#2a2a2a" stroke-width="1.0"/>
<text x="51.8" y="526.9" font-size="6.4" text-anchor="end" fill="#333" stroke="#333" stroke-width="0.16">10</text>
<line x1="54.40" y1="535.80" x2="57.00" y2="535.80" stroke="#2a2a2a" stroke-width="1.0"/>
<text x="51.8" y="538.1" font-size="6.4" text-anchor="end" fill="#333" stroke="#333" stroke-width="0.16">5</text>
<line x1="54.40" y1="547.00" x2="57.00" y2="547.00" stroke="#2a2a2a" stroke-width="1.0"/>
<text x="51.8" y="549.3" font-size="6.4" text-anchor="end" fill="#333" stroke="#333" stroke-width="0.16">0</text>
<text x="51.8" y="493.4" font-size="6.4" text-anchor="end" fill="#333" stroke="#333" stroke-width="0.16">25</text>
<line x1="74.20" y1="547.40" x2="74.20" y2="550.00" stroke="#2a2a2a" stroke-width="1.0"/>
<line x1="95.10" y1="547.40" x2="95.10" y2="550.00" stroke="#2a2a2a" stroke-width="1.0"/>
<line x1="129.60" y1="547.40" x2="129.60" y2="550.00" stroke="#2a2a2a" stroke-width="1.0"/>
<line x1="150.80" y1="547.40" x2="150.80" y2="550.00" stroke="#2a2a2a" stroke-width="1.0"/>
<circle cx="74.2" cy="524.2" r="1.65" fill="#b8102e"/>
<circle cx="78.7" cy="533.1" r="1.65" fill="#b8102e"/>
<circle cx="69.4" cy="536.3" r="1.65" fill="#b8102e"/>
<circle cx="74.0" cy="538.3" r="1.65" fill="#b8102e"/>
<circle cx="69.6" cy="541.0" r="1.65" fill="#b8102e"/>
<circle cx="72.5" cy="542.5" r="1.65" fill="#b8102e"/>
<circle cx="78.3" cy="543.0" r="1.65" fill="#b8102e"/>
<circle cx="74.4" cy="544.4" r="1.65" fill="#b8102e"/>
<circle cx="76.5" cy="541.2" r="1.65" fill="#b8102e"/>
<line x1="71.30" y1="536.30" x2="77.30" y2="536.30" stroke="#b8102e" stroke-width="0.9"/>
<line x1="74.20" y1="536.30" x2="74.20" y2="540.50" stroke="#b8102e" stroke-width="0.9"/>
<line x1="71.20" y1="536.30" x2="77.20" y2="536.30" stroke="#b8102e" stroke-width="0.9"/>
<line x1="71.20" y1="540.50" x2="77.20" y2="540.50" stroke="#b8102e" stroke-width="0.9"/>
<rect x="88.7" y="511.6" width="3.2" height="3.2" fill="#2b9ad4"/>
<rect x="93.5" y="516.4" width="3.2" height="3.2" fill="#2b9ad4"/>
<rect x="97.8" y="514.2" width="3.2" height="3.2" fill="#2b9ad4"/>
<rect x="91.1" y="526.4" width="3.2" height="3.2" fill="#2b9ad4"/>
<rect x="98.8" y="534.2" width="3.2" height="3.2" fill="#2b9ad4"/>
<rect x="90.6" y="537.5" width="3.2" height="3.2" fill="#2b9ad4"/>
<rect x="94.0" y="537.5" width="3.2" height="3.2" fill="#2b9ad4"/>
<rect x="88.4" y="539.9" width="3.2" height="3.2" fill="#2b9ad4"/>
<rect x="96.2" y="540.4" width="3.2" height="3.2" fill="#2b9ad4"/>
<rect x="92.6" y="534.6" width="3.2" height="3.2" fill="#2b9ad4"/>
<rect x="87.9" y="536.7" width="3.2" height="3.2" fill="#2b9ad4"/>
<rect x="96.6" y="537.2" width="3.2" height="3.2" fill="#2b9ad4"/>
<rect x="92.2" y="540.2" width="3.2" height="3.2" fill="#2b9ad4"/>
<rect x="94.9" y="530.9" width="3.2" height="3.2" fill="#2b9ad4"/>
<line x1="95.10" y1="525.40" x2="95.10" y2="534.00" stroke="#2b9ad4" stroke-width="0.9"/>
<line x1="91.30" y1="525.40" x2="98.90" y2="525.40" stroke="#2b9ad4" stroke-width="0.9"/>
<line x1="91.30" y1="534.00" x2="98.90" y2="534.00" stroke="#2b9ad4" stroke-width="0.9"/>
<circle cx="127.0" cy="473.6" r="1.65" fill="#b8102e"/>
<circle cx="132.1" cy="477.7" r="1.65" fill="#b8102e"/>
<circle cx="125.0" cy="482.0" r="1.65" fill="#b8102e"/>
<circle cx="128.5" cy="482.5" r="1.65" fill="#b8102e"/>
<circle cx="131.0" cy="481.8" r="1.65" fill="#b8102e"/>
<circle cx="134.3" cy="482.3" r="1.65" fill="#b8102e"/>
<circle cx="126.7" cy="484.3" r="1.65" fill="#b8102e"/>
<circle cx="129.8" cy="484.8" r="1.65" fill="#b8102e"/>
<circle cx="132.8" cy="484.0" r="1.65" fill="#b8102e"/>
<rect x="146.6" y="438.0" width="3.2" height="3.2" fill="#2b9ad4"/>
<rect x="151.4" y="439.9" width="3.2" height="3.2" fill="#2b9ad4"/>
<rect x="148.8" y="446.2" width="3.2" height="3.2" fill="#2b9ad4"/>
<rect x="153.6" y="452.7" width="3.2" height="3.2" fill="#2b9ad4"/>
<rect x="144.4" y="454.9" width="3.2" height="3.2" fill="#2b9ad4"/>
<rect x="149.0" y="458.0" width="3.2" height="3.2" fill="#2b9ad4"/>
<rect x="144.4" y="461.7" width="3.2" height="3.2" fill="#2b9ad4"/>
<rect x="153.8" y="464.6" width="3.2" height="3.2" fill="#2b9ad4"/>
<rect x="149.0" y="467.2" width="3.2" height="3.2" fill="#2b9ad4"/>
<line x1="150.40" y1="451.40" x2="150.40" y2="458.20" stroke="#2b9ad4" stroke-width="0.9"/>
<line x1="147.40" y1="451.40" x2="153.40" y2="451.40" stroke="#2b9ad4" stroke-width="0.9"/>
<line x1="147.40" y1="458.20" x2="153.40" y2="458.20" stroke="#2b9ad4" stroke-width="0.9"/>
<line x1="95.60" y1="430.80" x2="149.80" y2="430.80" stroke="#444" stroke-width="1.0"/>
<circle cx="117.70" cy="427.50" r="1.1" fill="#484848"/>
<circle cx="120.70" cy="427.50" r="1.1" fill="#484848"/>
<circle cx="123.70" cy="427.50" r="1.1" fill="#484848"/>
<circle cx="126.70" cy="427.50" r="1.1" fill="#484848"/>
<line x1="128.50" y1="436.30" x2="149.80" y2="436.30" stroke="#444" stroke-width="1.0"/>
<circle cx="134.50" cy="433.00" r="1.1" fill="#484848"/>
<circle cx="137.50" cy="433.00" r="1.1" fill="#484848"/>
<circle cx="140.50" cy="433.00" r="1.1" fill="#484848"/>
<circle cx="143.50" cy="433.00" r="1.1" fill="#484848"/>
<line x1="74.20" y1="461.90" x2="130.00" y2="461.90" stroke="#444" stroke-width="1.0"/>
<circle cx="100.50" cy="458.60" r="1.1" fill="#484848"/>
<circle cx="103.50" cy="458.60" r="1.1" fill="#484848"/>
<line x1="74.20" y1="507.10" x2="95.10" y2="507.10" stroke="#444" stroke-width="1.0"/>
<circle cx="84.60" cy="503.80" r="1.1" fill="#484848"/>
<text x="74.2" y="559.2" font-size="6.6" text-anchor="middle" fill="#2b2b2b" stroke="#2b2b2b" stroke-width="0.16" textLength="8.1" lengthAdjust="spacingAndGlyphs">RT</text>
<text x="94.8" y="559.2" font-size="6.6" text-anchor="middle" fill="#2b2b2b" stroke="#2b2b2b" stroke-width="0.16" textLength="14.0" lengthAdjust="spacingAndGlyphs">Cold</text>
<text x="129.4" y="559.2" font-size="6.6" text-anchor="middle" fill="#2b2b2b" stroke="#2b2b2b" stroke-width="0.16" textLength="8.1" lengthAdjust="spacingAndGlyphs">RT</text>
<text x="150.8" y="559.2" font-size="6.6" text-anchor="middle" fill="#2b2b2b" stroke="#2b2b2b" stroke-width="0.16" textLength="14.0" lengthAdjust="spacingAndGlyphs">Cold</text>
<text x="84.9" y="571.8" font-size="8.5" text-anchor="middle" fill="#2b2b2b" stroke="#2b2b2b" stroke-width="0.16" textLength="16.4" lengthAdjust="spacingAndGlyphs">Large</text>
<text x="140.2" y="571.8" font-size="8.5" text-anchor="middle" fill="#2b2b2b" stroke="#2b2b2b" stroke-width="0.16" textLength="17.1" lengthAdjust="spacingAndGlyphs">Small</text>
<text transform="translate(29.5,488.4) rotate(-90)" x="0" y="0" font-size="8.0" text-anchor="middle" fill="#2b2b2b" stroke="#2b2b2b" stroke-width="0.16" textLength="40.4" lengthAdjust="spacingAndGlyphs">PMP (*10<tspan font-size="5" dy="-2.8">9</tspan><tspan dy="2.8">/L)</tspan></text>
<text x="236.6" y="398.6" font-size="9" text-anchor="start" fill="#2b2b2b" stroke="#2b2b2b" stroke-width="0.16" textLength="101.0" lengthAdjust="spacingAndGlyphs">Phosphatidylserine (PS) +</text>
<text x="229.7" y="410.0" font-size="9" text-anchor="start" fill="#2b2b2b" stroke="#2b2b2b" stroke-width="0.16" textLength="113.8" lengthAdjust="spacingAndGlyphs">Platelet microparticles (PMP)</text>
<text x="267.7" y="420.2" font-size="9" text-anchor="start" fill="#2b2b2b" stroke="#2b2b2b" stroke-width="0.16" textLength="37.1" lengthAdjust="spacingAndGlyphs">in plasma</text>
<rect x="242.60" y="540.20" width="12.00" height="7.10" fill="#e48b7d" stroke="none" stroke-width="1"/>
<rect x="262.60" y="535.60" width="12.80" height="11.70" fill="#afd1f1" stroke="none" stroke-width="1"/>
<rect x="297.20" y="509.70" width="13.40" height="37.60" fill="#e48b7d" stroke="none" stroke-width="1"/>
<rect x="318.50" y="461.00" width="13.20" height="86.30" fill="#afd1f1" stroke="none" stroke-width="1"/>
<line x1="286.4" y1="483.2" x2="286.4" y2="547.3" stroke="#1a1a1a" stroke-width="1.35" stroke-dasharray="5.1,2.05"/>
<line x1="231.00" y1="428.50" x2="231.00" y2="514.80" stroke="#2a2a2a" stroke-width="1.3"/>
<line x1="231.00" y1="518.80" x2="231.00" y2="547.90" stroke="#2a2a2a" stroke-width="1.3"/>
<path d="M229.6,514.9 L232.5,517.8 M229.3,516.0 L232.5,518.8" stroke="#2a2a2a" stroke-width="1.0" fill="none"/>
<line x1="230.40" y1="547.30" x2="341.30" y2="547.30" stroke="#2a2a2a" stroke-width="1.3"/>
<line x1="228.40" y1="430.50" x2="231.00" y2="430.50" stroke="#2a2a2a" stroke-width="1.0"/>
<text x="225.4" y="432.8" font-size="6.4" text-anchor="end" fill="#333" stroke="#333" stroke-width="0.16">200</text>
<line x1="228.40" y1="452.60" x2="231.00" y2="452.60" stroke="#2a2a2a" stroke-width="1.0"/>
<text x="225.4" y="454.9" font-size="6.4" text-anchor="end" fill="#333" stroke="#333" stroke-width="0.16">1500</text>
<line x1="228.40" y1="474.70" x2="231.00" y2="474.70" stroke="#2a2a2a" stroke-width="1.0"/>
<text x="225.4" y="477.0" font-size="6.4" text-anchor="end" fill="#333" stroke="#333" stroke-width="0.16">100</text>
<line x1="228.40" y1="496.90" x2="231.00" y2="496.90" stroke="#2a2a2a" stroke-width="1.0"/>
<text x="225.4" y="499.2" font-size="6.4" text-anchor="end" fill="#333" stroke="#333" stroke-width="0.16">50</text>
<line x1="228.40" y1="523.50" x2="231.00" y2="523.50" stroke="#2a2a2a" stroke-width="1.0"/>
<text x="225.4" y="525.8" font-size="6.4" text-anchor="end" fill="#333" stroke="#333" stroke-width="0.16">10</text>
<line x1="228.40" y1="535.40" x2="231.00" y2="535.40" stroke="#2a2a2a" stroke-width="1.0"/>
<text x="225.4" y="537.7" font-size="6.4" text-anchor="end" fill="#333" stroke="#333" stroke-width="0.16">5</text>
<line x1="228.40" y1="547.10" x2="231.00" y2="547.10" stroke="#2a2a2a" stroke-width="1.0"/>
<text x="225.4" y="549.4" font-size="6.4" text-anchor="end" fill="#333" stroke="#333" stroke-width="0.16">0</text>
<line x1="248.30" y1="547.30" x2="248.30" y2="549.90" stroke="#2a2a2a" stroke-width="1.0"/>
<line x1="269.00" y1="547.30" x2="269.00" y2="549.90" stroke="#2a2a2a" stroke-width="1.0"/>
<line x1="303.90" y1="547.30" x2="303.90" y2="549.90" stroke="#2a2a2a" stroke-width="1.0"/>
<line x1="324.60" y1="547.30" x2="324.60" y2="549.90" stroke="#2a2a2a" stroke-width="1.0"/>
<circle cx="248.2" cy="523.7" r="1.65" fill="#b8102e"/>
<circle cx="248.2" cy="533.0" r="1.65" fill="#b8102e"/>
<circle cx="245.6" cy="538.8" r="1.65" fill="#b8102e"/>
<circle cx="248.2" cy="538.4" r="1.65" fill="#b8102e"/>
<circle cx="250.7" cy="538.8" r="1.65" fill="#b8102e"/>
<circle cx="243.5" cy="542.2" r="1.65" fill="#b8102e"/>
<circle cx="246.9" cy="541.8" r="1.65" fill="#b8102e"/>
<circle cx="249.9" cy="541.8" r="1.65" fill="#b8102e"/>
<circle cx="252.8" cy="542.6" r="1.65" fill="#b8102e"/>
<circle cx="246.0" cy="544.7" r="1.65" fill="#b8102e"/>
<circle cx="249.0" cy="544.7" r="1.65" fill="#b8102e"/>
<circle cx="251.5" cy="545.0" r="1.65" fill="#b8102e"/>
<rect x="269.9" y="520.3" width="3.2" height="3.2" fill="#2b9ad4"/>
<rect x="265.0" y="523.7" width="3.2" height="3.2" fill="#2b9ad4"/>
<rect x="262.8" y="530.0" width="3.2" height="3.2" fill="#2b9ad4"/>
<rect x="267.6" y="530.3" width="3.2" height="3.2" fill="#2b9ad4"/>
<rect x="272.4" y="529.6" width="3.2" height="3.2" fill="#2b9ad4"/>
<rect x="267.6" y="533.4" width="3.2" height="3.2" fill="#2b9ad4"/>
<rect x="262.2" y="537.6" width="3.2" height="3.2" fill="#2b9ad4"/>
<rect x="266.1" y="538.1" width="3.2" height="3.2" fill="#2b9ad4"/>
<rect x="269.9" y="538.5" width="3.2" height="3.2" fill="#2b9ad4"/>
<rect x="272.8" y="537.6" width="3.2" height="3.2" fill="#2b9ad4"/>
<rect x="264.2" y="540.9" width="3.2" height="3.2" fill="#2b9ad4"/>
<rect x="270.9" y="541.4" width="3.2" height="3.2" fill="#2b9ad4"/>
<circle cx="304.0" cy="496.2" r="1.65" fill="#b8102e"/>
<circle cx="299.3" cy="507.8" r="1.65" fill="#b8102e"/>
<circle cx="304.0" cy="506.7" r="1.65" fill="#b8102e"/>
<circle cx="308.3" cy="507.8" r="1.65" fill="#b8102e"/>
<circle cx="301.7" cy="511.7" r="1.65" fill="#b8102e"/>
<circle cx="305.0" cy="513.2" r="1.65" fill="#b8102e"/>
<circle cx="307.2" cy="512.7" r="1.65" fill="#b8102e"/>
<circle cx="304.0" cy="523.7" r="1.65" fill="#b8102e"/>
<circle cx="304.0" cy="546.7" r="1.65" fill="#b8102e"/>
<line x1="324.80" y1="443.80" x2="324.80" y2="468.00" stroke="#2b9ad4" stroke-width="0.9"/>
<line x1="321.10" y1="443.80" x2="328.50" y2="443.80" stroke="#2b9ad4" stroke-width="0.9"/>
<line x1="321.10" y1="468.00" x2="328.50" y2="468.00" stroke="#2b9ad4" stroke-width="0.9"/>
<rect x="323.2" y="448.9" width="3.2" height="3.2" fill="#2b9ad4"/>
<rect x="323.2" y="466.1" width="3.2" height="3.2" fill="#2b9ad4"/>
<rect x="325.6" y="470.2" width="3.2" height="3.2" fill="#2b9ad4"/>
<rect x="320.6" y="474.7" width="3.2" height="3.2" fill="#2b9ad4"/>
<rect x="323.2" y="474.4" width="3.2" height="3.2" fill="#2b9ad4"/>
<rect x="323.2" y="499.9" width="3.2" height="3.2" fill="#2b9ad4"/>
<rect x="325.6" y="502.1" width="3.2" height="3.2" fill="#2b9ad4"/>
<rect x="320.6" y="506.2" width="3.2" height="3.2" fill="#2b9ad4"/>
<line x1="269.40" y1="430.20" x2="323.90" y2="430.20" stroke="#444" stroke-width="1.0"/>
<circle cx="295.10" cy="426.90" r="1.1" fill="#484848"/>
<circle cx="298.10" cy="426.90" r="1.1" fill="#484848"/>
<line x1="303.20" y1="435.90" x2="323.90" y2="435.90" stroke="#444" stroke-width="1.0"/>
<circle cx="313.40" cy="432.60" r="1.1" fill="#484848"/>
<line x1="248.70" y1="460.30" x2="303.80" y2="460.30" stroke="#444" stroke-width="1.0"/>
<circle cx="274.90" cy="457.00" r="1.1" fill="#484848"/>
<circle cx="277.90" cy="457.00" r="1.1" fill="#484848"/>
<text x="248.3" y="559.4" font-size="6.6" text-anchor="middle" fill="#2b2b2b" stroke="#2b2b2b" stroke-width="0.16" textLength="8.1" lengthAdjust="spacingAndGlyphs">RT</text>
<text x="269.0" y="559.4" font-size="6.6" text-anchor="middle" fill="#2b2b2b" stroke="#2b2b2b" stroke-width="0.16" textLength="14.0" lengthAdjust="spacingAndGlyphs">Cold</text>
<text x="303.8" y="559.4" font-size="6.6" text-anchor="middle" fill="#2b2b2b" stroke="#2b2b2b" stroke-width="0.16" textLength="8.1" lengthAdjust="spacingAndGlyphs">RT</text>
<text x="324.5" y="559.4" font-size="6.6" text-anchor="middle" fill="#2b2b2b" stroke="#2b2b2b" stroke-width="0.16" textLength="14.0" lengthAdjust="spacingAndGlyphs">Cold</text>
<text x="259.0" y="571.8" font-size="8.5" text-anchor="middle" fill="#2b2b2b" stroke="#2b2b2b" stroke-width="0.16" textLength="16.4" lengthAdjust="spacingAndGlyphs">Large</text>
<text x="314.5" y="571.8" font-size="8.5" text-anchor="middle" fill="#2b2b2b" stroke="#2b2b2b" stroke-width="0.16" textLength="17.1" lengthAdjust="spacingAndGlyphs">Small</text>
<text transform="translate(204.6,488.2) rotate(-90)" x="0" y="0" font-size="8.0" text-anchor="middle" fill="#2b2b2b" stroke="#2b2b2b" stroke-width="0.16" textLength="61.5" lengthAdjust="spacingAndGlyphs">PS(+) PMP (*10<tspan font-size="5" dy="-2.8">9</tspan><tspan dy="2.8">/L)</tspan></text>
<text x="415.0" y="399.5" font-size="9" text-anchor="start" fill="#2b2b2b" stroke="#2b2b2b" stroke-width="0.16" textLength="79.8" lengthAdjust="spacingAndGlyphs">P-Selectin + Platelet</text>
<text x="414.0" y="410.0" font-size="9" text-anchor="start" fill="#2b2b2b" stroke="#2b2b2b" stroke-width="0.16" textLength="81.5" lengthAdjust="spacingAndGlyphs">microparticles (PMP)</text>
<text x="436.0" y="420.3" font-size="9" text-anchor="start" fill="#2b2b2b" stroke="#2b2b2b" stroke-width="0.16" textLength="37.0" lengthAdjust="spacingAndGlyphs">in plasma</text>
<rect x="410.50" y="543.60" width="13.00" height="3.80" fill="#e48b7d" stroke="none" stroke-width="1"/>
<rect x="431.60" y="540.90" width="13.10" height="6.50" fill="#afd1f1" stroke="none" stroke-width="1"/>
<rect x="466.00" y="523.90" width="13.10" height="23.50" fill="#e48b7d" stroke="none" stroke-width="1"/>
<rect x="487.10" y="459.20" width="12.70" height="88.20" fill="#afd1f1" stroke="none" stroke-width="1"/>
<line x1="454.9" y1="483.2" x2="454.9" y2="547.4" stroke="#1a1a1a" stroke-width="1.35" stroke-dasharray="5.1,2.05"/>
<line x1="399.20" y1="428.30" x2="399.20" y2="548.00" stroke="#2a2a2a" stroke-width="1.3"/>
<line x1="398.60" y1="547.40" x2="510.00" y2="547.40" stroke="#2a2a2a" stroke-width="1.3"/>
<line x1="396.60" y1="429.60" x2="399.20" y2="429.60" stroke="#2a2a2a" stroke-width="1.0"/>
<text x="394.0" y="431.9" font-size="6.4" text-anchor="end" fill="#333" stroke="#333" stroke-width="0.16">50</text>
<line x1="396.60" y1="453.20" x2="399.20" y2="453.20" stroke="#2a2a2a" stroke-width="1.0"/>
<text x="394.0" y="455.5" font-size="6.4" text-anchor="end" fill="#333" stroke="#333" stroke-width="0.16">40</text>
<line x1="396.60" y1="476.80" x2="399.20" y2="476.80" stroke="#2a2a2a" stroke-width="1.0"/>
<text x="394.0" y="479.1" font-size="6.4" text-anchor="end" fill="#333" stroke="#333" stroke-width="0.16">30</text>
<line x1="396.60" y1="500.40" x2="399.20" y2="500.40" stroke="#2a2a2a" stroke-width="1.0"/>
<text x="394.0" y="502.7" font-size="6.4" text-anchor="end" fill="#333" stroke="#333" stroke-width="0.16">20</text>
<line x1="396.60" y1="524.00" x2="399.20" y2="524.00" stroke="#2a2a2a" stroke-width="1.0"/>
<text x="394.0" y="526.3" font-size="6.4" text-anchor="end" fill="#333" stroke="#333" stroke-width="0.16">10</text>
<line x1="396.60" y1="547.20" x2="399.20" y2="547.20" stroke="#2a2a2a" stroke-width="1.0"/>
<text x="394.0" y="549.5" font-size="6.4" text-anchor="end" fill="#333" stroke="#333" stroke-width="0.16">0</text>
<line x1="416.30" y1="547.40" x2="416.30" y2="550.00" stroke="#2a2a2a" stroke-width="1.0"/>
<line x1="438.10" y1="547.40" x2="438.10" y2="550.00" stroke="#2a2a2a" stroke-width="1.0"/>
<line x1="472.60" y1="547.40" x2="472.60" y2="550.00" stroke="#2a2a2a" stroke-width="1.0"/>
<line x1="493.30" y1="547.40" x2="493.30" y2="550.00" stroke="#2a2a2a" stroke-width="1.0"/>
<circle cx="412.4" cy="538.4" r="1.65" fill="#b8102e"/>
<circle cx="421.4" cy="538.2" r="1.65" fill="#b8102e"/>
<circle cx="416.7" cy="541.0" r="1.65" fill="#b8102e"/>
<circle cx="414.5" cy="543.1" r="1.65" fill="#b8102e"/>
<circle cx="418.0" cy="542.7" r="1.65" fill="#b8102e"/>
<circle cx="412.8" cy="544.8" r="1.65" fill="#b8102e"/>
<circle cx="416.2" cy="544.8" r="1.65" fill="#b8102e"/>
<circle cx="420.1" cy="544.4" r="1.65" fill="#b8102e"/>
<circle cx="418.0" cy="545.5" r="1.65" fill="#b8102e"/>
<rect x="435.8" y="527.7" width="3.2" height="3.2" fill="#2b9ad4"/>
<rect x="431.5" y="537.2" width="3.2" height="3.2" fill="#2b9ad4"/>
<rect x="435.8" y="536.1" width="3.2" height="3.2" fill="#2b9ad4"/>
<rect x="440.6" y="538.1" width="3.2" height="3.2" fill="#2b9ad4"/>
<rect x="432.8" y="539.8" width="3.2" height="3.2" fill="#2b9ad4"/>
<rect x="435.8" y="539.4" width="3.2" height="3.2" fill="#2b9ad4"/>
<rect x="438.9" y="540.2" width="3.2" height="3.2" fill="#2b9ad4"/>
<rect x="434.1" y="541.9" width="3.2" height="3.2" fill="#2b9ad4"/>
<rect x="437.6" y="542.4" width="3.2" height="3.2" fill="#2b9ad4"/>
<line x1="472.80" y1="514.30" x2="472.80" y2="532.20" stroke="#b8102e" stroke-width="0.9"/>
<line x1="469.80" y1="514.30" x2="475.80" y2="514.30" stroke="#b8102e" stroke-width="0.9"/>
<line x1="469.80" y1="532.20" x2="475.80" y2="532.20" stroke="#b8102e" stroke-width="0.9"/>
<circle cx="472.5" cy="464.2" r="1.65" fill="#b8102e"/>
<circle cx="472.5" cy="508.2" r="1.65" fill="#b8102e"/>
<circle cx="475.2" cy="511.0" r="1.65" fill="#b8102e"/>
<circle cx="469.7" cy="514.8" r="1.65" fill="#b8102e"/>
<circle cx="467.1" cy="535.9" r="1.65" fill="#b8102e"/>
<circle cx="475.2" cy="539.8" r="1.65" fill="#b8102e"/>
<circle cx="471.9" cy="545.3" r="1.65" fill="#b8102e"/>
<circle cx="477.3" cy="545.7" r="1.65" fill="#b8102e"/>
<line x1="493.20" y1="449.00" x2="493.20" y2="469.00" stroke="#2b9ad4" stroke-width="0.9"/>
<line x1="490.20" y1="449.00" x2="496.20" y2="449.00" stroke="#2b9ad4" stroke-width="0.9"/>
<line x1="490.20" y1="469.00" x2="496.20" y2="469.00" stroke="#2b9ad4" stroke-width="0.9"/>
<rect x="489.4" y="436.9" width="3.2" height="3.2" fill="#2b9ad4"/>
<rect x="493.8" y="438.4" width="3.2" height="3.2" fill="#2b9ad4"/>
<rect x="488.8" y="447.8" width="3.2" height="3.2" fill="#2b9ad4"/>
<rect x="489.4" y="451.1" width="3.2" height="3.2" fill="#2b9ad4"/>
<rect x="487.3" y="483.8" width="3.2" height="3.2" fill="#2b9ad4"/>
<rect x="491.6" y="481.6" width="3.2" height="3.2" fill="#2b9ad4"/>
<rect x="491.6" y="487.7" width="3.2" height="3.2" fill="#2b9ad4"/>
<rect x="496.4" y="487.7" width="3.2" height="3.2" fill="#2b9ad4"/>
<line x1="438.10" y1="430.20" x2="492.60" y2="430.20" stroke="#444" stroke-width="1.0"/>
<circle cx="460.90" cy="426.90" r="1.1" fill="#484848"/>
<circle cx="463.90" cy="426.90" r="1.1" fill="#484848"/>
<circle cx="466.90" cy="426.90" r="1.1" fill="#484848"/>
<circle cx="469.90" cy="426.90" r="1.1" fill="#484848"/>
<line x1="474.00" y1="435.70" x2="495.20" y2="435.70" stroke="#444" stroke-width="1.0"/>
<circle cx="482.00" cy="432.40" r="1.1" fill="#484848"/>
<circle cx="485.00" cy="432.40" r="1.1" fill="#484848"/>
<circle cx="488.00" cy="432.40" r="1.1" fill="#484848"/>
<line x1="417.40" y1="461.40" x2="471.50" y2="461.40" stroke="#444" stroke-width="1.0"/>
<circle cx="444.70" cy="458.10" r="1.1" fill="#484848"/>
<text x="416.3" y="559.4" font-size="6.6" text-anchor="middle" fill="#2b2b2b" stroke="#2b2b2b" stroke-width="0.16" textLength="8.1" lengthAdjust="spacingAndGlyphs">RT</text>
<text x="438.1" y="559.4" font-size="6.6" text-anchor="middle" fill="#2b2b2b" stroke="#2b2b2b" stroke-width="0.16" textLength="14.0" lengthAdjust="spacingAndGlyphs">Cold</text>
<text x="472.5" y="559.4" font-size="6.6" text-anchor="middle" fill="#2b2b2b" stroke="#2b2b2b" stroke-width="0.16" textLength="8.1" lengthAdjust="spacingAndGlyphs">RT</text>
<text x="493.2" y="559.4" font-size="6.6" text-anchor="middle" fill="#2b2b2b" stroke="#2b2b2b" stroke-width="0.16" textLength="14.0" lengthAdjust="spacingAndGlyphs">Cold</text>
<text x="427.2" y="571.8" font-size="8.5" text-anchor="middle" fill="#2b2b2b" stroke="#2b2b2b" stroke-width="0.16" textLength="16.4" lengthAdjust="spacingAndGlyphs">Large</text>
<text x="482.8" y="571.8" font-size="8.5" text-anchor="middle" fill="#2b2b2b" stroke="#2b2b2b" stroke-width="0.16" textLength="17.1" lengthAdjust="spacingAndGlyphs">Small</text>
<text transform="translate(384.2,489.0) rotate(-90)" x="0" y="0" font-size="8.0" text-anchor="middle" fill="#2b2b2b" stroke="#2b2b2b" stroke-width="0.16" textLength="77.0" lengthAdjust="spacingAndGlyphs">P-selectin(+) PMP (*10<tspan font-size="5" dy="-2.8">9</tspan><tspan dy="2.8">/L)</tspan></text>
<text x="50.0" y="606.7" font-size="9" text-anchor="start" fill="#2b2b2b" stroke="#2b2b2b" stroke-width="0.16" textLength="82.5" lengthAdjust="spacingAndGlyphs">Thrombin generation</text>
<text x="62.0" y="617.3" font-size="9" text-anchor="start" fill="#2b2b2b" stroke="#2b2b2b" stroke-width="0.16" textLength="59.3" lengthAdjust="spacingAndGlyphs">peak in plasma</text>
<line x1="56.60" y1="630.00" x2="56.60" y2="715.80" stroke="#2a2a2a" stroke-width="1.3"/>
<line x1="56.00" y1="715.20" x2="125.80" y2="715.20" stroke="#2a2a2a" stroke-width="1.3"/>
<line x1="54.00" y1="631.60" x2="56.60" y2="631.60" stroke="#2a2a2a" stroke-width="1.0"/>
<text x="50.2" y="633.9" font-size="6.4" text-anchor="end" fill="#333" stroke="#333" stroke-width="0.16">400</text>
<line x1="54.00" y1="652.60" x2="56.60" y2="652.60" stroke="#2a2a2a" stroke-width="1.0"/>
<text x="50.2" y="654.9" font-size="6.4" text-anchor="end" fill="#333" stroke="#333" stroke-width="0.16">300</text>
<line x1="54.00" y1="673.50" x2="56.60" y2="673.50" stroke="#2a2a2a" stroke-width="1.0"/>
<text x="50.2" y="675.8" font-size="6.4" text-anchor="end" fill="#333" stroke="#333" stroke-width="0.16">200</text>
<line x1="54.00" y1="694.40" x2="56.60" y2="694.40" stroke="#2a2a2a" stroke-width="1.0"/>
<text x="50.2" y="696.7" font-size="6.4" text-anchor="end" fill="#333" stroke="#333" stroke-width="0.16">100</text>
<line x1="54.00" y1="715.20" x2="56.60" y2="715.20" stroke="#2a2a2a" stroke-width="1.0"/>
<text x="50.2" y="717.5" font-size="6.4" text-anchor="end" fill="#333" stroke="#333" stroke-width="0.16">0</text>
<line x1="75.60" y1="715.20" x2="75.60" y2="717.80" stroke="#2a2a2a" stroke-width="1.0"/>
<line x1="107.80" y1="715.20" x2="107.80" y2="717.80" stroke="#2a2a2a" stroke-width="1.0"/>
<circle cx="78.8" cy="678.8" r="2.05" fill="#b8102e"/>
<circle cx="72.9" cy="683.0" r="2.05" fill="#b8102e"/>
<circle cx="68.7" cy="697.6" r="2.05" fill="#b8102e"/>
<circle cx="74.6" cy="701.0" r="2.05" fill="#b8102e"/>
<circle cx="77.1" cy="701.4" r="2.05" fill="#b8102e"/>
<circle cx="82.4" cy="700.4" r="2.05" fill="#b8102e"/>
<circle cx="70.1" cy="708.9" r="2.05" fill="#b8102e"/>
<circle cx="81.8" cy="710.5" r="2.05" fill="#b8102e"/>
<circle cx="75.6" cy="714.6" r="2.05" fill="#b8102e"/>
<rect x="105.9" y="647.7" width="3.8" height="3.8" fill="#2b9ad4"/>
<rect x="100.2" y="665.7" width="3.8" height="3.8" fill="#2b9ad4"/>
<rect x="111.8" y="666.8" width="3.8" height="3.8" fill="#2b9ad4"/>
<rect x="105.5" y="668.9" width="3.8" height="3.8" fill="#2b9ad4"/>
<rect x="99.5" y="679.0" width="3.8" height="3.8" fill="#2b9ad4"/>
<rect x="111.8" y="679.4" width="3.8" height="3.8" fill="#2b9ad4"/>
<rect x="105.9" y="684.3" width="3.8" height="3.8" fill="#2b9ad4"/>
<rect x="102.7" y="706.5" width="3.8" height="3.8" fill="#2b9ad4"/>
<rect x="109.1" y="705.5" width="3.8" height="3.8" fill="#2b9ad4"/>
<line x1="67.60" y1="698.30" x2="83.50" y2="698.30" stroke="#b8102e" stroke-width="1.0"/>
<line x1="75.60" y1="695.10" x2="75.60" y2="702.50" stroke="#b8102e" stroke-width="0.9"/>
<line x1="71.40" y1="695.10" x2="79.80" y2="695.10" stroke="#b8102e" stroke-width="0.9"/>
<line x1="71.40" y1="702.50" x2="79.80" y2="702.50" stroke="#b8102e" stroke-width="0.9"/>
<line x1="100.00" y1="680.30" x2="115.00" y2="680.30" stroke="#2b9ad4" stroke-width="1.0"/>
<line x1="107.80" y1="673.50" x2="107.80" y2="686.20" stroke="#2b9ad4" stroke-width="0.9"/>
<line x1="103.60" y1="673.50" x2="112.00" y2="673.50" stroke="#2b9ad4" stroke-width="0.9"/>
<line x1="103.60" y1="686.20" x2="112.00" y2="686.20" stroke="#2b9ad4" stroke-width="0.9"/>
<line x1="76.00" y1="630.00" x2="103.10" y2="630.00" stroke="#444" stroke-width="1.0"/>
<circle cx="89.55" cy="626.70" r="1.1" fill="#484848"/>
<text x="75.6" y="726.8" font-size="6.6" text-anchor="middle" fill="#2b2b2b" stroke="#2b2b2b" stroke-width="0.16" textLength="7.4" lengthAdjust="spacingAndGlyphs">RT</text>
<text x="107.8" y="726.8" font-size="6.6" text-anchor="middle" fill="#2b2b2b" stroke="#2b2b2b" stroke-width="0.16" textLength="14.2" lengthAdjust="spacingAndGlyphs">Cold</text>
<text transform="translate(34.1,671.8) rotate(-90)" x="0" y="0" font-size="8.0" text-anchor="middle" fill="#2b2b2b" stroke="#2b2b2b" stroke-width="0.16" textLength="42.5" lengthAdjust="spacingAndGlyphs">Peak (nmol/L)</text>
<text x="180.8" y="606.7" font-size="9" text-anchor="start" fill="#2b2b2b" stroke="#2b2b2b" stroke-width="0.16" textLength="78.5" lengthAdjust="spacingAndGlyphs">Start Tail Time (STT)</text>
<text x="190.8" y="617.3" font-size="9" text-anchor="start" fill="#2b2b2b" stroke="#2b2b2b" stroke-width="0.16" textLength="58.7" lengthAdjust="spacingAndGlyphs">peak in plasma</text>
<line x1="184.90" y1="630.00" x2="184.90" y2="715.80" stroke="#2a2a2a" stroke-width="1.3"/>
<line x1="184.30" y1="715.20" x2="255.10" y2="715.20" stroke="#2a2a2a" stroke-width="1.3"/>
<line x1="182.30" y1="631.60" x2="184.90" y2="631.60" stroke="#2a2a2a" stroke-width="1.0"/>
<text x="178.5" y="633.9" font-size="6.4" text-anchor="end" fill="#333" stroke="#333" stroke-width="0.16">150</text>
<line x1="182.30" y1="659.50" x2="184.90" y2="659.50" stroke="#2a2a2a" stroke-width="1.0"/>
<text x="178.5" y="661.8" font-size="6.4" text-anchor="end" fill="#333" stroke="#333" stroke-width="0.16">100</text>
<line x1="182.30" y1="687.30" x2="184.90" y2="687.30" stroke="#2a2a2a" stroke-width="1.0"/>
<text x="178.5" y="689.6" font-size="6.4" text-anchor="end" fill="#333" stroke="#333" stroke-width="0.16">50</text>
<line x1="182.30" y1="715.20" x2="184.90" y2="715.20" stroke="#2a2a2a" stroke-width="1.0"/>
<text x="178.5" y="717.5" font-size="6.4" text-anchor="end" fill="#333" stroke="#333" stroke-width="0.16">0</text>
<line x1="204.60" y1="715.20" x2="204.60" y2="717.80" stroke="#2a2a2a" stroke-width="1.0"/>
<line x1="236.70" y1="715.20" x2="236.70" y2="717.80" stroke="#2a2a2a" stroke-width="1.0"/>
<circle cx="204.4" cy="649.2" r="2.05" fill="#b8102e"/>
<circle cx="204.4" cy="666.1" r="2.05" fill="#b8102e"/>
<circle cx="207.1" cy="670.8" r="2.05" fill="#b8102e"/>
<circle cx="198.2" cy="673.9" r="2.05" fill="#b8102e"/>
<circle cx="200.8" cy="674.6" r="2.05" fill="#b8102e"/>
<circle cx="207.5" cy="680.7" r="2.05" fill="#b8102e"/>
<circle cx="198.7" cy="686.2" r="2.05" fill="#b8102e"/>
<circle cx="204.6" cy="692.3" r="2.05" fill="#b8102e"/>
<circle cx="210.3" cy="692.3" r="2.05" fill="#b8102e"/>
<rect x="234.5" y="665.7" width="3.8" height="3.8" fill="#2b9ad4"/>
<rect x="234.5" y="675.9" width="3.8" height="3.8" fill="#2b9ad4"/>
<rect x="229.5" y="690.4" width="3.8" height="3.8" fill="#2b9ad4"/>
<rect x="232.6" y="689.7" width="3.8" height="3.8" fill="#2b9ad4"/>
<rect x="235.6" y="689.4" width="3.8" height="3.8" fill="#2b9ad4"/>
<rect x="239.0" y="690.4" width="3.8" height="3.8" fill="#2b9ad4"/>
<rect x="231.6" y="692.1" width="3.8" height="3.8" fill="#2b9ad4"/>
<rect x="236.1" y="692.1" width="3.8" height="3.8" fill="#2b9ad4"/>
<rect x="232.6" y="694.8" width="3.8" height="3.8" fill="#2b9ad4"/>
<line x1="195.50" y1="676.50" x2="213.50" y2="676.50" stroke="#b8102e" stroke-width="1.0"/>
<line x1="204.60" y1="671.80" x2="204.60" y2="681.40" stroke="#b8102e" stroke-width="0.9"/>
<line x1="200.40" y1="671.80" x2="208.80" y2="671.80" stroke="#b8102e" stroke-width="0.9"/>
<line x1="200.40" y1="681.40" x2="208.80" y2="681.40" stroke="#b8102e" stroke-width="0.9"/>
<line x1="228.10" y1="688.30" x2="245.20" y2="688.30" stroke="#2b9ad4" stroke-width="1.0"/>
<line x1="236.70" y1="685.20" x2="236.70" y2="692.00" stroke="#2b9ad4" stroke-width="0.9"/>
<line x1="232.50" y1="685.20" x2="240.90" y2="685.20" stroke="#2b9ad4" stroke-width="0.9"/>
<line x1="232.50" y1="692.00" x2="240.90" y2="692.00" stroke="#2b9ad4" stroke-width="0.9"/>
<line x1="205.00" y1="631.60" x2="233.60" y2="631.60" stroke="#444" stroke-width="1.0"/>
<circle cx="219.30" cy="628.30" r="1.1" fill="#484848"/>
<text x="204.6" y="726.8" font-size="6.6" text-anchor="middle" fill="#2b2b2b" stroke="#2b2b2b" stroke-width="0.16" textLength="7.4" lengthAdjust="spacingAndGlyphs">RT</text>
<text x="236.7" y="726.8" font-size="6.6" text-anchor="middle" fill="#2b2b2b" stroke="#2b2b2b" stroke-width="0.16" textLength="14.2" lengthAdjust="spacingAndGlyphs">Cold</text>
<text transform="translate(163.1,671.8) rotate(-90)" x="0" y="0" font-size="8.0" text-anchor="middle" fill="#2b2b2b" stroke="#2b2b2b" stroke-width="0.16" textLength="44.4" lengthAdjust="spacingAndGlyphs">STT peak (min)</text>
<text x="296.3" y="606.7" font-size="9" text-anchor="start" fill="#2b2b2b" stroke="#2b2b2b" stroke-width="0.16" textLength="93.3" lengthAdjust="spacingAndGlyphs">Time to Thrombin (TTT)</text>
<text x="290.0" y="617.3" font-size="9" text-anchor="start" fill="#2b2b2b" stroke="#2b2b2b" stroke-width="0.16" textLength="104.5" lengthAdjust="spacingAndGlyphs">generation peak in plasma</text>
<line x1="307.10" y1="630.00" x2="307.10" y2="715.80" stroke="#2a2a2a" stroke-width="1.3"/>
<line x1="306.50" y1="715.20" x2="377.30" y2="715.20" stroke="#2a2a2a" stroke-width="1.3"/>
<line x1="304.50" y1="631.60" x2="307.10" y2="631.60" stroke="#2a2a2a" stroke-width="1.0"/>
<text x="300.7" y="633.9" font-size="6.4" text-anchor="end" fill="#333" stroke="#333" stroke-width="0.16">80</text>
<line x1="304.50" y1="652.60" x2="307.10" y2="652.60" stroke="#2a2a2a" stroke-width="1.0"/>
<text x="300.7" y="654.9" font-size="6.4" text-anchor="end" fill="#333" stroke="#333" stroke-width="0.16">60</text>
<line x1="304.50" y1="673.50" x2="307.10" y2="673.50" stroke="#2a2a2a" stroke-width="1.0"/>
<text x="300.7" y="675.8" font-size="6.4" text-anchor="end" fill="#333" stroke="#333" stroke-width="0.16">40</text>
<line x1="304.50" y1="694.40" x2="307.10" y2="694.40" stroke="#2a2a2a" stroke-width="1.0"/>
<text x="300.7" y="696.7" font-size="6.4" text-anchor="end" fill="#333" stroke="#333" stroke-width="0.16">20</text>
<line x1="304.50" y1="715.20" x2="307.10" y2="715.20" stroke="#2a2a2a" stroke-width="1.0"/>
<text x="300.7" y="717.5" font-size="6.4" text-anchor="end" fill="#333" stroke="#333" stroke-width="0.16">0</text>
<line x1="326.50" y1="715.20" x2="326.50" y2="717.80" stroke="#2a2a2a" stroke-width="1.0"/>
<line x1="358.30" y1="715.20" x2="358.30" y2="717.80" stroke="#2a2a2a" stroke-width="1.0"/>
<circle cx="326.5" cy="653.4" r="2.05" fill="#b8102e"/>
<circle cx="326.5" cy="672.5" r="2.05" fill="#b8102e"/>
<circle cx="319.8" cy="682.0" r="2.05" fill="#b8102e"/>
<circle cx="332.9" cy="684.1" r="2.05" fill="#b8102e"/>
<circle cx="324.4" cy="686.2" r="2.05" fill="#b8102e"/>
<circle cx="329.1" cy="687.3" r="2.05" fill="#b8102e"/>
<circle cx="320.6" cy="694.5" r="2.05" fill="#b8102e"/>
<circle cx="332.5" cy="695.1" r="2.05" fill="#b8102e"/>
<circle cx="326.5" cy="696.6" r="2.05" fill="#b8102e"/>
<rect x="359.5" y="677.3" width="3.8" height="3.8" fill="#2b9ad4"/>
<rect x="353.6" y="681.1" width="3.8" height="3.8" fill="#2b9ad4"/>
<rect x="362.7" y="689.0" width="3.8" height="3.8" fill="#2b9ad4"/>
<rect x="351.1" y="692.1" width="3.8" height="3.8" fill="#2b9ad4"/>
<rect x="356.6" y="691.1" width="3.8" height="3.8" fill="#2b9ad4"/>
<rect x="363.8" y="694.7" width="3.8" height="3.8" fill="#2b9ad4"/>
<rect x="350.0" y="696.0" width="3.8" height="3.8" fill="#2b9ad4"/>
<rect x="359.1" y="698.1" width="3.8" height="3.8" fill="#2b9ad4"/>
<rect x="354.3" y="700.2" width="3.8" height="3.8" fill="#2b9ad4"/>
<line x1="318.00" y1="683.00" x2="335.40" y2="683.00" stroke="#b8102e" stroke-width="1.0"/>
<line x1="326.50" y1="678.80" x2="326.50" y2="688.30" stroke="#b8102e" stroke-width="0.9"/>
<line x1="322.30" y1="678.80" x2="330.70" y2="678.80" stroke="#b8102e" stroke-width="0.9"/>
<line x1="322.30" y1="688.30" x2="330.70" y2="688.30" stroke="#b8102e" stroke-width="0.9"/>
<line x1="349.50" y1="693.00" x2="367.00" y2="693.00" stroke="#2b9ad4" stroke-width="1.0"/>
<line x1="358.30" y1="690.20" x2="358.30" y2="695.10" stroke="#2b9ad4" stroke-width="0.9"/>
<line x1="354.10" y1="690.20" x2="362.50" y2="690.20" stroke="#2b9ad4" stroke-width="0.9"/>
<line x1="354.10" y1="695.10" x2="362.50" y2="695.10" stroke="#2b9ad4" stroke-width="0.9"/>
<text x="326.5" y="726.8" font-size="6.6" text-anchor="middle" fill="#2b2b2b" stroke="#2b2b2b" stroke-width="0.16" textLength="7.4" lengthAdjust="spacingAndGlyphs">RT</text>
<text x="358.3" y="726.8" font-size="6.6" text-anchor="middle" fill="#2b2b2b" stroke="#2b2b2b" stroke-width="0.16" textLength="14.2" lengthAdjust="spacingAndGlyphs">Cold</text>
<text transform="translate(288.2,671.8) rotate(-90)" x="0" y="0" font-size="8.0" text-anchor="middle" fill="#2b2b2b" stroke="#2b2b2b" stroke-width="0.16" textLength="44.4" lengthAdjust="spacingAndGlyphs">TTT peak (min)</text>
<text x="431.4" y="606.5" font-size="9" text-anchor="start" fill="#2b2b2b" stroke="#2b2b2b" stroke-width="0.16" textLength="84.3" lengthAdjust="spacingAndGlyphs">Thrombin generation</text>
<text x="437.8" y="616.5" font-size="9" text-anchor="start" fill="#2b2b2b" stroke="#2b2b2b" stroke-width="0.16" textLength="72.1" lengthAdjust="spacingAndGlyphs">lag time in plasma</text>
<line x1="438.20" y1="630.00" x2="438.20" y2="715.80" stroke="#2a2a2a" stroke-width="1.3"/>
<line x1="437.60" y1="715.20" x2="508.70" y2="715.20" stroke="#2a2a2a" stroke-width="1.3"/>
<line x1="435.60" y1="631.60" x2="438.20" y2="631.60" stroke="#2a2a2a" stroke-width="1.0"/>
<text x="431.8" y="633.9" font-size="6.4" text-anchor="end" fill="#333" stroke="#333" stroke-width="0.16">60</text>
<line x1="435.60" y1="659.50" x2="438.20" y2="659.50" stroke="#2a2a2a" stroke-width="1.0"/>
<text x="431.8" y="661.8" font-size="6.4" text-anchor="end" fill="#333" stroke="#333" stroke-width="0.16">40</text>
<line x1="435.60" y1="687.40" x2="438.20" y2="687.40" stroke="#2a2a2a" stroke-width="1.0"/>
<text x="431.8" y="689.7" font-size="6.4" text-anchor="end" fill="#333" stroke="#333" stroke-width="0.16">20</text>
<line x1="435.60" y1="715.20" x2="438.20" y2="715.20" stroke="#2a2a2a" stroke-width="1.0"/>
<text x="431.8" y="717.5" font-size="6.4" text-anchor="end" fill="#333" stroke="#333" stroke-width="0.16">0</text>
<line x1="456.80" y1="715.20" x2="456.80" y2="717.80" stroke="#2a2a2a" stroke-width="1.0"/>
<line x1="489.20" y1="715.20" x2="489.20" y2="717.80" stroke="#2a2a2a" stroke-width="1.0"/>
<circle cx="457.5" cy="646.4" r="2.05" fill="#b8102e"/>
<circle cx="460.4" cy="679.9" r="2.05" fill="#b8102e"/>
<circle cx="454.1" cy="682.4" r="2.05" fill="#b8102e"/>
<circle cx="463.2" cy="684.5" r="2.05" fill="#b8102e"/>
<circle cx="448.4" cy="688.8" r="2.05" fill="#b8102e"/>
<circle cx="457.5" cy="689.8" r="2.05" fill="#b8102e"/>
<circle cx="451.1" cy="693.6" r="2.05" fill="#b8102e"/>
<circle cx="463.2" cy="695.1" r="2.05" fill="#b8102e"/>
<circle cx="457.5" cy="699.8" r="2.05" fill="#b8102e"/>
<rect x="484.5" y="683.7" width="3.8" height="3.8" fill="#2b9ad4"/>
<rect x="490.5" y="683.1" width="3.8" height="3.8" fill="#2b9ad4"/>
<rect x="481.0" y="687.9" width="3.8" height="3.8" fill="#2b9ad4"/>
<rect x="487.7" y="692.1" width="3.8" height="3.8" fill="#2b9ad4"/>
<rect x="494.1" y="692.1" width="3.8" height="3.8" fill="#2b9ad4"/>
<rect x="481.4" y="696.8" width="3.8" height="3.8" fill="#2b9ad4"/>
<rect x="487.7" y="701.0" width="3.8" height="3.8" fill="#2b9ad4"/>
<rect x="493.6" y="700.0" width="3.8" height="3.8" fill="#2b9ad4"/>
<rect x="490.1" y="692.6" width="3.8" height="3.8" fill="#2b9ad4"/>
<line x1="448.40" y1="684.10" x2="466.30" y2="684.10" stroke="#b8102e" stroke-width="1.0"/>
<line x1="456.80" y1="679.20" x2="456.80" y2="689.40" stroke="#b8102e" stroke-width="0.9"/>
<line x1="452.60" y1="679.20" x2="461.00" y2="679.20" stroke="#b8102e" stroke-width="0.9"/>
<line x1="452.60" y1="689.40" x2="461.00" y2="689.40" stroke="#b8102e" stroke-width="0.9"/>
<line x1="481.00" y1="694.50" x2="497.00" y2="694.50" stroke="#2b9ad4" stroke-width="1.0"/>
<line x1="489.20" y1="691.00" x2="489.20" y2="697.50" stroke="#2b9ad4" stroke-width="0.9"/>
<line x1="485.00" y1="691.00" x2="493.40" y2="691.00" stroke="#2b9ad4" stroke-width="0.9"/>
<line x1="485.00" y1="697.50" x2="493.40" y2="697.50" stroke="#2b9ad4" stroke-width="0.9"/>
<text x="456.8" y="726.8" font-size="6.6" text-anchor="middle" fill="#2b2b2b" stroke="#2b2b2b" stroke-width="0.16" textLength="7.4" lengthAdjust="spacingAndGlyphs">RT</text>
<text x="489.2" y="726.8" font-size="6.6" text-anchor="middle" fill="#2b2b2b" stroke="#2b2b2b" stroke-width="0.16" textLength="14.2" lengthAdjust="spacingAndGlyphs">Cold</text>
<text transform="translate(420.2,671.8) rotate(-90)" x="0" y="0" font-size="8.0" text-anchor="middle" fill="#2b2b2b" stroke="#2b2b2b" stroke-width="0.16" textLength="44.4" lengthAdjust="spacingAndGlyphs">Lag time (min)</text>
<rect x="0.5" y="0.5" width="519" height="733" fill="none" stroke="#444" stroke-width="1"/>
</svg></body></html>
